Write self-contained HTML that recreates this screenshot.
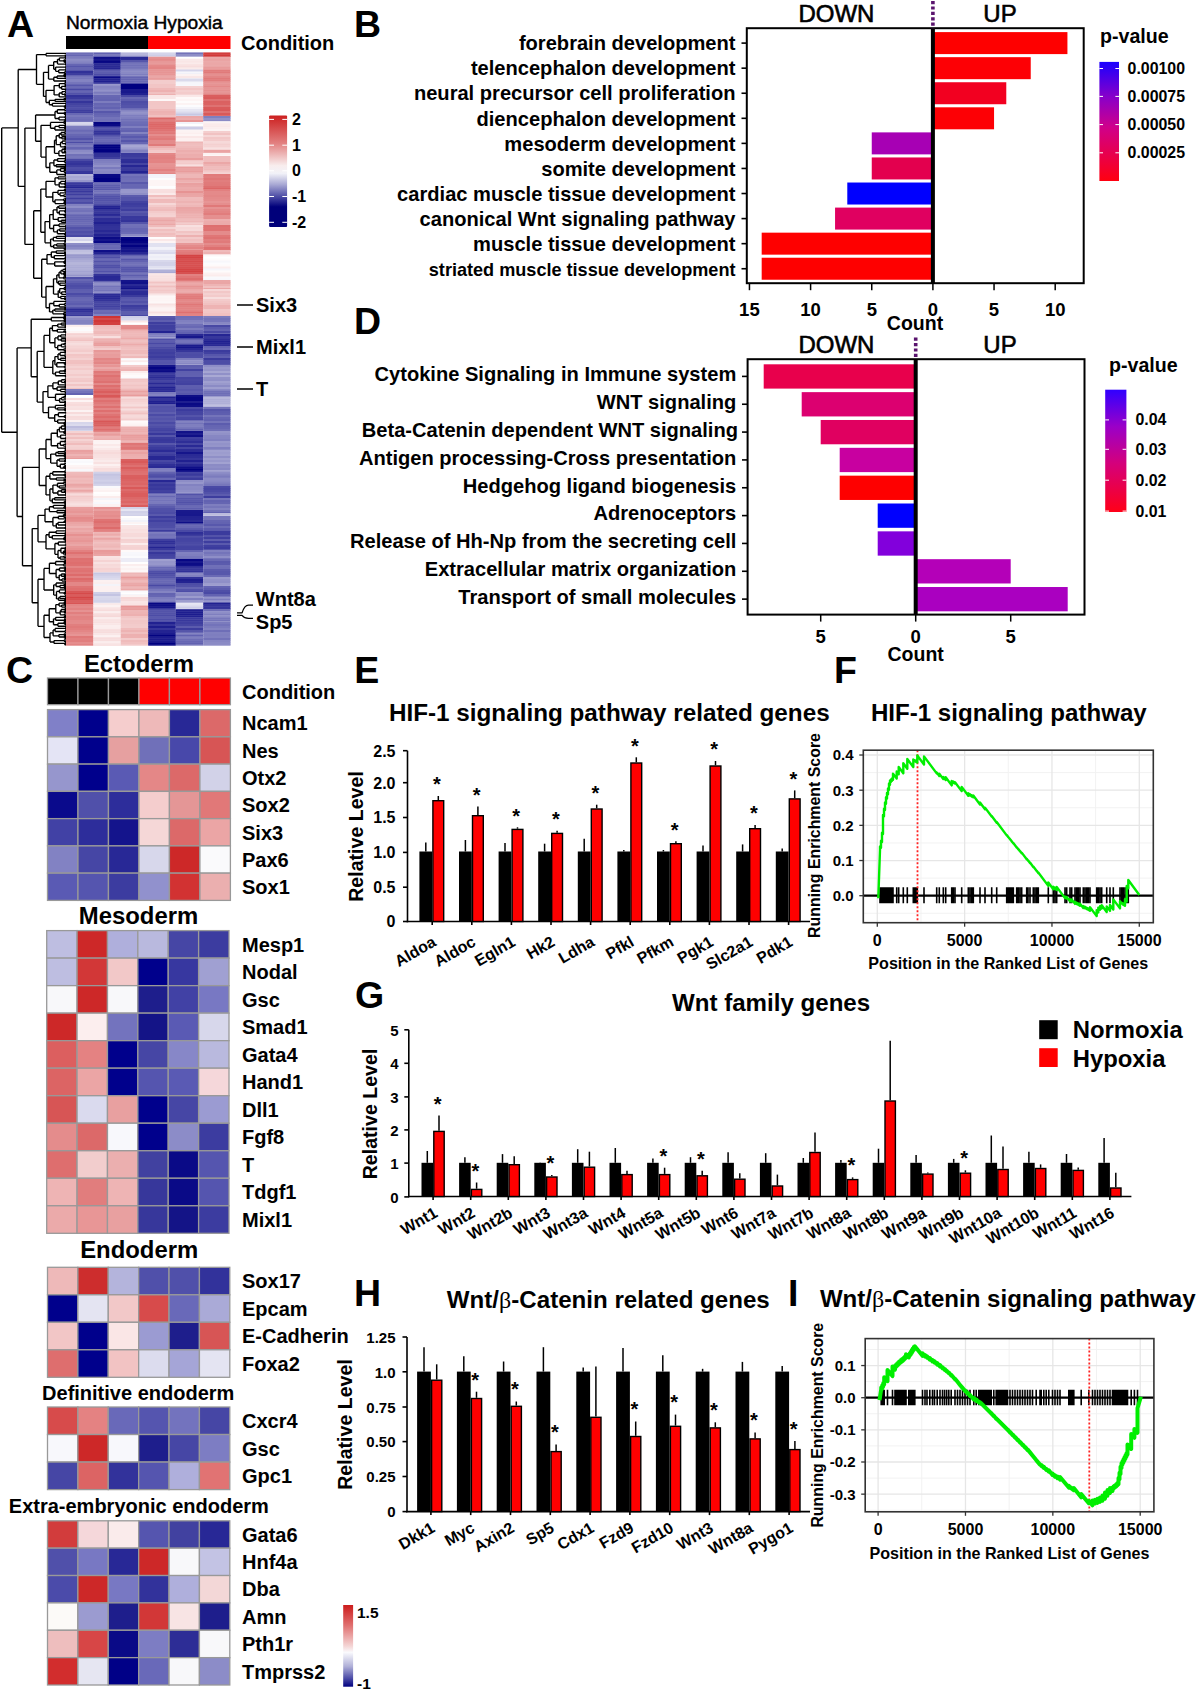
<!DOCTYPE html>
<html><head><meta charset="utf-8"><style>
html,body{margin:0;padding:0;background:#fff;width:1200px;height:1690px;overflow:hidden}
svg{display:block;font-family:"Liberation Sans",sans-serif;font-weight:bold}
</style></head><body>
<svg width="1200" height="1690" viewBox="0 0 1200 1690">
<text x="7.1" y="37.4" font-size="37.5" >A</text>
<text x="66.0" y="28.8" font-size="19.2" font-weight="normal" stroke="#000" stroke-width="0.45">Normoxia Hypoxia</text>
<rect x="66.00" y="36.00" width="82.00" height="13.00" fill="#000" />
<rect x="148.00" y="36.00" width="82.50" height="13.00" fill="#f00" />
<text x="241.0" y="50.0" font-size="20" >Condition</text>
<rect x="66" y="52.4" width="27.45" height="2.4" fill="#6c6cb6"/><rect x="66" y="54.4" width="27.45" height="2.4" fill="#6666b3"/><rect x="66" y="56.4" width="27.45" height="0.7" fill="#7878bc"/><rect x="66" y="56.7" width="27.45" height="2.4" fill="#7d7dbe"/><rect x="66" y="58.7" width="27.45" height="2.4" fill="#8e8ec6"/><rect x="66" y="60.7" width="27.45" height="2.4" fill="#8787c3"/><rect x="66" y="62.7" width="27.45" height="1.1" fill="#7c7cbe"/><rect x="66" y="63.5" width="27.45" height="2.4" fill="#6666b3"/><rect x="66" y="65.5" width="27.45" height="2.4" fill="#5555ab"/><rect x="66" y="67.5" width="27.45" height="2.4" fill="#6464b2"/><rect x="66" y="69.5" width="27.45" height="1.9" fill="#5757ab"/><rect x="66" y="71.0" width="27.45" height="2.4" fill="#313198"/><rect x="66" y="73.0" width="27.45" height="2.4" fill="#3d3d9e"/><rect x="66" y="75.0" width="27.45" height="0.9" fill="#4b4ba6"/><rect x="66" y="75.5" width="27.45" height="2.4" fill="#7272b9"/><rect x="66" y="77.5" width="27.45" height="2.4" fill="#7676bb"/><rect x="66" y="79.5" width="27.45" height="2.4" fill="#8484c2"/><rect x="66" y="81.5" width="27.45" height="2.4" fill="#7676bb"/><rect x="66" y="83.5" width="27.45" height="1.4" fill="#6969b4"/><rect x="66" y="84.5" width="27.45" height="2.4" fill="#5656ab"/><rect x="66" y="86.5" width="27.45" height="2.4" fill="#6a6ab5"/><rect x="66" y="88.5" width="27.45" height="2.4" fill="#4949a4"/><rect x="66" y="90.5" width="27.45" height="2.4" fill="#6666b3"/><rect x="66" y="92.5" width="27.45" height="2.4" fill="#5252a9"/><rect x="66" y="94.5" width="27.45" height="0.9" fill="#4d4da6"/><rect x="66" y="95.0" width="27.45" height="2.4" fill="#323299"/><rect x="66" y="97.0" width="27.45" height="2.4" fill="#39399c"/><rect x="66" y="99.0" width="27.45" height="2.4" fill="#4b4ba5"/><rect x="66" y="101.0" width="27.45" height="2.4" fill="#34349a"/><rect x="66" y="103.0" width="27.45" height="2.4" fill="#4343a1"/><rect x="66" y="105.0" width="27.45" height="0.9" fill="#4545a2"/><rect x="66" y="105.5" width="27.45" height="2.4" fill="#4848a4"/><rect x="66" y="107.5" width="27.45" height="2.4" fill="#4e4ea7"/><rect x="66" y="109.5" width="27.45" height="2.4" fill="#3d3d9e"/><rect x="66" y="111.5" width="27.45" height="1.9" fill="#3d3d9e"/><rect x="66" y="113.0" width="27.45" height="2.4" fill="#6868b4"/><rect x="66" y="115.0" width="27.45" height="2.4" fill="#7979bc"/><rect x="66" y="117.0" width="27.45" height="2.4" fill="#7070b8"/><rect x="66" y="119.0" width="27.45" height="2.4" fill="#6c6cb6"/><rect x="66" y="121.0" width="27.45" height="1.4" fill="#7676bb"/><rect x="66" y="122.0" width="27.45" height="2.4" fill="#d7d7eb"/><rect x="66" y="124.0" width="27.45" height="2.1" fill="#d2d2e8"/><rect x="66" y="125.7" width="27.45" height="2.4" fill="#7d7dbe"/><rect x="66" y="127.7" width="27.45" height="2.4" fill="#7a7abd"/><rect x="66" y="129.7" width="27.45" height="2.4" fill="#6a6ab5"/><rect x="66" y="131.7" width="27.45" height="2.4" fill="#7575ba"/><rect x="66" y="133.7" width="27.45" height="0.6" fill="#7474ba"/><rect x="66" y="134.0" width="27.45" height="2.4" fill="#6767b3"/><rect x="66" y="136.0" width="27.45" height="2.4" fill="#6161b1"/><rect x="66" y="138.0" width="27.45" height="2.4" fill="#5252a9"/><rect x="66" y="140.0" width="27.45" height="2.4" fill="#6a6ab5"/><rect x="66" y="142.0" width="27.45" height="1.4" fill="#4c4ca6"/><rect x="66" y="143.0" width="27.45" height="2.4" fill="#7070b8"/><rect x="66" y="145.0" width="27.45" height="2.4" fill="#7c7cbe"/><rect x="66" y="147.0" width="27.45" height="2.4" fill="#6666b3"/><rect x="66" y="149.0" width="27.45" height="1.4" fill="#7272b9"/><rect x="66" y="150.0" width="27.45" height="2.4" fill="#8a8ac5"/><rect x="66" y="152.0" width="27.45" height="2.4" fill="#9090c8"/><rect x="66" y="154.0" width="27.45" height="2.4" fill="#7171b8"/><rect x="66" y="156.0" width="27.45" height="2.4" fill="#7777bb"/><rect x="66" y="158.0" width="27.45" height="1.4" fill="#6f6fb7"/><rect x="66" y="159.0" width="27.45" height="2.4" fill="#4a4aa5"/><rect x="66" y="161.0" width="27.45" height="2.4" fill="#38389c"/><rect x="66" y="163.0" width="27.45" height="2.4" fill="#333399"/><rect x="66" y="165.0" width="27.45" height="2.4" fill="#3d3d9e"/><rect x="66" y="167.0" width="27.45" height="2.4" fill="#4e4ea7"/><rect x="66" y="169.0" width="27.45" height="2.4" fill="#4b4ba5"/><rect x="66" y="171.0" width="27.45" height="2.4" fill="#37379b"/><rect x="66" y="173.0" width="27.45" height="1.4" fill="#33339a"/><rect x="66" y="174.0" width="27.45" height="2.4" fill="#b5b5da"/><rect x="66" y="176.0" width="27.45" height="2.4" fill="#a8a8d4"/><rect x="66" y="178.0" width="27.45" height="2.4" fill="#adadd6"/><rect x="66" y="180.0" width="27.45" height="2.4" fill="#9797cb"/><rect x="66" y="182.0" width="27.45" height="0.6" fill="#9696cb"/><rect x="66" y="182.2" width="27.45" height="2.4" fill="#3a3a9d"/><rect x="66" y="184.2" width="27.45" height="2.4" fill="#303098"/><rect x="66" y="186.2" width="27.45" height="2.4" fill="#242492"/><rect x="66" y="188.2" width="27.45" height="2.4" fill="#4343a1"/><rect x="66" y="190.2" width="27.45" height="2.4" fill="#38389c"/><rect x="66" y="192.2" width="27.45" height="1.6" fill="#3e3e9f"/><rect x="66" y="193.5" width="27.45" height="2.4" fill="#3e3e9f"/><rect x="66" y="195.5" width="27.45" height="2.4" fill="#5959ac"/><rect x="66" y="197.5" width="27.45" height="2.4" fill="#3d3d9e"/><rect x="66" y="199.5" width="27.45" height="2.4" fill="#5959ad"/><rect x="66" y="201.5" width="27.45" height="2.4" fill="#4b4ba5"/><rect x="66" y="203.5" width="27.45" height="0.9" fill="#4747a3"/><rect x="66" y="204.0" width="27.45" height="2.4" fill="#8181c0"/><rect x="66" y="206.0" width="27.45" height="2.4" fill="#8f8fc7"/><rect x="66" y="208.0" width="27.45" height="2.4" fill="#7777bb"/><rect x="66" y="210.0" width="27.45" height="2.4" fill="#7272b9"/><rect x="66" y="212.0" width="27.45" height="2.4" fill="#8080c0"/><rect x="66" y="214.0" width="27.45" height="0.9" fill="#7676bb"/><rect x="66" y="214.5" width="27.45" height="2.4" fill="#6565b2"/><rect x="66" y="216.5" width="27.45" height="2.4" fill="#6767b3"/><rect x="66" y="218.5" width="27.45" height="2.4" fill="#6363b1"/><rect x="66" y="220.5" width="27.45" height="2.4" fill="#6868b4"/><rect x="66" y="222.5" width="27.45" height="2.4" fill="#6c6cb6"/><rect x="66" y="224.5" width="27.45" height="0.9" fill="#6c6cb6"/><rect x="66" y="225.0" width="27.45" height="2.4" fill="#6363b1"/><rect x="66" y="227.0" width="27.45" height="2.4" fill="#5252a9"/><rect x="66" y="229.0" width="27.45" height="2.4" fill="#5959ac"/><rect x="66" y="231.0" width="27.45" height="2.4" fill="#4e4ea7"/><rect x="66" y="233.0" width="27.45" height="2.4" fill="#5454aa"/><rect x="66" y="235.0" width="27.45" height="2.4" fill="#4848a4"/><rect x="66" y="237.0" width="27.45" height="2.4" fill="#ddddee"/><rect x="66" y="239.0" width="27.45" height="2.4" fill="#d4d4ea"/><rect x="66" y="241.0" width="27.45" height="2.4" fill="#eeeef6"/><rect x="66" y="243.0" width="27.45" height="2.4" fill="#8e8ec7"/><rect x="66" y="245.0" width="27.45" height="2.4" fill="#8181c0"/><rect x="66" y="247.0" width="27.45" height="2.4" fill="#8b8bc5"/><rect x="66" y="249.0" width="27.45" height="1.4" fill="#9c9cce"/><rect x="66" y="250.0" width="27.45" height="2.4" fill="#bfbfdf"/><rect x="66" y="252.0" width="27.45" height="2.4" fill="#c3c3e1"/><rect x="66" y="254.0" width="27.45" height="0.9" fill="#aaaad4"/><rect x="66" y="254.5" width="27.45" height="2.4" fill="#9898cc"/><rect x="66" y="256.5" width="27.45" height="2.4" fill="#9999cc"/><rect x="66" y="258.5" width="27.45" height="2.4" fill="#a7a7d3"/><rect x="66" y="260.5" width="27.45" height="2.4" fill="#acacd6"/><rect x="66" y="262.5" width="27.45" height="2.4" fill="#b6b6da"/><rect x="66" y="264.5" width="27.45" height="2.4" fill="#aeaed6"/><rect x="66" y="266.5" width="27.45" height="2.4" fill="#ababd5"/><rect x="66" y="268.5" width="27.45" height="2.4" fill="#afafd7"/><rect x="66" y="270.5" width="27.45" height="2.4" fill="#a4a4d2"/><rect x="66" y="272.5" width="27.45" height="2.4" fill="#a8a8d3"/><rect x="66" y="274.5" width="27.45" height="2.4" fill="#9595ca"/><rect x="66" y="276.5" width="27.45" height="0.9" fill="#b0b0d8"/><rect x="66" y="277.0" width="27.45" height="2.4" fill="#5050a8"/><rect x="66" y="279.0" width="27.45" height="2.4" fill="#6868b4"/><rect x="66" y="281.0" width="27.45" height="2.4" fill="#5e5eaf"/><rect x="66" y="283.0" width="27.45" height="2.4" fill="#5252a9"/><rect x="66" y="285.0" width="27.45" height="2.4" fill="#4c4ca6"/><rect x="66" y="287.0" width="27.45" height="2.4" fill="#5050a8"/><rect x="66" y="289.0" width="27.45" height="2.4" fill="#5e5eaf"/><rect x="66" y="291.0" width="27.45" height="2.4" fill="#6060b0"/><rect x="66" y="293.0" width="27.45" height="2.4" fill="#4b4ba6"/><rect x="66" y="295.0" width="27.45" height="2.4" fill="#5757ab"/><rect x="66" y="297.0" width="27.45" height="2.4" fill="#6767b3"/><rect x="66" y="299.0" width="27.45" height="2.4" fill="#6969b4"/><rect x="66" y="301.0" width="27.45" height="2.4" fill="#6262b1"/><rect x="66" y="303.0" width="27.45" height="2.4" fill="#5c5cae"/><rect x="66" y="305.0" width="27.45" height="2.4" fill="#6a6ab5"/><rect x="66" y="307.0" width="27.45" height="1.9" fill="#5555aa"/><rect x="66" y="308.5" width="27.45" height="2.4" fill="#2c2c96"/><rect x="66" y="310.5" width="27.45" height="2.4" fill="#323299"/><rect x="66" y="312.5" width="27.45" height="2.4" fill="#4343a2"/><rect x="66" y="314.5" width="27.45" height="1.9" fill="#38389c"/><rect x="66" y="316.0" width="27.45" height="2.4" fill="#9a9acd"/><rect x="66" y="318.0" width="27.45" height="2.4" fill="#8b8bc5"/><rect x="66" y="320.0" width="27.45" height="2.4" fill="#8383c1"/><rect x="66" y="322.0" width="27.45" height="2.4" fill="#8383c1"/><rect x="66" y="324.0" width="27.45" height="1.4" fill="#9d9dce"/><rect x="66" y="325.0" width="27.45" height="2.4" fill="#fbeeee"/><rect x="66" y="327.0" width="27.45" height="2.4" fill="#fefafa"/><rect x="66" y="329.0" width="27.45" height="2.4" fill="#fbfbfd"/><rect x="66" y="331.0" width="27.45" height="2.4" fill="#fdf4f4"/><rect x="66" y="333.0" width="27.45" height="0.6" fill="#fbefef"/><rect x="66" y="333.2" width="27.45" height="2.4" fill="#f5d2d2"/><rect x="66" y="335.2" width="27.45" height="2.4" fill="#f6d7d7"/><rect x="66" y="337.2" width="27.45" height="2.4" fill="#f3caca"/><rect x="66" y="339.2" width="27.45" height="2.4" fill="#f1c2c2"/><rect x="66" y="341.2" width="27.45" height="2.4" fill="#f6d8d8"/><rect x="66" y="343.2" width="27.45" height="2.4" fill="#f7dddd"/><rect x="66" y="345.2" width="27.45" height="2.4" fill="#f5d4d4"/><rect x="66" y="347.2" width="27.45" height="2.4" fill="#f5d2d2"/><rect x="66" y="349.2" width="27.45" height="1.2" fill="#f3caca"/><rect x="66" y="350.0" width="27.45" height="2.4" fill="#f3cbcb"/><rect x="66" y="352.0" width="27.45" height="2.4" fill="#f6d7d7"/><rect x="66" y="354.0" width="27.45" height="2.4" fill="#f2c5c5"/><rect x="66" y="356.0" width="27.45" height="2.4" fill="#f3c9c9"/><rect x="66" y="358.0" width="27.45" height="2.4" fill="#f4d1d1"/><rect x="66" y="360.0" width="27.45" height="2.4" fill="#f1c1c1"/><rect x="66" y="362.0" width="27.45" height="2.4" fill="#f1c0c0"/><rect x="66" y="364.0" width="27.45" height="2.4" fill="#f3caca"/><rect x="66" y="366.0" width="27.45" height="2.4" fill="#f5d2d2"/><rect x="66" y="368.0" width="27.45" height="2.4" fill="#f3caca"/><rect x="66" y="370.0" width="27.45" height="2.4" fill="#f5d5d5"/><rect x="66" y="372.0" width="27.45" height="2.4" fill="#f5d4d4"/><rect x="66" y="374.0" width="27.45" height="2.4" fill="#f3cbcb"/><rect x="66" y="376.0" width="27.45" height="2.4" fill="#f5d5d5"/><rect x="66" y="378.0" width="27.45" height="2.4" fill="#f3cbcb"/><rect x="66" y="380.0" width="27.45" height="2.4" fill="#f2c8c8"/><rect x="66" y="382.0" width="27.45" height="2.4" fill="#f6d7d7"/><rect x="66" y="384.0" width="27.45" height="2.4" fill="#f2c5c5"/><rect x="66" y="386.0" width="27.45" height="2.4" fill="#f5d5d5"/><rect x="66" y="388.0" width="27.45" height="1.4" fill="#f1c2c2"/><rect x="66" y="389.0" width="27.45" height="2.4" fill="#7d7dbe"/><rect x="66" y="391.0" width="27.45" height="2.4" fill="#7373b9"/><rect x="66" y="393.0" width="27.45" height="2.4" fill="#6363b1"/><rect x="66" y="395.0" width="27.45" height="2.4" fill="#ffffff"/><rect x="66" y="397.0" width="27.45" height="1.4" fill="#fbfbfd"/><rect x="66" y="398.0" width="27.45" height="2.4" fill="#f7dcdc"/><rect x="66" y="400.0" width="27.45" height="2.4" fill="#fdf4f4"/><rect x="66" y="402.0" width="27.45" height="2.4" fill="#f8dede"/><rect x="66" y="404.0" width="27.45" height="2.4" fill="#f7dada"/><rect x="66" y="406.0" width="27.45" height="2.4" fill="#f8e2e2"/><rect x="66" y="408.0" width="27.45" height="2.4" fill="#f8e0e0"/><rect x="66" y="410.0" width="27.45" height="2.4" fill="#fcf3f3"/><rect x="66" y="412.0" width="27.45" height="2.4" fill="#f7dbdb"/><rect x="66" y="414.0" width="27.45" height="2.4" fill="#faeaea"/><rect x="66" y="416.0" width="27.45" height="2.4" fill="#f7dbdb"/><rect x="66" y="418.0" width="27.45" height="2.4" fill="#f7dddd"/><rect x="66" y="420.0" width="27.45" height="2.4" fill="#fcf3f3"/><rect x="66" y="422.0" width="27.45" height="2.4" fill="#d6d6eb"/><rect x="66" y="424.0" width="27.45" height="2.4" fill="#dbdbed"/><rect x="66" y="426.0" width="27.45" height="2.4" fill="#bcbcde"/><rect x="66" y="428.0" width="27.45" height="2.4" fill="#c7c7e3"/><rect x="66" y="430.0" width="27.45" height="1.4" fill="#d5d5ea"/><rect x="66" y="431.0" width="27.45" height="2.4" fill="#f5d3d3"/><rect x="66" y="433.0" width="27.45" height="2.4" fill="#f0bdbd"/><rect x="66" y="435.0" width="27.45" height="2.4" fill="#f4d0d0"/><rect x="66" y="437.0" width="27.45" height="2.4" fill="#f0bfbf"/><rect x="66" y="439.0" width="27.45" height="2.4" fill="#f5d4d4"/><rect x="66" y="441.0" width="27.45" height="2.4" fill="#f2c9c9"/><rect x="66" y="443.0" width="27.45" height="2.4" fill="#f0bcbc"/><rect x="66" y="445.0" width="27.45" height="2.4" fill="#f5d2d2"/><rect x="66" y="447.0" width="27.45" height="2.4" fill="#f4d0d0"/><rect x="66" y="449.0" width="27.45" height="1.4" fill="#f2c9c9"/><rect x="66" y="450.0" width="27.45" height="2.4" fill="#e9a0a0"/><rect x="66" y="452.0" width="27.45" height="2.4" fill="#eaa6a6"/><rect x="66" y="454.0" width="27.45" height="2.4" fill="#eeb4b4"/><rect x="66" y="456.0" width="27.45" height="2.4" fill="#eba9a9"/><rect x="66" y="458.0" width="27.45" height="1.4" fill="#e89c9c"/><rect x="66" y="459.0" width="27.45" height="2.4" fill="#fbfbfd"/><rect x="66" y="461.0" width="27.45" height="2.4" fill="#f9f9fc"/><rect x="66" y="463.0" width="27.45" height="2.4" fill="#fdfdfe"/><rect x="66" y="465.0" width="27.45" height="2.4" fill="#fdf4f4"/><rect x="66" y="467.0" width="27.45" height="2.4" fill="#fcf0f0"/><rect x="66" y="469.0" width="27.45" height="2.4" fill="#f8f8fb"/><rect x="66" y="471.0" width="27.45" height="1.1" fill="#f8f8fb"/><rect x="66" y="471.7" width="27.45" height="2.4" fill="#efbbbb"/><rect x="66" y="473.7" width="27.45" height="2.4" fill="#efb8b8"/><rect x="66" y="475.7" width="27.45" height="2.4" fill="#edb2b2"/><rect x="66" y="477.7" width="27.45" height="2.4" fill="#f0bdbd"/><rect x="66" y="479.7" width="27.45" height="2.4" fill="#efb8b8"/><rect x="66" y="481.7" width="27.45" height="2.4" fill="#f0bcbc"/><rect x="66" y="483.7" width="27.45" height="2.4" fill="#eaa5a5"/><rect x="66" y="485.7" width="27.45" height="2.4" fill="#ecacac"/><rect x="66" y="487.7" width="27.45" height="2.4" fill="#f0bfbf"/><rect x="66" y="489.7" width="27.45" height="2.4" fill="#eaa5a5"/><rect x="66" y="491.7" width="27.45" height="2.1" fill="#f0bfbf"/><rect x="66" y="493.5" width="27.45" height="2.4" fill="#f7dbdb"/><rect x="66" y="495.5" width="27.45" height="2.4" fill="#f3c9c9"/><rect x="66" y="497.5" width="27.45" height="2.4" fill="#f4cfcf"/><rect x="66" y="499.5" width="27.45" height="2.4" fill="#f4d1d1"/><rect x="66" y="501.5" width="27.45" height="2.4" fill="#f6dada"/><rect x="66" y="503.5" width="27.45" height="2.4" fill="#f8e1e1"/><rect x="66" y="505.5" width="27.45" height="1.9" fill="#f5d4d4"/><rect x="66" y="507.0" width="27.45" height="2.4" fill="#e99e9e"/><rect x="66" y="509.0" width="27.45" height="2.4" fill="#e89b9b"/><rect x="66" y="511.0" width="27.45" height="2.4" fill="#e79696"/><rect x="66" y="513.0" width="27.45" height="2.4" fill="#e9a1a1"/><rect x="66" y="515.0" width="27.45" height="2.4" fill="#e79696"/><rect x="66" y="517.0" width="27.45" height="2.4" fill="#e48a8a"/><rect x="66" y="519.0" width="27.45" height="2.4" fill="#e58d8d"/><rect x="66" y="521.0" width="27.45" height="1.4" fill="#e69292"/><rect x="66" y="522.0" width="27.45" height="2.4" fill="#eaa4a4"/><rect x="66" y="524.0" width="27.45" height="2.4" fill="#eba9a9"/><rect x="66" y="526.0" width="27.45" height="2.4" fill="#eeb3b3"/><rect x="66" y="528.0" width="27.45" height="2.4" fill="#eaa5a5"/><rect x="66" y="530.0" width="27.45" height="2.4" fill="#ecabab"/><rect x="66" y="532.0" width="27.45" height="2.4" fill="#e9a1a1"/><rect x="66" y="534.0" width="27.45" height="2.4" fill="#e69191"/><rect x="66" y="536.0" width="27.45" height="2.4" fill="#e99f9f"/><rect x="66" y="538.0" width="27.45" height="2.4" fill="#e89b9b"/><rect x="66" y="540.0" width="27.45" height="2.4" fill="#e79696"/><rect x="66" y="542.0" width="27.45" height="2.4" fill="#e9a0a0"/><rect x="66" y="544.0" width="27.45" height="2.4" fill="#eaa6a6"/><rect x="66" y="546.0" width="27.45" height="2.4" fill="#e79797"/><rect x="66" y="548.0" width="27.45" height="2.4" fill="#e69292"/><rect x="66" y="550.0" width="27.45" height="0.4" fill="#e79595"/><rect x="66" y="550.0" width="27.45" height="2.4" fill="#e28080"/><rect x="66" y="552.0" width="27.45" height="2.4" fill="#de7171"/><rect x="66" y="554.0" width="27.45" height="2.4" fill="#e28282"/><rect x="66" y="556.0" width="27.45" height="2.4" fill="#e38686"/><rect x="66" y="558.0" width="27.45" height="2.4" fill="#de7070"/><rect x="66" y="560.0" width="27.45" height="2.4" fill="#df7272"/><rect x="66" y="562.0" width="27.45" height="2.4" fill="#de6e6e"/><rect x="66" y="564.0" width="27.45" height="2.4" fill="#de7171"/><rect x="66" y="566.0" width="27.45" height="2.4" fill="#e38585"/><rect x="66" y="568.0" width="27.45" height="2.4" fill="#df7575"/><rect x="66" y="570.0" width="27.45" height="2.4" fill="#df7272"/><rect x="66" y="572.0" width="27.45" height="2.4" fill="#e07a7a"/><rect x="66" y="574.0" width="27.45" height="2.4" fill="#dd6b6b"/><rect x="66" y="576.0" width="27.45" height="2.4" fill="#e28080"/><rect x="66" y="578.0" width="27.45" height="2.4" fill="#dd6a6a"/><rect x="66" y="580.0" width="27.45" height="2.4" fill="#de7272"/><rect x="66" y="582.0" width="27.45" height="2.4" fill="#e38787"/><rect x="66" y="584.0" width="27.45" height="2.4" fill="#e38787"/><rect x="66" y="586.0" width="27.45" height="2.4" fill="#df7474"/><rect x="66" y="588.0" width="27.45" height="2.4" fill="#de6f6f"/><rect x="66" y="590.0" width="27.45" height="0.9" fill="#e38585"/><rect x="66" y="590.5" width="27.45" height="2.4" fill="#d85757"/><rect x="66" y="592.5" width="27.45" height="2.4" fill="#d54a4a"/><rect x="66" y="594.5" width="27.45" height="2.4" fill="#d95c5c"/><rect x="66" y="596.5" width="27.45" height="2.4" fill="#d44646"/><rect x="66" y="598.5" width="27.45" height="2.4" fill="#d75252"/><rect x="66" y="600.5" width="27.45" height="2.4" fill="#da5f5f"/><rect x="66" y="602.5" width="27.45" height="1.9" fill="#d85555"/><rect x="66" y="604.0" width="27.45" height="2.4" fill="#e38585"/><rect x="66" y="606.0" width="27.45" height="2.4" fill="#e48a8a"/><rect x="66" y="608.0" width="27.45" height="2.4" fill="#e28282"/><rect x="66" y="610.0" width="27.45" height="2.4" fill="#e69292"/><rect x="66" y="612.0" width="27.45" height="2.4" fill="#e17f7f"/><rect x="66" y="614.0" width="27.45" height="2.4" fill="#e48c8c"/><rect x="66" y="616.0" width="27.45" height="2.4" fill="#e28383"/><rect x="66" y="618.0" width="27.45" height="2.4" fill="#e38484"/><rect x="66" y="620.0" width="27.45" height="2.4" fill="#e48a8a"/><rect x="66" y="622.0" width="27.45" height="2.4" fill="#e48b8b"/><rect x="66" y="624.0" width="27.45" height="2.4" fill="#e17f7f"/><rect x="66" y="626.0" width="27.45" height="2.4" fill="#e07a7a"/><rect x="66" y="628.0" width="27.45" height="2.4" fill="#e27f7f"/><rect x="66" y="630.0" width="27.45" height="2.4" fill="#e38686"/><rect x="66" y="632.0" width="27.45" height="2.4" fill="#e58e8e"/><rect x="66" y="634.0" width="27.45" height="2.4" fill="#e79595"/><rect x="66" y="636.0" width="27.45" height="2.4" fill="#e07979"/><rect x="66" y="638.0" width="27.45" height="2.4" fill="#e28181"/><rect x="66" y="640.0" width="27.45" height="2.4" fill="#e17e7e"/><rect x="66" y="642.0" width="27.45" height="2.4" fill="#e58d8d"/><rect x="66" y="644.0" width="27.45" height="1.7" fill="#e38484"/>
<rect x="93.4" y="52.4" width="27.40" height="2.4" fill="#6262b1"/><rect x="93.4" y="54.4" width="27.40" height="2.4" fill="#7979bc"/><rect x="93.4" y="56.4" width="27.40" height="0.7" fill="#7c7cbe"/><rect x="93.4" y="56.7" width="27.40" height="2.4" fill="#0f0f88"/><rect x="93.4" y="58.7" width="27.40" height="2.4" fill="#1a1a8d"/><rect x="93.4" y="60.7" width="27.40" height="2.4" fill="#060683"/><rect x="93.4" y="62.7" width="27.40" height="1.1" fill="#14148a"/><rect x="93.4" y="63.5" width="27.40" height="2.4" fill="#2a2a95"/><rect x="93.4" y="65.5" width="27.40" height="2.4" fill="#292994"/><rect x="93.4" y="67.5" width="27.40" height="2.4" fill="#252592"/><rect x="93.4" y="69.5" width="27.40" height="2.4" fill="#5959ac"/><rect x="93.4" y="71.5" width="27.40" height="2.4" fill="#5c5cae"/><rect x="93.4" y="73.5" width="27.40" height="2.4" fill="#4c4ca6"/><rect x="93.4" y="75.5" width="27.40" height="1.1" fill="#5252a9"/><rect x="93.4" y="76.2" width="27.40" height="2.4" fill="#0a0a85"/><rect x="93.4" y="78.2" width="27.40" height="2.4" fill="#212190"/><rect x="93.4" y="80.2" width="27.40" height="2.4" fill="#1f1f8f"/><rect x="93.4" y="82.2" width="27.40" height="1.9" fill="#2b2b95"/><rect x="93.4" y="83.7" width="27.40" height="2.4" fill="#9898cc"/><rect x="93.4" y="85.7" width="27.40" height="2.4" fill="#8585c2"/><rect x="93.4" y="87.7" width="27.40" height="2.4" fill="#8888c4"/><rect x="93.4" y="89.7" width="27.40" height="2.4" fill="#9292c9"/><rect x="93.4" y="91.7" width="27.40" height="2.4" fill="#7b7bbd"/><rect x="93.4" y="93.7" width="27.40" height="1.6" fill="#8b8bc5"/><rect x="93.4" y="95.0" width="27.40" height="2.4" fill="#6767b3"/><rect x="93.4" y="97.0" width="27.40" height="2.4" fill="#6565b2"/><rect x="93.4" y="99.0" width="27.40" height="2.4" fill="#6363b1"/><rect x="93.4" y="101.0" width="27.40" height="2.4" fill="#7c7cbe"/><rect x="93.4" y="103.0" width="27.40" height="2.4" fill="#6666b3"/><rect x="93.4" y="105.0" width="27.40" height="2.4" fill="#6a6ab5"/><rect x="93.4" y="107.0" width="27.40" height="2.4" fill="#6262b1"/><rect x="93.4" y="109.0" width="27.40" height="2.4" fill="#7373b9"/><rect x="93.4" y="111.0" width="27.40" height="2.4" fill="#5757ab"/><rect x="93.4" y="113.0" width="27.40" height="2.4" fill="#6464b2"/><rect x="93.4" y="115.0" width="27.40" height="2.4" fill="#6868b4"/><rect x="93.4" y="117.0" width="27.40" height="2.4" fill="#7474ba"/><rect x="93.4" y="119.0" width="27.40" height="2.4" fill="#7171b8"/><rect x="93.4" y="121.0" width="27.40" height="1.4" fill="#7373b9"/><rect x="93.4" y="122.0" width="27.40" height="2.4" fill="#050582"/><rect x="93.4" y="124.0" width="27.40" height="2.4" fill="#0a0a85"/><rect x="93.4" y="126.0" width="27.40" height="0.9" fill="#080884"/><rect x="93.4" y="126.5" width="27.40" height="2.4" fill="#4d4da7"/><rect x="93.4" y="128.5" width="27.40" height="2.4" fill="#5050a8"/><rect x="93.4" y="130.5" width="27.40" height="2.4" fill="#33339a"/><rect x="93.4" y="132.5" width="27.40" height="2.4" fill="#34349a"/><rect x="93.4" y="134.5" width="27.40" height="1.4" fill="#36369b"/><rect x="93.4" y="135.5" width="27.40" height="2.4" fill="#5c5cae"/><rect x="93.4" y="137.5" width="27.40" height="2.4" fill="#6565b3"/><rect x="93.4" y="139.5" width="27.40" height="2.4" fill="#6969b4"/><rect x="93.4" y="141.5" width="27.40" height="2.4" fill="#5e5eaf"/><rect x="93.4" y="143.5" width="27.40" height="1.4" fill="#5454aa"/><rect x="93.4" y="144.5" width="27.40" height="2.4" fill="#000080"/><rect x="93.4" y="146.5" width="27.40" height="2.4" fill="#000080"/><rect x="93.4" y="148.5" width="27.40" height="1.9" fill="#020281"/><rect x="93.4" y="150.0" width="27.40" height="2.4" fill="#000080"/><rect x="93.4" y="152.0" width="27.40" height="1.4" fill="#18188c"/><rect x="93.4" y="153.0" width="27.40" height="2.4" fill="#313198"/><rect x="93.4" y="155.0" width="27.40" height="2.4" fill="#333399"/><rect x="93.4" y="157.0" width="27.40" height="2.4" fill="#3f3f9f"/><rect x="93.4" y="159.0" width="27.40" height="2.4" fill="#7c7cbe"/><rect x="93.4" y="161.0" width="27.40" height="2.4" fill="#8080c0"/><rect x="93.4" y="163.0" width="27.40" height="2.4" fill="#8686c3"/><rect x="93.4" y="165.0" width="27.40" height="2.4" fill="#9191c8"/><rect x="93.4" y="167.0" width="27.40" height="2.4" fill="#7a7abd"/><rect x="93.4" y="169.0" width="27.40" height="2.4" fill="#8b8bc5"/><rect x="93.4" y="171.0" width="27.40" height="2.4" fill="#8787c3"/><rect x="93.4" y="173.0" width="27.40" height="1.4" fill="#8484c2"/><rect x="93.4" y="174.0" width="27.40" height="2.4" fill="#090985"/><rect x="93.4" y="176.0" width="27.40" height="2.4" fill="#070784"/><rect x="93.4" y="178.0" width="27.40" height="2.4" fill="#000080"/><rect x="93.4" y="180.0" width="27.40" height="2.4" fill="#000080"/><rect x="93.4" y="182.0" width="27.40" height="0.6" fill="#000080"/><rect x="93.4" y="182.2" width="27.40" height="2.4" fill="#6f6fb7"/><rect x="93.4" y="184.2" width="27.40" height="2.4" fill="#5d5dae"/><rect x="93.4" y="186.2" width="27.40" height="2.4" fill="#5a5aad"/><rect x="93.4" y="188.2" width="27.40" height="2.4" fill="#5757ab"/><rect x="93.4" y="190.2" width="27.40" height="2.4" fill="#7272b9"/><rect x="93.4" y="192.2" width="27.40" height="1.6" fill="#7373b9"/><rect x="93.4" y="193.5" width="27.40" height="2.4" fill="#5f5faf"/><rect x="93.4" y="195.5" width="27.40" height="2.4" fill="#5151a9"/><rect x="93.4" y="197.5" width="27.40" height="2.4" fill="#5050a8"/><rect x="93.4" y="199.5" width="27.40" height="2.4" fill="#5252a9"/><rect x="93.4" y="201.5" width="27.40" height="2.4" fill="#5858ac"/><rect x="93.4" y="203.5" width="27.40" height="2.4" fill="#4d4da6"/><rect x="93.4" y="205.5" width="27.40" height="2.4" fill="#242492"/><rect x="93.4" y="207.5" width="27.40" height="2.4" fill="#1e1e8f"/><rect x="93.4" y="209.5" width="27.40" height="2.4" fill="#37379b"/><rect x="93.4" y="211.5" width="27.40" height="2.4" fill="#37379b"/><rect x="93.4" y="213.5" width="27.40" height="2.4" fill="#282894"/><rect x="93.4" y="215.5" width="27.40" height="0.9" fill="#1d1d8f"/><rect x="93.4" y="216.0" width="27.40" height="2.4" fill="#4444a2"/><rect x="93.4" y="218.0" width="27.40" height="2.4" fill="#2c2c96"/><rect x="93.4" y="220.0" width="27.40" height="2.4" fill="#2e2e97"/><rect x="93.4" y="222.0" width="27.40" height="2.4" fill="#212191"/><rect x="93.4" y="224.0" width="27.40" height="2.4" fill="#2f2f97"/><rect x="93.4" y="226.0" width="27.40" height="2.4" fill="#323299"/><rect x="93.4" y="228.0" width="27.40" height="2.4" fill="#333399"/><rect x="93.4" y="230.0" width="27.40" height="2.4" fill="#282894"/><rect x="93.4" y="232.0" width="27.40" height="2.4" fill="#333399"/><rect x="93.4" y="234.0" width="27.40" height="2.4" fill="#212191"/><rect x="93.4" y="236.0" width="27.40" height="1.4" fill="#2b2b95"/><rect x="93.4" y="237.0" width="27.40" height="2.4" fill="#0b0b85"/><rect x="93.4" y="239.0" width="27.40" height="2.4" fill="#16168b"/><rect x="93.4" y="241.0" width="27.40" height="2.4" fill="#090985"/><rect x="93.4" y="243.0" width="27.40" height="2.4" fill="#6262b1"/><rect x="93.4" y="245.0" width="27.40" height="2.4" fill="#6c6cb6"/><rect x="93.4" y="247.0" width="27.40" height="2.4" fill="#6969b4"/><rect x="93.4" y="249.0" width="27.40" height="1.4" fill="#7676bb"/><rect x="93.4" y="250.0" width="27.40" height="2.4" fill="#0f0f87"/><rect x="93.4" y="252.0" width="27.40" height="2.4" fill="#242492"/><rect x="93.4" y="254.0" width="27.40" height="0.9" fill="#222291"/><rect x="93.4" y="254.5" width="27.40" height="2.4" fill="#5959ad"/><rect x="93.4" y="256.5" width="27.40" height="2.4" fill="#4f4fa7"/><rect x="93.4" y="258.5" width="27.40" height="2.4" fill="#6a6ab5"/><rect x="93.4" y="260.5" width="27.40" height="2.4" fill="#5353a9"/><rect x="93.4" y="262.5" width="27.40" height="2.4" fill="#6565b2"/><rect x="93.4" y="264.5" width="27.40" height="2.4" fill="#5050a8"/><rect x="93.4" y="266.5" width="27.40" height="2.4" fill="#4f4fa7"/><rect x="93.4" y="268.5" width="27.40" height="2.4" fill="#6363b1"/><rect x="93.4" y="270.5" width="27.40" height="2.4" fill="#5252a9"/><rect x="93.4" y="272.5" width="27.40" height="1.9" fill="#6969b4"/><rect x="93.4" y="274.0" width="27.40" height="2.4" fill="#333399"/><rect x="93.4" y="276.0" width="27.40" height="2.4" fill="#282894"/><rect x="93.4" y="278.0" width="27.40" height="2.4" fill="#292994"/><rect x="93.4" y="280.0" width="27.40" height="1.9" fill="#303098"/><rect x="93.4" y="281.5" width="27.40" height="2.4" fill="#8585c2"/><rect x="93.4" y="283.5" width="27.40" height="2.4" fill="#9090c7"/><rect x="93.4" y="285.5" width="27.40" height="2.4" fill="#7373b9"/><rect x="93.4" y="287.5" width="27.40" height="2.4" fill="#7c7cbe"/><rect x="93.4" y="289.5" width="27.40" height="2.4" fill="#7575ba"/><rect x="93.4" y="291.5" width="27.40" height="2.4" fill="#9090c8"/><rect x="93.4" y="293.5" width="27.40" height="2.4" fill="#2b2b96"/><rect x="93.4" y="295.5" width="27.40" height="2.4" fill="#282894"/><rect x="93.4" y="297.5" width="27.40" height="2.4" fill="#282894"/><rect x="93.4" y="299.5" width="27.40" height="2.4" fill="#34349a"/><rect x="93.4" y="301.5" width="27.40" height="2.4" fill="#4646a3"/><rect x="93.4" y="303.5" width="27.40" height="2.4" fill="#4646a3"/><rect x="93.4" y="305.5" width="27.40" height="2.4" fill="#4040a0"/><rect x="93.4" y="307.5" width="27.40" height="2.4" fill="#4a4aa5"/><rect x="93.4" y="309.5" width="27.40" height="0.9" fill="#4848a4"/><rect x="93.4" y="310.0" width="27.40" height="2.4" fill="#6d6db6"/><rect x="93.4" y="312.0" width="27.40" height="2.4" fill="#6868b4"/><rect x="93.4" y="314.0" width="27.40" height="2.4" fill="#8282c1"/><rect x="93.4" y="316.0" width="27.40" height="2.4" fill="#d03434"/><rect x="93.4" y="318.0" width="27.40" height="2.4" fill="#d54a4a"/><rect x="93.4" y="320.0" width="27.40" height="2.4" fill="#d13737"/><rect x="93.4" y="322.0" width="27.40" height="2.4" fill="#d33f3f"/><rect x="93.4" y="324.0" width="27.40" height="1.4" fill="#d34040"/><rect x="93.4" y="325.0" width="27.40" height="2.4" fill="#efb8b8"/><rect x="93.4" y="327.0" width="27.40" height="2.4" fill="#f0bdbd"/><rect x="93.4" y="329.0" width="27.40" height="2.4" fill="#f1c2c2"/><rect x="93.4" y="331.0" width="27.40" height="2.4" fill="#efbaba"/><rect x="93.4" y="333.0" width="27.40" height="1.4" fill="#efb8b8"/><rect x="93.4" y="334.0" width="27.40" height="2.4" fill="#f2c6c6"/><rect x="93.4" y="336.0" width="27.40" height="2.4" fill="#f8dfdf"/><rect x="93.4" y="338.0" width="27.40" height="0.9" fill="#f2c5c5"/><rect x="93.4" y="338.5" width="27.40" height="2.4" fill="#edb1b1"/><rect x="93.4" y="340.5" width="27.40" height="2.4" fill="#ecadad"/><rect x="93.4" y="342.5" width="27.40" height="2.4" fill="#e99e9e"/><rect x="93.4" y="344.5" width="27.40" height="1.9" fill="#e99e9e"/><rect x="93.4" y="346.0" width="27.40" height="2.4" fill="#f0c0c0"/><rect x="93.4" y="348.0" width="27.40" height="2.4" fill="#f3cccc"/><rect x="93.4" y="350.0" width="27.40" height="0.4" fill="#f0bfbf"/><rect x="93.4" y="350.0" width="27.40" height="2.4" fill="#e79898"/><rect x="93.4" y="352.0" width="27.40" height="2.4" fill="#e9a1a1"/><rect x="93.4" y="354.0" width="27.40" height="2.4" fill="#e89c9c"/><rect x="93.4" y="356.0" width="27.40" height="2.4" fill="#e89d9d"/><rect x="93.4" y="358.0" width="27.40" height="2.4" fill="#e38585"/><rect x="93.4" y="360.0" width="27.40" height="2.4" fill="#e58d8d"/><rect x="93.4" y="362.0" width="27.40" height="2.4" fill="#e38686"/><rect x="93.4" y="364.0" width="27.40" height="1.4" fill="#e89d9d"/><rect x="93.4" y="365.0" width="27.40" height="2.4" fill="#e79595"/><rect x="93.4" y="367.0" width="27.40" height="2.4" fill="#eba9a9"/><rect x="93.4" y="369.0" width="27.40" height="2.4" fill="#e89c9c"/><rect x="93.4" y="371.0" width="27.40" height="2.4" fill="#e07979"/><rect x="93.4" y="373.0" width="27.40" height="2.4" fill="#e28181"/><rect x="93.4" y="375.0" width="27.40" height="2.4" fill="#de7171"/><rect x="93.4" y="377.0" width="27.40" height="2.4" fill="#e17b7b"/><rect x="93.4" y="379.0" width="27.40" height="2.4" fill="#e07a7a"/><rect x="93.4" y="381.0" width="27.40" height="2.4" fill="#de7171"/><rect x="93.4" y="383.0" width="27.40" height="2.4" fill="#e48989"/><rect x="93.4" y="385.0" width="27.40" height="2.4" fill="#de6e6e"/><rect x="93.4" y="387.0" width="27.40" height="2.4" fill="#e07979"/><rect x="93.4" y="389.0" width="27.40" height="2.4" fill="#dd6a6a"/><rect x="93.4" y="391.0" width="27.40" height="2.4" fill="#da5e5e"/><rect x="93.4" y="393.0" width="27.40" height="2.4" fill="#de6e6e"/><rect x="93.4" y="395.0" width="27.40" height="2.4" fill="#d95858"/><rect x="93.4" y="397.0" width="27.40" height="1.4" fill="#db6565"/><rect x="93.4" y="398.0" width="27.40" height="2.4" fill="#e17d7d"/><rect x="93.4" y="400.0" width="27.40" height="2.4" fill="#de7070"/><rect x="93.4" y="402.0" width="27.40" height="2.4" fill="#e07a7a"/><rect x="93.4" y="404.0" width="27.40" height="2.4" fill="#e28282"/><rect x="93.4" y="406.0" width="27.40" height="2.4" fill="#de7171"/><rect x="93.4" y="408.0" width="27.40" height="2.4" fill="#e38686"/><rect x="93.4" y="410.0" width="27.40" height="2.4" fill="#de6f6f"/><rect x="93.4" y="412.0" width="27.40" height="2.4" fill="#e28080"/><rect x="93.4" y="414.0" width="27.40" height="2.4" fill="#df7474"/><rect x="93.4" y="416.0" width="27.40" height="2.4" fill="#dd6a6a"/><rect x="93.4" y="418.0" width="27.40" height="2.4" fill="#df7676"/><rect x="93.4" y="420.0" width="27.40" height="0.9" fill="#df7373"/><rect x="93.4" y="420.5" width="27.40" height="2.4" fill="#d85757"/><rect x="93.4" y="422.5" width="27.40" height="2.4" fill="#da6161"/><rect x="93.4" y="424.5" width="27.40" height="2.4" fill="#da6060"/><rect x="93.4" y="426.5" width="27.40" height="2.4" fill="#e17d7d"/><rect x="93.4" y="428.5" width="27.40" height="2.4" fill="#de6e6e"/><rect x="93.4" y="430.5" width="27.40" height="1.6" fill="#df7474"/><rect x="93.4" y="431.7" width="27.40" height="2.4" fill="#eba8a8"/><rect x="93.4" y="433.7" width="27.40" height="2.4" fill="#e89c9c"/><rect x="93.4" y="435.7" width="27.40" height="2.4" fill="#eeb3b3"/><rect x="93.4" y="437.7" width="27.40" height="2.4" fill="#edb0b0"/><rect x="93.4" y="439.7" width="27.40" height="0.6" fill="#eaa4a4"/><rect x="93.4" y="440.0" width="27.40" height="2.4" fill="#fcf3f3"/><rect x="93.4" y="442.0" width="27.40" height="2.4" fill="#fcf4f4"/><rect x="93.4" y="444.0" width="27.40" height="2.4" fill="#fae9e9"/><rect x="93.4" y="446.0" width="27.40" height="2.4" fill="#fcf1f1"/><rect x="93.4" y="448.0" width="27.40" height="2.4" fill="#fae9e9"/><rect x="93.4" y="450.0" width="27.40" height="0.4" fill="#fbeded"/><rect x="93.4" y="450.0" width="27.40" height="2.4" fill="#f8dfdf"/><rect x="93.4" y="452.0" width="27.40" height="2.4" fill="#f7dada"/><rect x="93.4" y="454.0" width="27.40" height="2.4" fill="#f8e0e0"/><rect x="93.4" y="456.0" width="27.40" height="2.4" fill="#f8e1e1"/><rect x="93.4" y="458.0" width="27.40" height="2.4" fill="#f9e6e6"/><rect x="93.4" y="460.0" width="27.40" height="2.4" fill="#faebeb"/><rect x="93.4" y="462.0" width="27.40" height="2.4" fill="#f8e1e1"/><rect x="93.4" y="464.0" width="27.40" height="2.4" fill="#fcf1f1"/><rect x="93.4" y="466.0" width="27.40" height="2.4" fill="#fae7e7"/><rect x="93.4" y="468.0" width="27.40" height="2.4" fill="#f7dcdc"/><rect x="93.4" y="470.0" width="27.40" height="2.1" fill="#f8dede"/><rect x="93.4" y="471.7" width="27.40" height="2.4" fill="#d1d1e8"/><rect x="93.4" y="473.7" width="27.40" height="2.4" fill="#c3c3e1"/><rect x="93.4" y="475.7" width="27.40" height="2.4" fill="#c9c9e4"/><rect x="93.4" y="477.7" width="27.40" height="2.4" fill="#cacae5"/><rect x="93.4" y="479.7" width="27.40" height="2.4" fill="#d0d0e8"/><rect x="93.4" y="481.7" width="27.40" height="2.4" fill="#c9c9e4"/><rect x="93.4" y="483.7" width="27.40" height="2.4" fill="#d2d2e9"/><rect x="93.4" y="485.7" width="27.40" height="0.6" fill="#dbdbed"/><rect x="93.4" y="486.0" width="27.40" height="2.4" fill="#f9f9fc"/><rect x="93.4" y="488.0" width="27.40" height="2.4" fill="#fdf6f6"/><rect x="93.4" y="490.0" width="27.40" height="2.4" fill="#fcf2f2"/><rect x="93.4" y="492.0" width="27.40" height="2.4" fill="#fffefe"/><rect x="93.4" y="494.0" width="27.40" height="2.4" fill="#fefbfb"/><rect x="93.4" y="496.0" width="27.40" height="2.4" fill="#fbecec"/><rect x="93.4" y="498.0" width="27.40" height="2.4" fill="#f4f4f9"/><rect x="93.4" y="500.0" width="27.40" height="2.4" fill="#fef9f9"/><rect x="93.4" y="502.0" width="27.40" height="2.4" fill="#f8f8fc"/><rect x="93.4" y="504.0" width="27.40" height="2.4" fill="#fcf2f2"/><rect x="93.4" y="506.0" width="27.40" height="1.4" fill="#fbeded"/><rect x="93.4" y="507.0" width="27.40" height="2.4" fill="#e69292"/><rect x="93.4" y="509.0" width="27.40" height="2.4" fill="#e99f9f"/><rect x="93.4" y="511.0" width="27.40" height="2.4" fill="#e59090"/><rect x="93.4" y="513.0" width="27.40" height="2.4" fill="#e69191"/><rect x="93.4" y="515.0" width="27.40" height="2.4" fill="#e48c8c"/><rect x="93.4" y="517.0" width="27.40" height="2.4" fill="#e69292"/><rect x="93.4" y="519.0" width="27.40" height="2.4" fill="#df7474"/><rect x="93.4" y="521.0" width="27.40" height="2.4" fill="#de6e6e"/><rect x="93.4" y="523.0" width="27.40" height="2.4" fill="#e07878"/><rect x="93.4" y="525.0" width="27.40" height="2.4" fill="#e17b7b"/><rect x="93.4" y="527.0" width="27.40" height="2.4" fill="#dd6b6b"/><rect x="93.4" y="529.0" width="27.40" height="2.4" fill="#e28181"/><rect x="93.4" y="531.0" width="27.40" height="1.1" fill="#df7373"/><rect x="93.4" y="531.7" width="27.40" height="2.4" fill="#eeb6b6"/><rect x="93.4" y="533.7" width="27.40" height="2.4" fill="#ecabab"/><rect x="93.4" y="535.7" width="27.40" height="2.4" fill="#f0bfbf"/><rect x="93.4" y="537.7" width="27.40" height="2.4" fill="#eaa4a4"/><rect x="93.4" y="539.7" width="27.40" height="2.4" fill="#efb7b7"/><rect x="93.4" y="541.7" width="27.40" height="2.4" fill="#f1c1c1"/><rect x="93.4" y="543.7" width="27.40" height="2.4" fill="#efbaba"/><rect x="93.4" y="545.7" width="27.40" height="2.4" fill="#eeb6b6"/><rect x="93.4" y="547.7" width="27.40" height="2.4" fill="#f1c2c2"/><rect x="93.4" y="549.7" width="27.40" height="0.7" fill="#eeb6b6"/><rect x="93.4" y="550.0" width="27.40" height="2.4" fill="#e89a9a"/><rect x="93.4" y="552.0" width="27.40" height="2.4" fill="#e99e9e"/><rect x="93.4" y="554.0" width="27.40" height="2.4" fill="#eaa5a5"/><rect x="93.4" y="556.0" width="27.40" height="2.4" fill="#f9e4e4"/><rect x="93.4" y="558.0" width="27.40" height="2.4" fill="#f8e1e1"/><rect x="93.4" y="560.0" width="27.40" height="2.4" fill="#f5d3d3"/><rect x="93.4" y="562.0" width="27.40" height="2.4" fill="#f8e2e2"/><rect x="93.4" y="564.0" width="27.40" height="2.4" fill="#f6d9d9"/><rect x="93.4" y="566.0" width="27.40" height="2.4" fill="#f7dbdb"/><rect x="93.4" y="568.0" width="27.40" height="2.4" fill="#f5d2d2"/><rect x="93.4" y="570.0" width="27.40" height="2.4" fill="#f5d5d5"/><rect x="93.4" y="572.0" width="27.40" height="0.9" fill="#f9e5e5"/><rect x="93.4" y="572.5" width="27.40" height="2.4" fill="#c7c7e3"/><rect x="93.4" y="574.5" width="27.40" height="2.4" fill="#d0d0e8"/><rect x="93.4" y="576.5" width="27.40" height="2.4" fill="#d6d6eb"/><rect x="93.4" y="578.5" width="27.40" height="1.9" fill="#dcdced"/><rect x="93.4" y="580.0" width="27.40" height="2.4" fill="#fcf1f1"/><rect x="93.4" y="582.0" width="27.40" height="2.4" fill="#fbefef"/><rect x="93.4" y="584.0" width="27.40" height="2.4" fill="#f4f4f9"/><rect x="93.4" y="586.0" width="27.40" height="2.4" fill="#fcf1f1"/><rect x="93.4" y="588.0" width="27.40" height="2.4" fill="#fcf1f1"/><rect x="93.4" y="590.0" width="27.40" height="2.4" fill="#fbf0f0"/><rect x="93.4" y="592.0" width="27.40" height="2.4" fill="#cfcfe7"/><rect x="93.4" y="594.0" width="27.40" height="2.4" fill="#c4c4e2"/><rect x="93.4" y="596.0" width="27.40" height="2.4" fill="#d9d9ec"/><rect x="93.4" y="598.0" width="27.40" height="2.4" fill="#d7d7eb"/><rect x="93.4" y="600.0" width="27.40" height="2.4" fill="#d3d3e9"/><rect x="93.4" y="602.0" width="27.40" height="1.6" fill="#dbdbed"/><rect x="93.4" y="603.2" width="27.40" height="2.4" fill="#faeaea"/><rect x="93.4" y="605.2" width="27.40" height="2.4" fill="#fcf2f2"/><rect x="93.4" y="607.2" width="27.40" height="2.4" fill="#f9e3e3"/><rect x="93.4" y="609.2" width="27.40" height="2.4" fill="#f7dcdc"/><rect x="93.4" y="611.2" width="27.40" height="2.4" fill="#fbeeee"/><rect x="93.4" y="613.2" width="27.40" height="2.4" fill="#f7dddd"/><rect x="93.4" y="615.2" width="27.40" height="2.4" fill="#f6d8d8"/><rect x="93.4" y="617.2" width="27.40" height="2.4" fill="#fbeded"/><rect x="93.4" y="619.2" width="27.40" height="2.4" fill="#f8e2e2"/><rect x="93.4" y="621.2" width="27.40" height="2.4" fill="#f8e0e0"/><rect x="93.4" y="623.2" width="27.40" height="2.4" fill="#f9e6e6"/><rect x="93.4" y="625.2" width="27.40" height="2.4" fill="#fbeeee"/><rect x="93.4" y="627.2" width="27.40" height="2.4" fill="#fbecec"/><rect x="93.4" y="629.2" width="27.40" height="2.4" fill="#f7dddd"/><rect x="93.4" y="631.2" width="27.40" height="2.4" fill="#f7dcdc"/><rect x="93.4" y="633.2" width="27.40" height="2.4" fill="#f9e6e6"/><rect x="93.4" y="635.2" width="27.40" height="2.4" fill="#fcf1f1"/><rect x="93.4" y="637.2" width="27.40" height="2.4" fill="#f7dcdc"/><rect x="93.4" y="639.2" width="27.40" height="2.4" fill="#f7dddd"/><rect x="93.4" y="641.2" width="27.40" height="2.4" fill="#fbeded"/><rect x="93.4" y="643.2" width="27.40" height="2.4" fill="#f8e3e3"/><rect x="93.4" y="645.2" width="27.40" height="0.5" fill="#f6d9d9"/>
<rect x="120.75" y="52.4" width="27.50" height="2.4" fill="#b6b6db"/><rect x="120.75" y="54.4" width="27.50" height="2.4" fill="#adadd6"/><rect x="120.75" y="56.4" width="27.50" height="0.7" fill="#a6a6d3"/><rect x="120.75" y="56.7" width="27.50" height="2.4" fill="#2a2a95"/><rect x="120.75" y="58.7" width="27.50" height="2.1" fill="#2d2d96"/><rect x="120.75" y="60.5" width="27.50" height="2.4" fill="#5656ab"/><rect x="120.75" y="62.5" width="27.50" height="2.4" fill="#7474ba"/><rect x="120.75" y="64.5" width="27.50" height="2.4" fill="#7070b8"/><rect x="120.75" y="66.5" width="27.50" height="2.4" fill="#7373b9"/><rect x="120.75" y="68.5" width="27.50" height="1.4" fill="#7171b8"/><rect x="120.75" y="69.5" width="27.50" height="2.4" fill="#8888c4"/><rect x="120.75" y="71.5" width="27.50" height="2.4" fill="#8989c4"/><rect x="120.75" y="73.5" width="27.50" height="2.4" fill="#7e7ebf"/><rect x="120.75" y="75.5" width="27.50" height="1.1" fill="#9191c8"/><rect x="120.75" y="76.2" width="27.50" height="2.4" fill="#6363b1"/><rect x="120.75" y="78.2" width="27.50" height="2.4" fill="#6363b1"/><rect x="120.75" y="80.2" width="27.50" height="2.4" fill="#6868b4"/><rect x="120.75" y="82.2" width="27.50" height="1.9" fill="#6767b3"/><rect x="120.75" y="83.7" width="27.50" height="2.4" fill="#000080"/><rect x="120.75" y="85.7" width="27.50" height="2.4" fill="#000080"/><rect x="120.75" y="87.7" width="27.50" height="1.6" fill="#000080"/><rect x="120.75" y="89.0" width="27.50" height="2.4" fill="#1a1a8d"/><rect x="120.75" y="91.0" width="27.50" height="2.4" fill="#18188c"/><rect x="120.75" y="93.0" width="27.50" height="2.4" fill="#212191"/><rect x="120.75" y="95.0" width="27.50" height="2.4" fill="#4848a4"/><rect x="120.75" y="97.0" width="27.50" height="2.4" fill="#6767b3"/><rect x="120.75" y="99.0" width="27.50" height="2.4" fill="#5d5dae"/><rect x="120.75" y="101.0" width="27.50" height="2.4" fill="#4d4da6"/><rect x="120.75" y="103.0" width="27.50" height="2.4" fill="#5050a8"/><rect x="120.75" y="105.0" width="27.50" height="2.4" fill="#5454aa"/><rect x="120.75" y="107.0" width="27.50" height="1.9" fill="#5454aa"/><rect x="120.75" y="108.5" width="27.50" height="2.4" fill="#7272b9"/><rect x="120.75" y="110.5" width="27.50" height="2.4" fill="#8c8cc6"/><rect x="120.75" y="112.5" width="27.50" height="2.4" fill="#9191c8"/><rect x="120.75" y="114.5" width="27.50" height="2.4" fill="#7e7ebf"/><rect x="120.75" y="116.5" width="27.50" height="2.4" fill="#7f7fbf"/><rect x="120.75" y="118.5" width="27.50" height="2.4" fill="#7171b8"/><rect x="120.75" y="120.5" width="27.50" height="1.9" fill="#7171b8"/><rect x="120.75" y="122.0" width="27.50" height="2.4" fill="#6d6db6"/><rect x="120.75" y="124.0" width="27.50" height="2.4" fill="#6a6ab5"/><rect x="120.75" y="126.0" width="27.50" height="2.4" fill="#7e7ebf"/><rect x="120.75" y="128.0" width="27.50" height="2.4" fill="#6767b3"/><rect x="120.75" y="130.0" width="27.50" height="2.4" fill="#6262b1"/><rect x="120.75" y="132.0" width="27.50" height="2.4" fill="#8383c1"/><rect x="120.75" y="134.0" width="27.50" height="2.4" fill="#6767b3"/><rect x="120.75" y="136.0" width="27.50" height="2.4" fill="#5959ad"/><rect x="120.75" y="138.0" width="27.50" height="2.4" fill="#6868b4"/><rect x="120.75" y="140.0" width="27.50" height="2.4" fill="#5555aa"/><rect x="120.75" y="142.0" width="27.50" height="2.4" fill="#6767b3"/><rect x="120.75" y="144.0" width="27.50" height="0.9" fill="#7777bb"/><rect x="120.75" y="144.5" width="27.50" height="2.4" fill="#a6a6d3"/><rect x="120.75" y="146.5" width="27.50" height="2.4" fill="#a0a0d0"/><rect x="120.75" y="148.5" width="27.50" height="1.9" fill="#9090c8"/><rect x="120.75" y="150.0" width="27.50" height="2.4" fill="#8181c0"/><rect x="120.75" y="152.0" width="27.50" height="1.4" fill="#8888c4"/><rect x="120.75" y="153.0" width="27.50" height="2.4" fill="#39399c"/><rect x="120.75" y="155.0" width="27.50" height="2.4" fill="#3b3b9d"/><rect x="120.75" y="157.0" width="27.50" height="2.4" fill="#4141a0"/><rect x="120.75" y="159.0" width="27.50" height="2.4" fill="#2f2f97"/><rect x="120.75" y="161.0" width="27.50" height="2.4" fill="#2d2d96"/><rect x="120.75" y="163.0" width="27.50" height="2.4" fill="#4444a2"/><rect x="120.75" y="165.0" width="27.50" height="2.4" fill="#262693"/><rect x="120.75" y="167.0" width="27.50" height="2.4" fill="#3b3b9d"/><rect x="120.75" y="169.0" width="27.50" height="2.4" fill="#38389c"/><rect x="120.75" y="171.0" width="27.50" height="2.4" fill="#232391"/><rect x="120.75" y="173.0" width="27.50" height="1.4" fill="#3f3f9f"/><rect x="120.75" y="174.0" width="27.50" height="2.4" fill="#7474ba"/><rect x="120.75" y="176.0" width="27.50" height="2.4" fill="#6b6bb5"/><rect x="120.75" y="178.0" width="27.50" height="2.4" fill="#6e6eb7"/><rect x="120.75" y="180.0" width="27.50" height="2.4" fill="#7171b8"/><rect x="120.75" y="182.0" width="27.50" height="2.4" fill="#5959ac"/><rect x="120.75" y="184.0" width="27.50" height="2.4" fill="#6767b3"/><rect x="120.75" y="186.0" width="27.50" height="2.4" fill="#6666b3"/><rect x="120.75" y="188.0" width="27.50" height="1.4" fill="#7272b9"/><rect x="120.75" y="189.0" width="27.50" height="2.4" fill="#9797cb"/><rect x="120.75" y="191.0" width="27.50" height="2.4" fill="#9898cc"/><rect x="120.75" y="193.0" width="27.50" height="2.4" fill="#8f8fc7"/><rect x="120.75" y="195.0" width="27.50" height="2.4" fill="#5b5bad"/><rect x="120.75" y="197.0" width="27.50" height="2.4" fill="#5353a9"/><rect x="120.75" y="199.0" width="27.50" height="2.4" fill="#5353aa"/><rect x="120.75" y="201.0" width="27.50" height="2.4" fill="#4343a1"/><rect x="120.75" y="203.0" width="27.50" height="2.4" fill="#3c3c9e"/><rect x="120.75" y="205.0" width="27.50" height="2.4" fill="#3f3fa0"/><rect x="120.75" y="207.0" width="27.50" height="2.4" fill="#4848a4"/><rect x="120.75" y="209.0" width="27.50" height="2.4" fill="#3e3e9f"/><rect x="120.75" y="211.0" width="27.50" height="2.4" fill="#5858ac"/><rect x="120.75" y="213.0" width="27.50" height="2.4" fill="#4f4fa7"/><rect x="120.75" y="215.0" width="27.50" height="1.4" fill="#5151a8"/><rect x="120.75" y="216.0" width="27.50" height="2.4" fill="#38389c"/><rect x="120.75" y="218.0" width="27.50" height="2.4" fill="#39399d"/><rect x="120.75" y="220.0" width="27.50" height="2.4" fill="#333399"/><rect x="120.75" y="222.0" width="27.50" height="2.4" fill="#5454aa"/><rect x="120.75" y="224.0" width="27.50" height="2.4" fill="#7171b8"/><rect x="120.75" y="226.0" width="27.50" height="2.4" fill="#6f6fb7"/><rect x="120.75" y="228.0" width="27.50" height="2.4" fill="#6666b3"/><rect x="120.75" y="230.0" width="27.50" height="2.4" fill="#6767b3"/><rect x="120.75" y="232.0" width="27.50" height="2.4" fill="#6c6cb6"/><rect x="120.75" y="234.0" width="27.50" height="2.4" fill="#8a8ac4"/><rect x="120.75" y="236.0" width="27.50" height="1.4" fill="#a1a1d0"/><rect x="120.75" y="237.0" width="27.50" height="2.4" fill="#040482"/><rect x="120.75" y="239.0" width="27.50" height="2.4" fill="#000080"/><rect x="120.75" y="241.0" width="27.50" height="2.4" fill="#040482"/><rect x="120.75" y="243.0" width="27.50" height="2.4" fill="#15158a"/><rect x="120.75" y="245.0" width="27.50" height="2.4" fill="#020281"/><rect x="120.75" y="247.0" width="27.50" height="2.4" fill="#15158b"/><rect x="120.75" y="249.0" width="27.50" height="1.4" fill="#1e1e8f"/><rect x="120.75" y="250.0" width="27.50" height="2.4" fill="#15158a"/><rect x="120.75" y="252.0" width="27.50" height="2.4" fill="#282894"/><rect x="120.75" y="254.0" width="27.50" height="0.9" fill="#0f0f87"/><rect x="120.75" y="254.5" width="27.50" height="2.4" fill="#6161b0"/><rect x="120.75" y="256.5" width="27.50" height="2.4" fill="#7474ba"/><rect x="120.75" y="258.5" width="27.50" height="2.4" fill="#5555aa"/><rect x="120.75" y="260.5" width="27.50" height="2.4" fill="#6363b1"/><rect x="120.75" y="262.5" width="27.50" height="2.4" fill="#7171b8"/><rect x="120.75" y="264.5" width="27.50" height="2.4" fill="#7070b8"/><rect x="120.75" y="266.5" width="27.50" height="2.4" fill="#5656ab"/><rect x="120.75" y="268.5" width="27.50" height="2.4" fill="#5555ab"/><rect x="120.75" y="270.5" width="27.50" height="2.4" fill="#5656ab"/><rect x="120.75" y="272.5" width="27.50" height="2.4" fill="#7575ba"/><rect x="120.75" y="274.5" width="27.50" height="2.4" fill="#5d5dae"/><rect x="120.75" y="276.5" width="27.50" height="2.4" fill="#6f6fb7"/><rect x="120.75" y="278.5" width="27.50" height="1.9" fill="#7474ba"/><rect x="120.75" y="280.0" width="27.50" height="2.4" fill="#14148a"/><rect x="120.75" y="282.0" width="27.50" height="2.4" fill="#111189"/><rect x="120.75" y="284.0" width="27.50" height="2.4" fill="#2a2a95"/><rect x="120.75" y="286.0" width="27.50" height="2.4" fill="#1e1e8f"/><rect x="120.75" y="288.0" width="27.50" height="1.4" fill="#111188"/><rect x="120.75" y="289.0" width="27.50" height="2.4" fill="#3b3b9d"/><rect x="120.75" y="291.0" width="27.50" height="2.4" fill="#2c2c96"/><rect x="120.75" y="293.0" width="27.50" height="2.4" fill="#2b2b95"/><rect x="120.75" y="295.0" width="27.50" height="2.4" fill="#3b3b9d"/><rect x="120.75" y="297.0" width="27.50" height="2.4" fill="#5656ab"/><rect x="120.75" y="299.0" width="27.50" height="2.4" fill="#5b5bae"/><rect x="120.75" y="301.0" width="27.50" height="2.4" fill="#5151a8"/><rect x="120.75" y="303.0" width="27.50" height="2.4" fill="#5c5cae"/><rect x="120.75" y="305.0" width="27.50" height="2.4" fill="#3c3c9e"/><rect x="120.75" y="307.0" width="27.50" height="2.4" fill="#4343a1"/><rect x="120.75" y="309.0" width="27.50" height="2.4" fill="#4c4ca6"/><rect x="120.75" y="311.0" width="27.50" height="2.4" fill="#5d5dae"/><rect x="120.75" y="313.0" width="27.50" height="2.4" fill="#5d5dae"/><rect x="120.75" y="315.0" width="27.50" height="1.4" fill="#4848a4"/><rect x="120.75" y="316.0" width="27.50" height="2.4" fill="#d0d0e8"/><rect x="120.75" y="318.0" width="27.50" height="2.4" fill="#d6d6eb"/><rect x="120.75" y="320.0" width="27.50" height="0.9" fill="#d9d9ec"/><rect x="120.75" y="320.5" width="27.50" height="2.4" fill="#fae7e7"/><rect x="120.75" y="322.5" width="27.50" height="2.4" fill="#fffefe"/><rect x="120.75" y="324.5" width="27.50" height="0.9" fill="#faebeb"/><rect x="120.75" y="325.0" width="27.50" height="2.4" fill="#e48b8b"/><rect x="120.75" y="327.0" width="27.50" height="2.4" fill="#e48989"/><rect x="120.75" y="329.0" width="27.50" height="0.9" fill="#e48a8a"/><rect x="120.75" y="329.5" width="27.50" height="2.4" fill="#edb0b0"/><rect x="120.75" y="331.5" width="27.50" height="2.4" fill="#efb8b8"/><rect x="120.75" y="333.5" width="27.50" height="2.4" fill="#efb9b9"/><rect x="120.75" y="335.5" width="27.50" height="2.4" fill="#eeb7b7"/><rect x="120.75" y="337.5" width="27.50" height="2.4" fill="#ecaaaa"/><rect x="120.75" y="339.5" width="27.50" height="2.4" fill="#f0c0c0"/><rect x="120.75" y="341.5" width="27.50" height="2.4" fill="#f0bcbc"/><rect x="120.75" y="343.5" width="27.50" height="2.4" fill="#ecabab"/><rect x="120.75" y="345.5" width="27.50" height="2.4" fill="#efbbbb"/><rect x="120.75" y="347.5" width="27.50" height="2.4" fill="#f1c0c0"/><rect x="120.75" y="349.5" width="27.50" height="0.9" fill="#f1c1c1"/><rect x="120.75" y="350.0" width="27.50" height="2.4" fill="#efbbbb"/><rect x="120.75" y="352.0" width="27.50" height="2.4" fill="#efbbbb"/><rect x="120.75" y="354.0" width="27.50" height="2.4" fill="#f2c7c7"/><rect x="120.75" y="356.0" width="27.50" height="2.4" fill="#efbaba"/><rect x="120.75" y="358.0" width="27.50" height="0.6" fill="#f0bfbf"/><rect x="120.75" y="358.2" width="27.50" height="2.4" fill="#fafafc"/><rect x="120.75" y="360.2" width="27.50" height="2.4" fill="#faebeb"/><rect x="120.75" y="362.2" width="27.50" height="2.4" fill="#fdfdfe"/><rect x="120.75" y="364.2" width="27.50" height="1.1" fill="#fafafd"/><rect x="120.75" y="365.0" width="27.50" height="2.4" fill="#f3caca"/><rect x="120.75" y="367.0" width="27.50" height="2.4" fill="#efbaba"/><rect x="120.75" y="369.0" width="27.50" height="2.4" fill="#edb3b3"/><rect x="120.75" y="371.0" width="27.50" height="2.4" fill="#fbecec"/><rect x="120.75" y="373.0" width="27.50" height="2.4" fill="#fdf7f7"/><rect x="120.75" y="375.0" width="27.50" height="2.4" fill="#fefbfb"/><rect x="120.75" y="377.0" width="27.50" height="1.9" fill="#fafafd"/><rect x="120.75" y="378.5" width="27.50" height="2.4" fill="#f1c4c4"/><rect x="120.75" y="380.5" width="27.50" height="2.4" fill="#f2c7c7"/><rect x="120.75" y="382.5" width="27.50" height="2.4" fill="#f4cdcd"/><rect x="120.75" y="384.5" width="27.50" height="2.4" fill="#f1c4c4"/><rect x="120.75" y="386.5" width="27.50" height="2.4" fill="#f3caca"/><rect x="120.75" y="388.5" width="27.50" height="2.4" fill="#efbbbb"/><rect x="120.75" y="390.5" width="27.50" height="2.4" fill="#e9a1a1"/><rect x="120.75" y="392.5" width="27.50" height="2.4" fill="#edb0b0"/><rect x="120.75" y="394.5" width="27.50" height="2.4" fill="#e89c9c"/><rect x="120.75" y="396.5" width="27.50" height="2.4" fill="#f7dddd"/><rect x="120.75" y="398.5" width="27.50" height="2.4" fill="#f4cece"/><rect x="120.75" y="400.5" width="27.50" height="2.4" fill="#f5d2d2"/><rect x="120.75" y="402.5" width="27.50" height="2.4" fill="#f6d7d7"/><rect x="120.75" y="404.5" width="27.50" height="2.4" fill="#f7dddd"/><rect x="120.75" y="406.5" width="27.50" height="2.4" fill="#f2c7c7"/><rect x="120.75" y="408.5" width="27.50" height="2.4" fill="#f7dede"/><rect x="120.75" y="410.5" width="27.50" height="2.4" fill="#f4cece"/><rect x="120.75" y="412.5" width="27.50" height="2.4" fill="#f1c2c2"/><rect x="120.75" y="414.5" width="27.50" height="2.4" fill="#f7dada"/><rect x="120.75" y="416.5" width="27.50" height="2.4" fill="#f6d8d8"/><rect x="120.75" y="418.5" width="27.50" height="2.4" fill="#f3cccc"/><rect x="120.75" y="420.5" width="27.50" height="2.4" fill="#fefafa"/><rect x="120.75" y="422.5" width="27.50" height="2.4" fill="#fdf6f6"/><rect x="120.75" y="424.5" width="27.50" height="2.4" fill="#fcf1f1"/><rect x="120.75" y="426.5" width="27.50" height="2.4" fill="#edb2b2"/><rect x="120.75" y="428.5" width="27.50" height="2.4" fill="#ecaeae"/><rect x="120.75" y="430.5" width="27.50" height="2.4" fill="#ecaeae"/><rect x="120.75" y="432.5" width="27.50" height="2.4" fill="#eeb6b6"/><rect x="120.75" y="434.5" width="27.50" height="2.4" fill="#e89c9c"/><rect x="120.75" y="436.5" width="27.50" height="2.4" fill="#e9a0a0"/><rect x="120.75" y="438.5" width="27.50" height="2.4" fill="#e9a2a2"/><rect x="120.75" y="440.5" width="27.50" height="2.4" fill="#eeb7b7"/><rect x="120.75" y="442.5" width="27.50" height="0.9" fill="#e99e9e"/><rect x="120.75" y="443.0" width="27.50" height="2.4" fill="#df7575"/><rect x="120.75" y="445.0" width="27.50" height="2.4" fill="#e17e7e"/><rect x="120.75" y="447.0" width="27.50" height="2.4" fill="#df7575"/><rect x="120.75" y="449.0" width="27.50" height="1.4" fill="#e17e7e"/><rect x="120.75" y="450.0" width="27.50" height="2.4" fill="#ecabab"/><rect x="120.75" y="452.0" width="27.50" height="2.4" fill="#eaa2a2"/><rect x="120.75" y="454.0" width="27.50" height="2.4" fill="#ecadad"/><rect x="120.75" y="456.0" width="27.50" height="2.4" fill="#edafaf"/><rect x="120.75" y="458.0" width="27.50" height="1.4" fill="#edb1b1"/><rect x="120.75" y="459.0" width="27.50" height="2.4" fill="#da6060"/><rect x="120.75" y="461.0" width="27.50" height="2.4" fill="#d95a5a"/><rect x="120.75" y="463.0" width="27.50" height="2.4" fill="#dc6666"/><rect x="120.75" y="465.0" width="27.50" height="2.4" fill="#de7070"/><rect x="120.75" y="467.0" width="27.50" height="2.4" fill="#da5e5e"/><rect x="120.75" y="469.0" width="27.50" height="2.4" fill="#dd6a6a"/><rect x="120.75" y="471.0" width="27.50" height="2.4" fill="#de7070"/><rect x="120.75" y="473.0" width="27.50" height="2.4" fill="#df7272"/><rect x="120.75" y="475.0" width="27.50" height="2.4" fill="#da5f5f"/><rect x="120.75" y="477.0" width="27.50" height="2.4" fill="#da5e5e"/><rect x="120.75" y="479.0" width="27.50" height="2.4" fill="#db6363"/><rect x="120.75" y="481.0" width="27.50" height="2.4" fill="#dc6868"/><rect x="120.75" y="483.0" width="27.50" height="2.4" fill="#dc6565"/><rect x="120.75" y="485.0" width="27.50" height="2.4" fill="#de6f6f"/><rect x="120.75" y="487.0" width="27.50" height="2.4" fill="#d95959"/><rect x="120.75" y="489.0" width="27.50" height="2.4" fill="#dd6c6c"/><rect x="120.75" y="491.0" width="27.50" height="2.4" fill="#db6363"/><rect x="120.75" y="493.0" width="27.50" height="2.4" fill="#da5d5d"/><rect x="120.75" y="495.0" width="27.50" height="2.4" fill="#da5d5d"/><rect x="120.75" y="497.0" width="27.50" height="2.4" fill="#dc6868"/><rect x="120.75" y="499.0" width="27.50" height="2.4" fill="#dd6d6d"/><rect x="120.75" y="501.0" width="27.50" height="2.4" fill="#dc6666"/><rect x="120.75" y="503.0" width="27.50" height="2.4" fill="#df7272"/><rect x="120.75" y="505.0" width="27.50" height="2.4" fill="#da5d5d"/><rect x="120.75" y="507.0" width="27.50" height="2.4" fill="#d4d4e9"/><rect x="120.75" y="509.0" width="27.50" height="2.4" fill="#e5e5f2"/><rect x="120.75" y="511.0" width="27.50" height="2.4" fill="#d0d0e8"/><rect x="120.75" y="513.0" width="27.50" height="2.4" fill="#d4d4ea"/><rect x="120.75" y="515.0" width="27.50" height="1.4" fill="#d0d0e8"/><rect x="120.75" y="516.0" width="27.50" height="2.4" fill="#fffdfd"/><rect x="120.75" y="518.0" width="27.50" height="2.4" fill="#f9f9fc"/><rect x="120.75" y="520.0" width="27.50" height="2.4" fill="#f2f2f9"/><rect x="120.75" y="522.0" width="27.50" height="2.4" fill="#fcf4f4"/><rect x="120.75" y="524.0" width="27.50" height="1.4" fill="#fcfcfe"/><rect x="120.75" y="525.0" width="27.50" height="2.4" fill="#f9e6e6"/><rect x="120.75" y="527.0" width="27.50" height="2.4" fill="#f9e4e4"/><rect x="120.75" y="529.0" width="27.50" height="2.4" fill="#f8dfdf"/><rect x="120.75" y="531.0" width="27.50" height="2.4" fill="#f8e1e1"/><rect x="120.75" y="533.0" width="27.50" height="2.4" fill="#f7dada"/><rect x="120.75" y="535.0" width="27.50" height="2.4" fill="#f6dada"/><rect x="120.75" y="537.0" width="27.50" height="2.4" fill="#f8e3e3"/><rect x="120.75" y="539.0" width="27.50" height="2.4" fill="#f4d1d1"/><rect x="120.75" y="541.0" width="27.50" height="2.4" fill="#f5d4d4"/><rect x="120.75" y="543.0" width="27.50" height="2.4" fill="#fbecec"/><rect x="120.75" y="545.0" width="27.50" height="2.4" fill="#f5d4d4"/><rect x="120.75" y="547.0" width="27.50" height="2.4" fill="#f5d2d2"/><rect x="120.75" y="549.0" width="27.50" height="1.4" fill="#f6d6d6"/><rect x="120.75" y="550.0" width="27.50" height="2.4" fill="#fefafa"/><rect x="120.75" y="552.0" width="27.50" height="2.4" fill="#f8f8fc"/><rect x="120.75" y="554.0" width="27.50" height="2.4" fill="#f7f7fb"/><rect x="120.75" y="556.0" width="27.50" height="2.4" fill="#fbfbfd"/><rect x="120.75" y="558.0" width="27.50" height="2.4" fill="#ececf6"/><rect x="120.75" y="560.0" width="27.50" height="2.4" fill="#ececf6"/><rect x="120.75" y="562.0" width="27.50" height="2.4" fill="#fffefe"/><rect x="120.75" y="564.0" width="27.50" height="2.4" fill="#fbeeee"/><rect x="120.75" y="566.0" width="27.50" height="2.4" fill="#fdf8f8"/><rect x="120.75" y="568.0" width="27.50" height="2.4" fill="#fcf2f2"/><rect x="120.75" y="570.0" width="27.50" height="2.4" fill="#fdf7f7"/><rect x="120.75" y="572.0" width="27.50" height="0.9" fill="#fcf4f4"/><rect x="120.75" y="572.5" width="27.50" height="2.4" fill="#eeb7b7"/><rect x="120.75" y="574.5" width="27.50" height="2.4" fill="#efbaba"/><rect x="120.75" y="576.5" width="27.50" height="2.4" fill="#e99d9d"/><rect x="120.75" y="578.5" width="27.50" height="2.4" fill="#edb0b0"/><rect x="120.75" y="580.5" width="27.50" height="2.4" fill="#efb9b9"/><rect x="120.75" y="582.5" width="27.50" height="2.4" fill="#eba9a9"/><rect x="120.75" y="584.5" width="27.50" height="2.4" fill="#eaa4a4"/><rect x="120.75" y="586.5" width="27.50" height="2.4" fill="#eeb7b7"/><rect x="120.75" y="588.5" width="27.50" height="2.4" fill="#ebaaaa"/><rect x="120.75" y="590.5" width="27.50" height="2.4" fill="#f9f9fc"/><rect x="120.75" y="592.5" width="27.50" height="2.4" fill="#fffefe"/><rect x="120.75" y="594.5" width="27.50" height="0.9" fill="#eeeef6"/><rect x="120.75" y="595.0" width="27.50" height="2.4" fill="#fcf3f3"/><rect x="120.75" y="597.0" width="27.50" height="2.4" fill="#f6d6d6"/><rect x="120.75" y="599.0" width="27.50" height="2.4" fill="#f6dada"/><rect x="120.75" y="601.0" width="27.50" height="2.4" fill="#f9e5e5"/><rect x="120.75" y="603.0" width="27.50" height="2.4" fill="#f9e3e3"/><rect x="120.75" y="605.0" width="27.50" height="0.9" fill="#fbecec"/><rect x="120.75" y="605.5" width="27.50" height="2.4" fill="#e79595"/><rect x="120.75" y="607.5" width="27.50" height="2.4" fill="#e9a0a0"/><rect x="120.75" y="609.5" width="27.50" height="0.9" fill="#e59090"/><rect x="120.75" y="610.0" width="27.50" height="2.4" fill="#eeb6b6"/><rect x="120.75" y="612.0" width="27.50" height="2.4" fill="#eeb4b4"/><rect x="120.75" y="614.0" width="27.50" height="2.4" fill="#edb0b0"/><rect x="120.75" y="616.0" width="27.50" height="2.4" fill="#f2c5c5"/><rect x="120.75" y="618.0" width="27.50" height="2.4" fill="#f3cccc"/><rect x="120.75" y="620.0" width="27.50" height="2.4" fill="#f2c7c7"/><rect x="120.75" y="622.0" width="27.50" height="2.4" fill="#f2c8c8"/><rect x="120.75" y="624.0" width="27.50" height="2.4" fill="#f3cbcb"/><rect x="120.75" y="626.0" width="27.50" height="2.4" fill="#f3cccc"/><rect x="120.75" y="628.0" width="27.50" height="2.4" fill="#f0bcbc"/><rect x="120.75" y="630.0" width="27.50" height="2.4" fill="#edb3b3"/><rect x="120.75" y="632.0" width="27.50" height="2.4" fill="#f0bfbf"/><rect x="120.75" y="634.0" width="27.50" height="2.4" fill="#edb0b0"/><rect x="120.75" y="636.0" width="27.50" height="2.4" fill="#edb1b1"/><rect x="120.75" y="638.0" width="27.50" height="2.4" fill="#f3cbcb"/><rect x="120.75" y="640.0" width="27.50" height="2.4" fill="#efbbbb"/><rect x="120.75" y="642.0" width="27.50" height="2.4" fill="#f1c1c1"/><rect x="120.75" y="644.0" width="27.50" height="1.7" fill="#f3c9c9"/>
<rect x="148.2" y="52.4" width="27.65" height="2.4" fill="#d4d4ea"/><rect x="148.2" y="54.4" width="27.65" height="2.4" fill="#cdcde6"/><rect x="148.2" y="56.4" width="27.65" height="0.7" fill="#e2e2f1"/><rect x="148.2" y="56.7" width="27.65" height="2.4" fill="#e69292"/><rect x="148.2" y="58.7" width="27.65" height="2.4" fill="#e48a8a"/><rect x="148.2" y="60.7" width="27.65" height="2.4" fill="#e79898"/><rect x="148.2" y="62.7" width="27.65" height="2.4" fill="#e89b9b"/><rect x="148.2" y="64.7" width="27.65" height="2.4" fill="#e48989"/><rect x="148.2" y="66.7" width="27.65" height="2.4" fill="#e38484"/><rect x="148.2" y="68.7" width="27.65" height="1.1" fill="#e48888"/><rect x="148.2" y="69.5" width="27.65" height="2.4" fill="#e69494"/><rect x="148.2" y="71.5" width="27.65" height="2.4" fill="#e69494"/><rect x="148.2" y="73.5" width="27.65" height="2.4" fill="#e79696"/><rect x="148.2" y="75.5" width="27.65" height="2.4" fill="#eaa6a6"/><rect x="148.2" y="77.5" width="27.65" height="2.4" fill="#e89d9d"/><rect x="148.2" y="79.5" width="27.65" height="0.9" fill="#eaa2a2"/><rect x="148.2" y="80.0" width="27.65" height="2.4" fill="#f3cccc"/><rect x="148.2" y="82.0" width="27.65" height="2.4" fill="#f3cccc"/><rect x="148.2" y="84.0" width="27.65" height="2.4" fill="#f2c5c5"/><rect x="148.2" y="86.0" width="27.65" height="2.4" fill="#f2c5c5"/><rect x="148.2" y="88.0" width="27.65" height="2.4" fill="#efb8b8"/><rect x="148.2" y="90.0" width="27.65" height="2.4" fill="#edb0b0"/><rect x="148.2" y="92.0" width="27.65" height="2.4" fill="#f0c0c0"/><rect x="148.2" y="94.0" width="27.65" height="1.4" fill="#edb1b1"/><rect x="148.2" y="95.0" width="27.65" height="2.4" fill="#f9e5e5"/><rect x="148.2" y="97.0" width="27.65" height="2.4" fill="#f9e6e6"/><rect x="148.2" y="99.0" width="27.65" height="2.4" fill="#fdf8f8"/><rect x="148.2" y="101.0" width="27.65" height="2.4" fill="#f2c6c6"/><rect x="148.2" y="103.0" width="27.65" height="2.4" fill="#f2c6c6"/><rect x="148.2" y="105.0" width="27.65" height="2.4" fill="#f2c7c7"/><rect x="148.2" y="107.0" width="27.65" height="2.4" fill="#f2c7c7"/><rect x="148.2" y="109.0" width="27.65" height="2.4" fill="#efbaba"/><rect x="148.2" y="111.0" width="27.65" height="2.4" fill="#edb2b2"/><rect x="148.2" y="113.0" width="27.65" height="2.4" fill="#eeb4b4"/><rect x="148.2" y="115.0" width="27.65" height="2.4" fill="#f0bfbf"/><rect x="148.2" y="117.0" width="27.65" height="0.9" fill="#efb9b9"/><rect x="148.2" y="117.5" width="27.65" height="2.4" fill="#dc6969"/><rect x="148.2" y="119.5" width="27.65" height="2.4" fill="#e17f7f"/><rect x="148.2" y="121.5" width="27.65" height="2.4" fill="#dd6d6d"/><rect x="148.2" y="123.5" width="27.65" height="2.4" fill="#dc6666"/><rect x="148.2" y="125.5" width="27.65" height="2.4" fill="#dd6969"/><rect x="148.2" y="127.5" width="27.65" height="2.4" fill="#dd6a6a"/><rect x="148.2" y="129.5" width="27.65" height="2.4" fill="#df7373"/><rect x="148.2" y="131.5" width="27.65" height="2.4" fill="#e17c7c"/><rect x="148.2" y="133.5" width="27.65" height="0.9" fill="#dc6969"/><rect x="148.2" y="134.0" width="27.65" height="2.4" fill="#e58d8d"/><rect x="148.2" y="136.0" width="27.65" height="2.4" fill="#e17f7f"/><rect x="148.2" y="138.0" width="27.65" height="2.4" fill="#e07979"/><rect x="148.2" y="140.0" width="27.65" height="2.4" fill="#e48b8b"/><rect x="148.2" y="142.0" width="27.65" height="2.4" fill="#e48b8b"/><rect x="148.2" y="144.0" width="27.65" height="2.4" fill="#e07a7a"/><rect x="148.2" y="146.0" width="27.65" height="2.4" fill="#ecacac"/><rect x="148.2" y="148.0" width="27.65" height="2.4" fill="#f0bdbd"/><rect x="148.2" y="150.0" width="27.65" height="0.4" fill="#f0bebe"/><rect x="148.2" y="150.0" width="27.65" height="2.4" fill="#f3c9c9"/><rect x="148.2" y="152.0" width="27.65" height="1.4" fill="#f3cccc"/><rect x="148.2" y="153.0" width="27.65" height="2.4" fill="#e48888"/><rect x="148.2" y="155.0" width="27.65" height="2.4" fill="#e28282"/><rect x="148.2" y="157.0" width="27.65" height="2.4" fill="#e28080"/><rect x="148.2" y="159.0" width="27.65" height="2.4" fill="#e38484"/><rect x="148.2" y="161.0" width="27.65" height="2.4" fill="#e38383"/><rect x="148.2" y="163.0" width="27.65" height="2.4" fill="#e69494"/><rect x="148.2" y="165.0" width="27.65" height="2.4" fill="#e69292"/><rect x="148.2" y="167.0" width="27.65" height="2.4" fill="#e58f8f"/><rect x="148.2" y="169.0" width="27.65" height="2.4" fill="#e28080"/><rect x="148.2" y="171.0" width="27.65" height="2.4" fill="#e58e8e"/><rect x="148.2" y="173.0" width="27.65" height="1.4" fill="#e38686"/><rect x="148.2" y="174.0" width="27.65" height="2.4" fill="#f3f3f9"/><rect x="148.2" y="176.0" width="27.65" height="2.4" fill="#f4f4fa"/><rect x="148.2" y="178.0" width="27.65" height="2.4" fill="#fcfcfd"/><rect x="148.2" y="180.0" width="27.65" height="2.4" fill="#fdf5f5"/><rect x="148.2" y="182.0" width="27.65" height="2.4" fill="#fdf5f5"/><rect x="148.2" y="184.0" width="27.65" height="2.4" fill="#fdf5f5"/><rect x="148.2" y="186.0" width="27.65" height="2.4" fill="#fdfdfe"/><rect x="148.2" y="188.0" width="27.65" height="1.4" fill="#fefafa"/><rect x="148.2" y="189.0" width="27.65" height="2.4" fill="#f8e0e0"/><rect x="148.2" y="191.0" width="27.65" height="2.4" fill="#f8dfdf"/><rect x="148.2" y="193.0" width="27.65" height="2.4" fill="#faeaea"/><rect x="148.2" y="195.0" width="27.65" height="2.4" fill="#f0bdbd"/><rect x="148.2" y="197.0" width="27.65" height="2.4" fill="#f5d2d2"/><rect x="148.2" y="199.0" width="27.65" height="2.4" fill="#efbaba"/><rect x="148.2" y="201.0" width="27.65" height="2.4" fill="#efbbbb"/><rect x="148.2" y="203.0" width="27.65" height="2.4" fill="#f6d7d7"/><rect x="148.2" y="205.0" width="27.65" height="2.4" fill="#f3caca"/><rect x="148.2" y="207.0" width="27.65" height="2.4" fill="#f0bfbf"/><rect x="148.2" y="209.0" width="27.65" height="2.4" fill="#efbbbb"/><rect x="148.2" y="211.0" width="27.65" height="2.4" fill="#f3caca"/><rect x="148.2" y="213.0" width="27.65" height="2.4" fill="#f4d0d0"/><rect x="148.2" y="215.0" width="27.65" height="2.4" fill="#f5d2d2"/><rect x="148.2" y="217.0" width="27.65" height="0.9" fill="#efbbbb"/><rect x="148.2" y="217.5" width="27.65" height="2.4" fill="#edb1b1"/><rect x="148.2" y="219.5" width="27.65" height="2.4" fill="#eaa6a6"/><rect x="148.2" y="221.5" width="27.65" height="2.4" fill="#eeb3b3"/><rect x="148.2" y="223.5" width="27.65" height="1.9" fill="#eba7a7"/><rect x="148.2" y="225.0" width="27.65" height="2.4" fill="#efbbbb"/><rect x="148.2" y="227.0" width="27.65" height="2.4" fill="#f5d4d4"/><rect x="148.2" y="229.0" width="27.65" height="2.4" fill="#f0bfbf"/><rect x="148.2" y="231.0" width="27.65" height="2.4" fill="#f2c8c8"/><rect x="148.2" y="233.0" width="27.65" height="2.4" fill="#f0bdbd"/><rect x="148.2" y="235.0" width="27.65" height="2.4" fill="#f1c3c3"/><rect x="148.2" y="237.0" width="27.65" height="2.4" fill="#fefcfc"/><rect x="148.2" y="239.0" width="27.65" height="2.4" fill="#fae8e8"/><rect x="148.2" y="241.0" width="27.65" height="2.4" fill="#fdf5f5"/><rect x="148.2" y="243.0" width="27.65" height="2.4" fill="#e1e1f0"/><rect x="148.2" y="245.0" width="27.65" height="2.4" fill="#e1e1f0"/><rect x="148.2" y="247.0" width="27.65" height="2.4" fill="#f2f2f9"/><rect x="148.2" y="249.0" width="27.65" height="1.4" fill="#f0f0f8"/><rect x="148.2" y="250.0" width="27.65" height="2.4" fill="#e2e2f1"/><rect x="148.2" y="252.0" width="27.65" height="2.4" fill="#dadaed"/><rect x="148.2" y="254.0" width="27.65" height="2.4" fill="#f2f2f8"/><rect x="148.2" y="256.0" width="27.65" height="2.4" fill="#eeeef7"/><rect x="148.2" y="258.0" width="27.65" height="2.4" fill="#f2f2f8"/><rect x="148.2" y="260.0" width="27.65" height="2.4" fill="#d8d8ec"/><rect x="148.2" y="262.0" width="27.65" height="2.4" fill="#d2d2e8"/><rect x="148.2" y="264.0" width="27.65" height="2.4" fill="#d2d2e9"/><rect x="148.2" y="266.0" width="27.65" height="2.4" fill="#e0e0f0"/><rect x="148.2" y="268.0" width="27.65" height="1.9" fill="#e8e8f3"/><rect x="148.2" y="269.5" width="27.65" height="2.4" fill="#b1b1d8"/><rect x="148.2" y="271.5" width="27.65" height="2.1" fill="#a9a9d4"/><rect x="148.2" y="273.2" width="27.65" height="2.4" fill="#fae7e7"/><rect x="148.2" y="275.2" width="27.65" height="2.4" fill="#f8e1e1"/><rect x="148.2" y="277.2" width="27.65" height="2.4" fill="#f8e0e0"/><rect x="148.2" y="279.2" width="27.65" height="2.4" fill="#f7dddd"/><rect x="148.2" y="281.2" width="27.65" height="0.6" fill="#f7dada"/><rect x="148.2" y="281.5" width="27.65" height="2.4" fill="#f1c4c4"/><rect x="148.2" y="283.5" width="27.65" height="2.4" fill="#f5d4d4"/><rect x="148.2" y="285.5" width="27.65" height="2.4" fill="#f0bebe"/><rect x="148.2" y="287.5" width="27.65" height="2.4" fill="#f4cfcf"/><rect x="148.2" y="289.5" width="27.65" height="2.4" fill="#f2c7c7"/><rect x="148.2" y="291.5" width="27.65" height="2.4" fill="#f3cdcd"/><rect x="148.2" y="293.5" width="27.65" height="2.4" fill="#f9e6e6"/><rect x="148.2" y="295.5" width="27.65" height="2.4" fill="#fdf7f7"/><rect x="148.2" y="297.5" width="27.65" height="2.4" fill="#fdf5f5"/><rect x="148.2" y="299.5" width="27.65" height="2.4" fill="#fdf5f5"/><rect x="148.2" y="301.5" width="27.65" height="2.4" fill="#fdf8f8"/><rect x="148.2" y="303.5" width="27.65" height="2.4" fill="#f8e2e2"/><rect x="148.2" y="305.5" width="27.65" height="2.4" fill="#faebeb"/><rect x="148.2" y="307.5" width="27.65" height="2.4" fill="#fcf3f3"/><rect x="148.2" y="309.5" width="27.65" height="2.4" fill="#fcf1f1"/><rect x="148.2" y="311.5" width="27.65" height="2.4" fill="#f8dfdf"/><rect x="148.2" y="313.5" width="27.65" height="2.4" fill="#fbeded"/><rect x="148.2" y="315.5" width="27.65" height="0.9" fill="#fdf6f6"/><rect x="148.2" y="316.0" width="27.65" height="2.4" fill="#5858ac"/><rect x="148.2" y="318.0" width="27.65" height="2.4" fill="#5252a9"/><rect x="148.2" y="320.0" width="27.65" height="2.4" fill="#5e5eaf"/><rect x="148.2" y="322.0" width="27.65" height="2.4" fill="#3e3e9f"/><rect x="148.2" y="324.0" width="27.65" height="1.4" fill="#4c4ca6"/><rect x="148.2" y="325.0" width="27.65" height="2.4" fill="#3e3e9f"/><rect x="148.2" y="327.0" width="27.65" height="2.4" fill="#3f3f9f"/><rect x="148.2" y="329.0" width="27.65" height="2.4" fill="#4242a1"/><rect x="148.2" y="331.0" width="27.65" height="2.4" fill="#232391"/><rect x="148.2" y="333.0" width="27.65" height="0.6" fill="#2c2c96"/><rect x="148.2" y="333.2" width="27.65" height="2.4" fill="#7f7fbf"/><rect x="148.2" y="335.2" width="27.65" height="2.4" fill="#8181c0"/><rect x="148.2" y="337.2" width="27.65" height="1.6" fill="#9d9dce"/><rect x="148.2" y="338.5" width="27.65" height="2.4" fill="#4f4fa8"/><rect x="148.2" y="340.5" width="27.65" height="2.4" fill="#5c5cae"/><rect x="148.2" y="342.5" width="27.65" height="2.4" fill="#4848a4"/><rect x="148.2" y="344.5" width="27.65" height="2.4" fill="#5a5aad"/><rect x="148.2" y="346.5" width="27.65" height="2.4" fill="#4b4ba5"/><rect x="148.2" y="348.5" width="27.65" height="1.9" fill="#4444a2"/><rect x="148.2" y="350.0" width="27.65" height="2.4" fill="#4343a1"/><rect x="148.2" y="352.0" width="27.65" height="2.4" fill="#3e3e9f"/><rect x="148.2" y="354.0" width="27.65" height="2.4" fill="#4343a1"/><rect x="148.2" y="356.0" width="27.65" height="2.4" fill="#3c3c9e"/><rect x="148.2" y="358.0" width="27.65" height="2.4" fill="#4747a3"/><rect x="148.2" y="360.0" width="27.65" height="2.4" fill="#5555ab"/><rect x="148.2" y="362.0" width="27.65" height="2.4" fill="#5353aa"/><rect x="148.2" y="364.0" width="27.65" height="1.4" fill="#5959ac"/><rect x="148.2" y="365.0" width="27.65" height="2.4" fill="#14148a"/><rect x="148.2" y="367.0" width="27.65" height="2.4" fill="#040482"/><rect x="148.2" y="369.0" width="27.65" height="2.4" fill="#0f0f87"/><rect x="148.2" y="371.0" width="27.65" height="1.9" fill="#0a0a85"/><rect x="148.2" y="372.5" width="27.65" height="2.4" fill="#3d3d9f"/><rect x="148.2" y="374.5" width="27.65" height="2.4" fill="#34349a"/><rect x="148.2" y="376.5" width="27.65" height="2.4" fill="#2b2b95"/><rect x="148.2" y="378.5" width="27.65" height="2.4" fill="#38389c"/><rect x="148.2" y="380.5" width="27.65" height="2.4" fill="#4444a2"/><rect x="148.2" y="382.5" width="27.65" height="2.4" fill="#292994"/><rect x="148.2" y="384.5" width="27.65" height="2.4" fill="#4141a0"/><rect x="148.2" y="386.5" width="27.65" height="2.4" fill="#222291"/><rect x="148.2" y="388.5" width="27.65" height="2.4" fill="#2a2a95"/><rect x="148.2" y="390.5" width="27.65" height="1.9" fill="#2a2a95"/><rect x="148.2" y="392.0" width="27.65" height="2.4" fill="#7b7bbd"/><rect x="148.2" y="394.0" width="27.65" height="2.4" fill="#8383c1"/><rect x="148.2" y="396.0" width="27.65" height="0.9" fill="#7c7cbe"/><rect x="148.2" y="396.5" width="27.65" height="2.4" fill="#202090"/><rect x="148.2" y="398.5" width="27.65" height="2.4" fill="#34349a"/><rect x="148.2" y="400.5" width="27.65" height="2.4" fill="#202090"/><rect x="148.2" y="402.5" width="27.65" height="1.9" fill="#1d1d8e"/><rect x="148.2" y="404.0" width="27.65" height="2.4" fill="#5b5bad"/><rect x="148.2" y="406.0" width="27.65" height="2.4" fill="#5151a8"/><rect x="148.2" y="408.0" width="27.65" height="2.4" fill="#5353aa"/><rect x="148.2" y="410.0" width="27.65" height="2.4" fill="#5252a9"/><rect x="148.2" y="412.0" width="27.65" height="2.4" fill="#5e5eaf"/><rect x="148.2" y="414.0" width="27.65" height="2.4" fill="#4b4ba6"/><rect x="148.2" y="416.0" width="27.65" height="2.4" fill="#5959ac"/><rect x="148.2" y="418.0" width="27.65" height="2.4" fill="#5454aa"/><rect x="148.2" y="420.0" width="27.65" height="2.4" fill="#5959ac"/><rect x="148.2" y="422.0" width="27.65" height="2.4" fill="#4a4aa5"/><rect x="148.2" y="424.0" width="27.65" height="2.4" fill="#5555aa"/><rect x="148.2" y="426.0" width="27.65" height="2.4" fill="#4f4fa7"/><rect x="148.2" y="428.0" width="27.65" height="2.4" fill="#4646a3"/><rect x="148.2" y="430.0" width="27.65" height="1.4" fill="#4242a1"/><rect x="148.2" y="431.0" width="27.65" height="2.4" fill="#4c4ca6"/><rect x="148.2" y="433.0" width="27.65" height="2.4" fill="#38389c"/><rect x="148.2" y="435.0" width="27.65" height="2.4" fill="#5656ab"/><rect x="148.2" y="437.0" width="27.65" height="2.4" fill="#3b3b9d"/><rect x="148.2" y="439.0" width="27.65" height="2.4" fill="#37379b"/><rect x="148.2" y="441.0" width="27.65" height="2.4" fill="#39399d"/><rect x="148.2" y="443.0" width="27.65" height="2.4" fill="#5757ab"/><rect x="148.2" y="445.0" width="27.65" height="2.4" fill="#4242a1"/><rect x="148.2" y="447.0" width="27.65" height="2.4" fill="#3b3b9d"/><rect x="148.2" y="449.0" width="27.65" height="1.4" fill="#37379b"/><rect x="148.2" y="450.0" width="27.65" height="2.4" fill="#2b2b96"/><rect x="148.2" y="452.0" width="27.65" height="2.4" fill="#4444a2"/><rect x="148.2" y="454.0" width="27.65" height="2.4" fill="#3d3d9e"/><rect x="148.2" y="456.0" width="27.65" height="2.4" fill="#272793"/><rect x="148.2" y="458.0" width="27.65" height="2.4" fill="#272793"/><rect x="148.2" y="460.0" width="27.65" height="2.4" fill="#4848a4"/><rect x="148.2" y="462.0" width="27.65" height="2.4" fill="#3e3e9f"/><rect x="148.2" y="464.0" width="27.65" height="2.4" fill="#2f2f97"/><rect x="148.2" y="466.0" width="27.65" height="2.4" fill="#2a2a95"/><rect x="148.2" y="468.0" width="27.65" height="2.4" fill="#7f7fbf"/><rect x="148.2" y="470.0" width="27.65" height="2.1" fill="#8383c1"/><rect x="148.2" y="471.7" width="27.65" height="2.4" fill="#6363b1"/><rect x="148.2" y="473.7" width="27.65" height="2.4" fill="#5454aa"/><rect x="148.2" y="475.7" width="27.65" height="2.4" fill="#4d4da6"/><rect x="148.2" y="477.7" width="27.65" height="2.4" fill="#6868b4"/><rect x="148.2" y="479.7" width="27.65" height="0.6" fill="#6464b2"/><rect x="148.2" y="480.0" width="27.65" height="2.4" fill="#272793"/><rect x="148.2" y="482.0" width="27.65" height="2.4" fill="#4141a0"/><rect x="148.2" y="484.0" width="27.65" height="2.4" fill="#37379b"/><rect x="148.2" y="486.0" width="27.65" height="2.4" fill="#3d3d9e"/><rect x="148.2" y="488.0" width="27.65" height="2.4" fill="#39399c"/><rect x="148.2" y="490.0" width="27.65" height="2.4" fill="#4141a0"/><rect x="148.2" y="492.0" width="27.65" height="1.9" fill="#3d3d9f"/><rect x="148.2" y="493.5" width="27.65" height="2.4" fill="#7f7fbf"/><rect x="148.2" y="495.5" width="27.65" height="2.4" fill="#6868b4"/><rect x="148.2" y="497.5" width="27.65" height="2.4" fill="#7a7abd"/><rect x="148.2" y="499.5" width="27.65" height="2.4" fill="#7474ba"/><rect x="148.2" y="501.5" width="27.65" height="2.4" fill="#7b7bbd"/><rect x="148.2" y="503.5" width="27.65" height="0.9" fill="#7171b8"/><rect x="148.2" y="504.0" width="27.65" height="2.4" fill="#6767b3"/><rect x="148.2" y="506.0" width="27.65" height="2.4" fill="#5b5bad"/><rect x="148.2" y="508.0" width="27.65" height="2.4" fill="#5151a8"/><rect x="148.2" y="510.0" width="27.65" height="2.4" fill="#5050a8"/><rect x="148.2" y="512.0" width="27.65" height="2.4" fill="#4c4ca6"/><rect x="148.2" y="514.0" width="27.65" height="2.4" fill="#5959ac"/><rect x="148.2" y="516.0" width="27.65" height="2.4" fill="#3d3d9e"/><rect x="148.2" y="518.0" width="27.65" height="2.4" fill="#4b4ba6"/><rect x="148.2" y="520.0" width="27.65" height="2.4" fill="#4040a0"/><rect x="148.2" y="522.0" width="27.65" height="2.4" fill="#4c4ca6"/><rect x="148.2" y="524.0" width="27.65" height="2.4" fill="#4c4ca6"/><rect x="148.2" y="526.0" width="27.65" height="2.4" fill="#4e4ea7"/><rect x="148.2" y="528.0" width="27.65" height="2.4" fill="#5959ad"/><rect x="148.2" y="530.0" width="27.65" height="2.1" fill="#3b3b9d"/><rect x="148.2" y="531.7" width="27.65" height="2.4" fill="#7f7fbf"/><rect x="148.2" y="533.7" width="27.65" height="2.4" fill="#7272b9"/><rect x="148.2" y="535.7" width="27.65" height="2.4" fill="#7575ba"/><rect x="148.2" y="537.7" width="27.65" height="1.1" fill="#7979bc"/><rect x="148.2" y="538.5" width="27.65" height="2.4" fill="#3f3f9f"/><rect x="148.2" y="540.5" width="27.65" height="2.4" fill="#2f2f97"/><rect x="148.2" y="542.5" width="27.65" height="2.4" fill="#303098"/><rect x="148.2" y="544.5" width="27.65" height="2.4" fill="#4343a2"/><rect x="148.2" y="546.5" width="27.65" height="2.4" fill="#242492"/><rect x="148.2" y="548.5" width="27.65" height="1.9" fill="#38389c"/><rect x="148.2" y="550.0" width="27.65" height="2.4" fill="#5050a8"/><rect x="148.2" y="552.0" width="27.65" height="2.4" fill="#37379b"/><rect x="148.2" y="554.0" width="27.65" height="2.4" fill="#4242a1"/><rect x="148.2" y="556.0" width="27.65" height="2.4" fill="#4545a2"/><rect x="148.2" y="558.0" width="27.65" height="1.4" fill="#5050a8"/><rect x="148.2" y="559.0" width="27.65" height="2.4" fill="#9f9fcf"/><rect x="148.2" y="561.0" width="27.65" height="2.4" fill="#9595ca"/><rect x="148.2" y="563.0" width="27.65" height="2.4" fill="#9797cb"/><rect x="148.2" y="565.0" width="27.65" height="1.9" fill="#8d8dc6"/><rect x="148.2" y="566.5" width="27.65" height="2.4" fill="#6a6ab5"/><rect x="148.2" y="568.5" width="27.65" height="2.4" fill="#6b6bb5"/><rect x="148.2" y="570.5" width="27.65" height="2.4" fill="#4f4fa8"/><rect x="148.2" y="572.5" width="27.65" height="2.4" fill="#4949a4"/><rect x="148.2" y="574.5" width="27.65" height="2.4" fill="#5151a8"/><rect x="148.2" y="576.5" width="27.65" height="2.4" fill="#5454aa"/><rect x="148.2" y="578.5" width="27.65" height="2.4" fill="#6868b4"/><rect x="148.2" y="580.5" width="27.65" height="2.4" fill="#6868b4"/><rect x="148.2" y="582.5" width="27.65" height="2.4" fill="#6565b2"/><rect x="148.2" y="584.5" width="27.65" height="2.4" fill="#4949a4"/><rect x="148.2" y="586.5" width="27.65" height="2.4" fill="#6363b2"/><rect x="148.2" y="588.5" width="27.65" height="0.9" fill="#6161b0"/><rect x="148.2" y="589.0" width="27.65" height="2.4" fill="#7878bc"/><rect x="148.2" y="591.0" width="27.65" height="2.4" fill="#8484c2"/><rect x="148.2" y="593.0" width="27.65" height="2.4" fill="#6363b1"/><rect x="148.2" y="595.0" width="27.65" height="2.4" fill="#6666b3"/><rect x="148.2" y="597.0" width="27.65" height="2.4" fill="#7c7cbe"/><rect x="148.2" y="599.0" width="27.65" height="2.4" fill="#8282c1"/><rect x="148.2" y="601.0" width="27.65" height="1.9" fill="#7979bc"/><rect x="148.2" y="602.5" width="27.65" height="2.4" fill="#060683"/><rect x="148.2" y="604.5" width="27.65" height="2.4" fill="#101088"/><rect x="148.2" y="606.5" width="27.65" height="2.4" fill="#16168b"/><rect x="148.2" y="608.5" width="27.65" height="2.4" fill="#4b4ba5"/><rect x="148.2" y="610.5" width="27.65" height="2.4" fill="#5353a9"/><rect x="148.2" y="612.5" width="27.65" height="2.4" fill="#5151a8"/><rect x="148.2" y="614.5" width="27.65" height="2.4" fill="#4c4ca6"/><rect x="148.2" y="616.5" width="27.65" height="2.4" fill="#5959ac"/><rect x="148.2" y="618.5" width="27.65" height="2.4" fill="#4d4da7"/><rect x="148.2" y="620.5" width="27.65" height="1.9" fill="#5050a8"/><rect x="148.2" y="622.0" width="27.65" height="2.4" fill="#212191"/><rect x="148.2" y="624.0" width="27.65" height="2.4" fill="#34349a"/><rect x="148.2" y="626.0" width="27.65" height="2.4" fill="#1d1d8e"/><rect x="148.2" y="628.0" width="27.65" height="2.4" fill="#36369b"/><rect x="148.2" y="630.0" width="27.65" height="2.4" fill="#232391"/><rect x="148.2" y="632.0" width="27.65" height="0.9" fill="#1d1d8f"/><rect x="148.2" y="632.5" width="27.65" height="2.4" fill="#1c1c8e"/><rect x="148.2" y="634.5" width="27.65" height="2.4" fill="#030381"/><rect x="148.2" y="636.5" width="27.65" height="2.4" fill="#1c1c8e"/><rect x="148.2" y="638.5" width="27.65" height="2.4" fill="#1a1a8d"/><rect x="148.2" y="640.5" width="27.65" height="2.4" fill="#1b1b8d"/><rect x="148.2" y="642.5" width="27.65" height="2.4" fill="#000080"/><rect x="148.2" y="644.5" width="27.65" height="1.2" fill="#0b0b85"/>
<rect x="175.8" y="52.4" width="27.50" height="2.4" fill="#7373b9"/><rect x="175.8" y="54.4" width="27.50" height="2.4" fill="#8e8ec7"/><rect x="175.8" y="56.4" width="27.50" height="0.7" fill="#8a8ac5"/><rect x="175.8" y="56.7" width="27.50" height="2.4" fill="#ffffff"/><rect x="175.8" y="58.7" width="27.50" height="2.4" fill="#faeaea"/><rect x="175.8" y="60.7" width="27.50" height="2.4" fill="#f9e6e6"/><rect x="175.8" y="62.7" width="27.50" height="1.1" fill="#fbefef"/><rect x="175.8" y="63.5" width="27.50" height="2.4" fill="#f9e3e3"/><rect x="175.8" y="65.5" width="27.50" height="2.4" fill="#f7dddd"/><rect x="175.8" y="67.5" width="27.50" height="2.4" fill="#faeaea"/><rect x="175.8" y="69.5" width="27.50" height="2.4" fill="#d4d4ea"/><rect x="175.8" y="71.5" width="27.50" height="2.4" fill="#f6f6fb"/><rect x="175.8" y="73.5" width="27.50" height="0.9" fill="#ebebf5"/><rect x="175.8" y="74.0" width="27.50" height="2.4" fill="#fcf3f3"/><rect x="175.8" y="76.0" width="27.50" height="2.4" fill="#f9e7e7"/><rect x="175.8" y="78.0" width="27.50" height="0.9" fill="#fdf6f6"/><rect x="175.8" y="78.5" width="27.50" height="2.4" fill="#d9d9ec"/><rect x="175.8" y="80.5" width="27.50" height="1.4" fill="#d8d8eb"/><rect x="175.8" y="81.5" width="27.50" height="2.4" fill="#f5f5fa"/><rect x="175.8" y="83.5" width="27.50" height="2.4" fill="#f6f6fb"/><rect x="175.8" y="85.5" width="27.50" height="0.9" fill="#f8f8fb"/><rect x="175.8" y="86.0" width="27.50" height="2.4" fill="#f4d1d1"/><rect x="175.8" y="88.0" width="27.50" height="2.4" fill="#f2c6c6"/><rect x="175.8" y="90.0" width="27.50" height="2.4" fill="#f4d0d0"/><rect x="175.8" y="92.0" width="27.50" height="2.4" fill="#f3cbcb"/><rect x="175.8" y="94.0" width="27.50" height="1.4" fill="#f5d4d4"/><rect x="175.8" y="95.0" width="27.50" height="2.4" fill="#fae8e8"/><rect x="175.8" y="97.0" width="27.50" height="2.4" fill="#fef9f9"/><rect x="175.8" y="99.0" width="27.50" height="2.4" fill="#fdf5f5"/><rect x="175.8" y="101.0" width="27.50" height="2.4" fill="#fefcfc"/><rect x="175.8" y="103.0" width="27.50" height="2.4" fill="#fcf3f3"/><rect x="175.8" y="105.0" width="27.50" height="2.4" fill="#fcfcfe"/><rect x="175.8" y="107.0" width="27.50" height="2.4" fill="#f4f4fa"/><rect x="175.8" y="109.0" width="27.50" height="2.4" fill="#e6e6f2"/><rect x="175.8" y="111.0" width="27.50" height="0.9" fill="#e7e7f3"/><rect x="175.8" y="111.5" width="27.50" height="2.4" fill="#dadaec"/><rect x="175.8" y="113.5" width="27.50" height="2.4" fill="#c8c8e3"/><rect x="175.8" y="115.5" width="27.50" height="0.9" fill="#d7d7eb"/><rect x="175.8" y="116.0" width="27.50" height="2.4" fill="#eba7a7"/><rect x="175.8" y="118.0" width="27.50" height="2.4" fill="#ecacac"/><rect x="175.8" y="120.0" width="27.50" height="2.4" fill="#e69494"/><rect x="175.8" y="122.0" width="27.50" height="2.4" fill="#f3f3f9"/><rect x="175.8" y="124.0" width="27.50" height="2.4" fill="#fefeff"/><rect x="175.8" y="126.0" width="27.50" height="0.9" fill="#fdf8f8"/><rect x="175.8" y="126.5" width="27.50" height="2.4" fill="#cecee7"/><rect x="175.8" y="128.5" width="27.50" height="1.4" fill="#c6c6e3"/><rect x="175.8" y="129.5" width="27.50" height="2.4" fill="#fcf4f4"/><rect x="175.8" y="131.5" width="27.50" height="2.4" fill="#fcf2f2"/><rect x="175.8" y="133.5" width="27.50" height="0.9" fill="#fbecec"/><rect x="175.8" y="134.0" width="27.50" height="2.4" fill="#fdf5f5"/><rect x="175.8" y="136.0" width="27.50" height="2.4" fill="#fae7e7"/><rect x="175.8" y="138.0" width="27.50" height="2.4" fill="#fcf1f1"/><rect x="175.8" y="140.0" width="27.50" height="1.9" fill="#fcf0f0"/><rect x="175.8" y="141.5" width="27.50" height="2.4" fill="#eeb6b6"/><rect x="175.8" y="143.5" width="27.50" height="2.4" fill="#f0bebe"/><rect x="175.8" y="145.5" width="27.50" height="2.4" fill="#f0bcbc"/><rect x="175.8" y="147.5" width="27.50" height="2.4" fill="#eeb6b6"/><rect x="175.8" y="149.5" width="27.50" height="0.9" fill="#edb1b1"/><rect x="175.8" y="150.0" width="27.50" height="2.4" fill="#ecaeae"/><rect x="175.8" y="152.0" width="27.50" height="2.4" fill="#eeb3b3"/><rect x="175.8" y="154.0" width="27.50" height="2.4" fill="#ecadad"/><rect x="175.8" y="156.0" width="27.50" height="2.4" fill="#ecaeae"/><rect x="175.8" y="158.0" width="27.50" height="2.4" fill="#e99e9e"/><rect x="175.8" y="160.0" width="27.50" height="0.9" fill="#eeb7b7"/><rect x="175.8" y="160.5" width="27.50" height="2.4" fill="#f3cccc"/><rect x="175.8" y="162.5" width="27.50" height="2.4" fill="#f3c9c9"/><rect x="175.8" y="164.5" width="27.50" height="2.4" fill="#f8dfdf"/><rect x="175.8" y="166.5" width="27.50" height="2.4" fill="#e89b9b"/><rect x="175.8" y="168.5" width="27.50" height="2.4" fill="#eaa2a2"/><rect x="175.8" y="170.5" width="27.50" height="2.4" fill="#e89c9c"/><rect x="175.8" y="172.5" width="27.50" height="1.9" fill="#ecafaf"/><rect x="175.8" y="174.0" width="27.50" height="2.4" fill="#eeb7b7"/><rect x="175.8" y="176.0" width="27.50" height="2.4" fill="#eeb6b6"/><rect x="175.8" y="178.0" width="27.50" height="2.4" fill="#eaa4a4"/><rect x="175.8" y="180.0" width="27.50" height="2.4" fill="#edb0b0"/><rect x="175.8" y="182.0" width="27.50" height="1.4" fill="#eeb7b7"/><rect x="175.8" y="183.0" width="27.50" height="2.4" fill="#e9a0a0"/><rect x="175.8" y="185.0" width="27.50" height="2.4" fill="#eaa4a4"/><rect x="175.8" y="187.0" width="27.50" height="2.4" fill="#ecabab"/><rect x="175.8" y="189.0" width="27.50" height="2.4" fill="#eba9a9"/><rect x="175.8" y="191.0" width="27.50" height="2.4" fill="#e69393"/><rect x="175.8" y="193.0" width="27.50" height="2.4" fill="#eaa4a4"/><rect x="175.8" y="195.0" width="27.50" height="2.4" fill="#eaa6a6"/><rect x="175.8" y="197.0" width="27.50" height="2.4" fill="#efbbbb"/><rect x="175.8" y="199.0" width="27.50" height="2.4" fill="#efbaba"/><rect x="175.8" y="201.0" width="27.50" height="2.4" fill="#edb3b3"/><rect x="175.8" y="203.0" width="27.50" height="2.4" fill="#f0bcbc"/><rect x="175.8" y="205.0" width="27.50" height="2.4" fill="#eeb7b7"/><rect x="175.8" y="207.0" width="27.50" height="2.4" fill="#eaa5a5"/><rect x="175.8" y="209.0" width="27.50" height="2.4" fill="#eba7a7"/><rect x="175.8" y="211.0" width="27.50" height="2.4" fill="#ebaaaa"/><rect x="175.8" y="213.0" width="27.50" height="1.9" fill="#edafaf"/><rect x="175.8" y="214.5" width="27.50" height="2.4" fill="#edb1b1"/><rect x="175.8" y="216.5" width="27.50" height="2.4" fill="#edb1b1"/><rect x="175.8" y="218.5" width="27.50" height="2.4" fill="#f0bcbc"/><rect x="175.8" y="220.5" width="27.50" height="2.4" fill="#eeb7b7"/><rect x="175.8" y="222.5" width="27.50" height="2.4" fill="#f3cccc"/><rect x="175.8" y="224.5" width="27.50" height="0.9" fill="#eeb7b7"/><rect x="175.8" y="225.0" width="27.50" height="2.4" fill="#f8e0e0"/><rect x="175.8" y="227.0" width="27.50" height="2.4" fill="#f6d7d7"/><rect x="175.8" y="229.0" width="27.50" height="2.4" fill="#f6dada"/><rect x="175.8" y="231.0" width="27.50" height="2.4" fill="#f1c4c4"/><rect x="175.8" y="233.0" width="27.50" height="2.4" fill="#f3cccc"/><rect x="175.8" y="235.0" width="27.50" height="2.4" fill="#edb1b1"/><rect x="175.8" y="237.0" width="27.50" height="2.4" fill="#f3c9c9"/><rect x="175.8" y="239.0" width="27.50" height="2.4" fill="#f0bfbf"/><rect x="175.8" y="241.0" width="27.50" height="2.4" fill="#f1c3c3"/><rect x="175.8" y="243.0" width="27.50" height="2.4" fill="#e79999"/><rect x="175.8" y="245.0" width="27.50" height="2.4" fill="#e48b8b"/><rect x="175.8" y="247.0" width="27.50" height="2.4" fill="#e38484"/><rect x="175.8" y="249.0" width="27.50" height="1.4" fill="#e89a9a"/><rect x="175.8" y="250.0" width="27.50" height="2.4" fill="#e27f7f"/><rect x="175.8" y="252.0" width="27.50" height="2.4" fill="#e07a7a"/><rect x="175.8" y="254.0" width="27.50" height="0.9" fill="#e69494"/><rect x="175.8" y="254.5" width="27.50" height="2.4" fill="#d44444"/><rect x="175.8" y="256.5" width="27.50" height="2.4" fill="#d44343"/><rect x="175.8" y="258.5" width="27.50" height="2.4" fill="#d64f4f"/><rect x="175.8" y="260.5" width="27.50" height="2.4" fill="#d54b4b"/><rect x="175.8" y="262.5" width="27.50" height="2.4" fill="#d75151"/><rect x="175.8" y="264.5" width="27.50" height="2.4" fill="#d75050"/><rect x="175.8" y="266.5" width="27.50" height="2.4" fill="#d64e4e"/><rect x="175.8" y="268.5" width="27.50" height="2.4" fill="#d44444"/><rect x="175.8" y="270.5" width="27.50" height="2.4" fill="#d34242"/><rect x="175.8" y="272.5" width="27.50" height="1.9" fill="#d75050"/><rect x="175.8" y="274.0" width="27.50" height="2.4" fill="#e28181"/><rect x="175.8" y="276.0" width="27.50" height="2.4" fill="#e07777"/><rect x="175.8" y="278.0" width="27.50" height="2.4" fill="#dd6d6d"/><rect x="175.8" y="280.0" width="27.50" height="1.9" fill="#e17c7c"/><rect x="175.8" y="281.5" width="27.50" height="2.4" fill="#eaa3a3"/><rect x="175.8" y="283.5" width="27.50" height="2.4" fill="#eba6a6"/><rect x="175.8" y="285.5" width="27.50" height="2.4" fill="#e69494"/><rect x="175.8" y="287.5" width="27.50" height="2.4" fill="#e89c9c"/><rect x="175.8" y="289.5" width="27.50" height="2.4" fill="#ecabab"/><rect x="175.8" y="291.5" width="27.50" height="2.4" fill="#eba9a9"/><rect x="175.8" y="293.5" width="27.50" height="2.4" fill="#e28080"/><rect x="175.8" y="295.5" width="27.50" height="2.4" fill="#e17b7b"/><rect x="175.8" y="297.5" width="27.50" height="2.4" fill="#e07979"/><rect x="175.8" y="299.5" width="27.50" height="2.4" fill="#e48989"/><rect x="175.8" y="301.5" width="27.50" height="2.4" fill="#e38787"/><rect x="175.8" y="303.5" width="27.50" height="2.4" fill="#e07777"/><rect x="175.8" y="305.5" width="27.50" height="2.4" fill="#e28080"/><rect x="175.8" y="307.5" width="27.50" height="2.4" fill="#e38383"/><rect x="175.8" y="309.5" width="27.50" height="2.4" fill="#e28383"/><rect x="175.8" y="311.5" width="27.50" height="2.4" fill="#de6f6f"/><rect x="175.8" y="313.5" width="27.50" height="2.4" fill="#e28383"/><rect x="175.8" y="315.5" width="27.50" height="0.9" fill="#e17b7b"/><rect x="175.8" y="316.0" width="27.50" height="2.4" fill="#6e6eb7"/><rect x="175.8" y="318.0" width="27.50" height="2.4" fill="#7070b8"/><rect x="175.8" y="320.0" width="27.50" height="2.4" fill="#8080c0"/><rect x="175.8" y="322.0" width="27.50" height="2.4" fill="#8484c2"/><rect x="175.8" y="324.0" width="27.50" height="2.4" fill="#6e6eb7"/><rect x="175.8" y="326.0" width="27.50" height="2.4" fill="#6868b4"/><rect x="175.8" y="328.0" width="27.50" height="2.4" fill="#7b7bbd"/><rect x="175.8" y="330.0" width="27.50" height="2.4" fill="#6868b4"/><rect x="175.8" y="332.0" width="27.50" height="2.4" fill="#6161b0"/><rect x="175.8" y="334.0" width="27.50" height="2.4" fill="#282894"/><rect x="175.8" y="336.0" width="27.50" height="2.4" fill="#17178b"/><rect x="175.8" y="338.0" width="27.50" height="0.9" fill="#252592"/><rect x="175.8" y="338.5" width="27.50" height="2.4" fill="#6363b1"/><rect x="175.8" y="340.5" width="27.50" height="2.4" fill="#7474ba"/><rect x="175.8" y="342.5" width="27.50" height="2.4" fill="#6565b2"/><rect x="175.8" y="344.5" width="27.50" height="2.4" fill="#1a1a8d"/><rect x="175.8" y="346.5" width="27.50" height="2.4" fill="#15158a"/><rect x="175.8" y="348.5" width="27.50" height="1.9" fill="#282894"/><rect x="175.8" y="350.0" width="27.50" height="2.4" fill="#37379b"/><rect x="175.8" y="352.0" width="27.50" height="2.4" fill="#4e4ea7"/><rect x="175.8" y="354.0" width="27.50" height="2.4" fill="#4c4ca6"/><rect x="175.8" y="356.0" width="27.50" height="2.4" fill="#4e4ea7"/><rect x="175.8" y="358.0" width="27.50" height="0.6" fill="#5050a8"/><rect x="175.8" y="358.2" width="27.50" height="2.4" fill="#7d7dbe"/><rect x="175.8" y="360.2" width="27.50" height="2.4" fill="#8f8fc7"/><rect x="175.8" y="362.2" width="27.50" height="2.4" fill="#8787c3"/><rect x="175.8" y="364.2" width="27.50" height="1.1" fill="#9898cb"/><rect x="175.8" y="365.0" width="27.50" height="2.4" fill="#5d5dae"/><rect x="175.8" y="367.0" width="27.50" height="2.4" fill="#6060b0"/><rect x="175.8" y="369.0" width="27.50" height="2.4" fill="#4242a1"/><rect x="175.8" y="371.0" width="27.50" height="2.4" fill="#5f5faf"/><rect x="175.8" y="373.0" width="27.50" height="2.4" fill="#6060b0"/><rect x="175.8" y="375.0" width="27.50" height="2.4" fill="#6161b1"/><rect x="175.8" y="377.0" width="27.50" height="2.4" fill="#4444a2"/><rect x="175.8" y="379.0" width="27.50" height="2.4" fill="#4747a3"/><rect x="175.8" y="381.0" width="27.50" height="2.4" fill="#4444a2"/><rect x="175.8" y="383.0" width="27.50" height="2.4" fill="#4141a0"/><rect x="175.8" y="385.0" width="27.50" height="2.4" fill="#5e5eaf"/><rect x="175.8" y="387.0" width="27.50" height="2.4" fill="#5d5dae"/><rect x="175.8" y="389.0" width="27.50" height="2.4" fill="#5656ab"/><rect x="175.8" y="391.0" width="27.50" height="2.4" fill="#5d5dae"/><rect x="175.8" y="393.0" width="27.50" height="2.4" fill="#5656ab"/><rect x="175.8" y="395.0" width="27.50" height="2.4" fill="#0d0d86"/><rect x="175.8" y="397.0" width="27.50" height="2.4" fill="#060683"/><rect x="175.8" y="399.0" width="27.50" height="2.4" fill="#060683"/><rect x="175.8" y="401.0" width="27.50" height="2.4" fill="#1e1e8f"/><rect x="175.8" y="403.0" width="27.50" height="2.4" fill="#0a0a85"/><rect x="175.8" y="405.0" width="27.50" height="2.4" fill="#0e0e87"/><rect x="175.8" y="407.0" width="27.50" height="2.4" fill="#4a4aa5"/><rect x="175.8" y="409.0" width="27.50" height="2.4" fill="#3b3b9e"/><rect x="175.8" y="411.0" width="27.50" height="2.4" fill="#4444a2"/><rect x="175.8" y="413.0" width="27.50" height="2.4" fill="#4545a2"/><rect x="175.8" y="415.0" width="27.50" height="2.4" fill="#5454aa"/><rect x="175.8" y="417.0" width="27.50" height="2.4" fill="#4848a4"/><rect x="175.8" y="419.0" width="27.50" height="1.9" fill="#4646a3"/><rect x="175.8" y="420.5" width="27.50" height="2.4" fill="#8383c1"/><rect x="175.8" y="422.5" width="27.50" height="2.4" fill="#7373b9"/><rect x="175.8" y="424.5" width="27.50" height="2.4" fill="#7f7fbf"/><rect x="175.8" y="426.5" width="27.50" height="2.4" fill="#7777bb"/><rect x="175.8" y="428.5" width="27.50" height="2.4" fill="#6262b1"/><rect x="175.8" y="430.5" width="27.50" height="0.9" fill="#7070b8"/><rect x="175.8" y="431.0" width="27.50" height="2.4" fill="#121289"/><rect x="175.8" y="433.0" width="27.50" height="2.4" fill="#1e1e8f"/><rect x="175.8" y="435.0" width="27.50" height="2.4" fill="#0f0f87"/><rect x="175.8" y="437.0" width="27.50" height="2.4" fill="#3f3fa0"/><rect x="175.8" y="439.0" width="27.50" height="2.4" fill="#39399d"/><rect x="175.8" y="441.0" width="27.50" height="2.4" fill="#2e2e97"/><rect x="175.8" y="443.0" width="27.50" height="2.4" fill="#4545a2"/><rect x="175.8" y="445.0" width="27.50" height="2.4" fill="#292995"/><rect x="175.8" y="447.0" width="27.50" height="2.4" fill="#4444a2"/><rect x="175.8" y="449.0" width="27.50" height="1.4" fill="#2c2c96"/><rect x="175.8" y="450.0" width="27.50" height="2.4" fill="#2b2b95"/><rect x="175.8" y="452.0" width="27.50" height="2.4" fill="#15158b"/><rect x="175.8" y="454.0" width="27.50" height="2.4" fill="#2a2a95"/><rect x="175.8" y="456.0" width="27.50" height="2.4" fill="#2d2d96"/><rect x="175.8" y="458.0" width="27.50" height="2.4" fill="#36369b"/><rect x="175.8" y="460.0" width="27.50" height="2.4" fill="#202090"/><rect x="175.8" y="462.0" width="27.50" height="2.4" fill="#37379c"/><rect x="175.8" y="464.0" width="27.50" height="2.4" fill="#272793"/><rect x="175.8" y="466.0" width="27.50" height="0.9" fill="#262693"/><rect x="175.8" y="466.5" width="27.50" height="2.4" fill="#0e0e87"/><rect x="175.8" y="468.5" width="27.50" height="2.4" fill="#000080"/><rect x="175.8" y="470.5" width="27.50" height="1.6" fill="#080884"/><rect x="175.8" y="471.7" width="27.50" height="2.4" fill="#4444a2"/><rect x="175.8" y="473.7" width="27.50" height="2.4" fill="#3a3a9d"/><rect x="175.8" y="475.7" width="27.50" height="2.4" fill="#4d4da6"/><rect x="175.8" y="477.7" width="27.50" height="2.4" fill="#3b3b9d"/><rect x="175.8" y="479.7" width="27.50" height="0.6" fill="#3f3f9f"/><rect x="175.8" y="480.0" width="27.50" height="2.4" fill="#8d8dc6"/><rect x="175.8" y="482.0" width="27.50" height="2.4" fill="#9696cb"/><rect x="175.8" y="484.0" width="27.50" height="2.4" fill="#8282c1"/><rect x="175.8" y="486.0" width="27.50" height="2.4" fill="#8a8ac5"/><rect x="175.8" y="488.0" width="27.50" height="2.4" fill="#8989c4"/><rect x="175.8" y="490.0" width="27.50" height="2.4" fill="#8e8ec7"/><rect x="175.8" y="492.0" width="27.50" height="1.9" fill="#9898cc"/><rect x="175.8" y="493.5" width="27.50" height="2.4" fill="#5252a9"/><rect x="175.8" y="495.5" width="27.50" height="2.4" fill="#6565b2"/><rect x="175.8" y="497.5" width="27.50" height="2.4" fill="#5656ab"/><rect x="175.8" y="499.5" width="27.50" height="2.4" fill="#5959ad"/><rect x="175.8" y="501.5" width="27.50" height="2.4" fill="#5151a8"/><rect x="175.8" y="503.5" width="27.50" height="2.4" fill="#5959ad"/><rect x="175.8" y="505.5" width="27.50" height="2.4" fill="#6a6ab5"/><rect x="175.8" y="507.5" width="27.50" height="2.4" fill="#5f5faf"/><rect x="175.8" y="509.5" width="27.50" height="0.9" fill="#6464b2"/><rect x="175.8" y="510.0" width="27.50" height="2.4" fill="#19198c"/><rect x="175.8" y="512.0" width="27.50" height="2.4" fill="#18188c"/><rect x="175.8" y="514.0" width="27.50" height="2.4" fill="#17178c"/><rect x="175.8" y="516.0" width="27.50" height="2.4" fill="#222291"/><rect x="175.8" y="518.0" width="27.50" height="2.4" fill="#232392"/><rect x="175.8" y="520.0" width="27.50" height="2.4" fill="#292994"/><rect x="175.8" y="522.0" width="27.50" height="1.9" fill="#0e0e87"/><rect x="175.8" y="523.5" width="27.50" height="2.4" fill="#6161b0"/><rect x="175.8" y="525.5" width="27.50" height="2.4" fill="#6767b3"/><rect x="175.8" y="527.5" width="27.50" height="2.4" fill="#5b5bad"/><rect x="175.8" y="529.5" width="27.50" height="2.4" fill="#4949a4"/><rect x="175.8" y="531.5" width="27.50" height="0.6" fill="#5252a9"/><rect x="175.8" y="531.7" width="27.50" height="2.4" fill="#2e2e97"/><rect x="175.8" y="533.7" width="27.50" height="2.4" fill="#35359a"/><rect x="175.8" y="535.7" width="27.50" height="2.4" fill="#4f4fa7"/><rect x="175.8" y="537.7" width="27.50" height="2.4" fill="#4444a2"/><rect x="175.8" y="539.7" width="27.50" height="2.4" fill="#4545a3"/><rect x="175.8" y="541.7" width="27.50" height="2.4" fill="#4a4aa5"/><rect x="175.8" y="543.7" width="27.50" height="2.4" fill="#4e4ea7"/><rect x="175.8" y="545.7" width="27.50" height="2.4" fill="#4444a2"/><rect x="175.8" y="547.7" width="27.50" height="2.4" fill="#4444a2"/><rect x="175.8" y="549.7" width="27.50" height="0.7" fill="#4444a2"/><rect x="175.8" y="550.0" width="27.50" height="2.4" fill="#6464b2"/><rect x="175.8" y="552.0" width="27.50" height="2.4" fill="#8282c1"/><rect x="175.8" y="554.0" width="27.50" height="2.4" fill="#7f7fbf"/><rect x="175.8" y="556.0" width="27.50" height="2.4" fill="#7777bb"/><rect x="175.8" y="558.0" width="27.50" height="1.4" fill="#7171b8"/><rect x="175.8" y="559.0" width="27.50" height="2.4" fill="#070784"/><rect x="175.8" y="561.0" width="27.50" height="2.4" fill="#18188c"/><rect x="175.8" y="563.0" width="27.50" height="2.4" fill="#0c0c86"/><rect x="175.8" y="565.0" width="27.50" height="1.9" fill="#111189"/><rect x="175.8" y="566.5" width="27.50" height="2.4" fill="#333399"/><rect x="175.8" y="568.5" width="27.50" height="2.4" fill="#36369b"/><rect x="175.8" y="570.5" width="27.50" height="2.4" fill="#303098"/><rect x="175.8" y="572.5" width="27.50" height="2.4" fill="#8787c3"/><rect x="175.8" y="574.5" width="27.50" height="2.4" fill="#8181c0"/><rect x="175.8" y="576.5" width="27.50" height="0.9" fill="#7373b9"/><rect x="175.8" y="577.0" width="27.50" height="2.4" fill="#33339a"/><rect x="175.8" y="579.0" width="27.50" height="2.4" fill="#1e1e8f"/><rect x="175.8" y="581.0" width="27.50" height="2.4" fill="#232391"/><rect x="175.8" y="583.0" width="27.50" height="2.4" fill="#4d4da6"/><rect x="175.8" y="585.0" width="27.50" height="2.4" fill="#5151a8"/><rect x="175.8" y="587.0" width="27.50" height="2.4" fill="#6565b2"/><rect x="175.8" y="589.0" width="27.50" height="2.4" fill="#5353aa"/><rect x="175.8" y="591.0" width="27.50" height="1.4" fill="#4d4da7"/><rect x="175.8" y="592.0" width="27.50" height="2.4" fill="#8c8cc6"/><rect x="175.8" y="594.0" width="27.50" height="2.4" fill="#8686c3"/><rect x="175.8" y="596.0" width="27.50" height="2.4" fill="#9b9bcd"/><rect x="175.8" y="598.0" width="27.50" height="2.4" fill="#7e7ebf"/><rect x="175.8" y="600.0" width="27.50" height="2.4" fill="#9d9dce"/><rect x="175.8" y="602.0" width="27.50" height="0.9" fill="#7c7cbe"/><rect x="175.8" y="602.5" width="27.50" height="2.4" fill="#e7e7f3"/><rect x="175.8" y="604.5" width="27.50" height="2.4" fill="#dfdfef"/><rect x="175.8" y="606.5" width="27.50" height="2.4" fill="#cecee7"/><rect x="175.8" y="608.5" width="27.50" height="1.1" fill="#d8d8ec"/><rect x="175.8" y="609.2" width="27.50" height="2.4" fill="#1f1f8f"/><rect x="175.8" y="611.2" width="27.50" height="2.4" fill="#1e1e8f"/><rect x="175.8" y="613.2" width="27.50" height="2.4" fill="#1c1c8e"/><rect x="175.8" y="615.2" width="27.50" height="2.4" fill="#212191"/><rect x="175.8" y="617.2" width="27.50" height="2.4" fill="#38389c"/><rect x="175.8" y="619.2" width="27.50" height="2.4" fill="#38389c"/><rect x="175.8" y="621.2" width="27.50" height="1.1" fill="#35359b"/><rect x="175.8" y="622.0" width="27.50" height="2.4" fill="#3e3e9f"/><rect x="175.8" y="624.0" width="27.50" height="2.4" fill="#4545a2"/><rect x="175.8" y="626.0" width="27.50" height="2.4" fill="#5b5bad"/><rect x="175.8" y="628.0" width="27.50" height="2.4" fill="#3d3d9e"/><rect x="175.8" y="630.0" width="27.50" height="2.4" fill="#5555aa"/><rect x="175.8" y="632.0" width="27.50" height="0.9" fill="#4545a2"/><rect x="175.8" y="632.5" width="27.50" height="2.4" fill="#8484c2"/><rect x="175.8" y="634.5" width="27.50" height="2.4" fill="#6161b1"/><rect x="175.8" y="636.5" width="27.50" height="2.4" fill="#7e7ebf"/><rect x="175.8" y="638.5" width="27.50" height="2.4" fill="#6d6db6"/><rect x="175.8" y="640.5" width="27.50" height="2.4" fill="#6666b3"/><rect x="175.8" y="642.5" width="27.50" height="2.4" fill="#6161b0"/><rect x="175.8" y="644.5" width="27.50" height="1.2" fill="#7f7fbf"/>
<rect x="203.25" y="52.4" width="27.30" height="2.4" fill="#d23d3d"/><rect x="203.25" y="54.4" width="27.30" height="2.4" fill="#d13838"/><rect x="203.25" y="56.4" width="27.30" height="0.7" fill="#d23c3c"/><rect x="203.25" y="56.7" width="27.30" height="2.4" fill="#eba8a8"/><rect x="203.25" y="58.7" width="27.30" height="2.4" fill="#eaa2a2"/><rect x="203.25" y="60.7" width="27.30" height="2.4" fill="#ebaaaa"/><rect x="203.25" y="62.7" width="27.30" height="2.4" fill="#eba7a7"/><rect x="203.25" y="64.7" width="27.30" height="2.4" fill="#eba9a9"/><rect x="203.25" y="66.7" width="27.30" height="2.4" fill="#e89b9b"/><rect x="203.25" y="68.7" width="27.30" height="1.1" fill="#eaa2a2"/><rect x="203.25" y="69.5" width="27.30" height="2.4" fill="#e17c7c"/><rect x="203.25" y="71.5" width="27.30" height="2.4" fill="#e07a7a"/><rect x="203.25" y="73.5" width="27.30" height="2.4" fill="#e58f8f"/><rect x="203.25" y="75.5" width="27.30" height="2.4" fill="#e38686"/><rect x="203.25" y="77.5" width="27.30" height="2.4" fill="#e07a7a"/><rect x="203.25" y="79.5" width="27.30" height="2.4" fill="#e17d7d"/><rect x="203.25" y="81.5" width="27.30" height="2.4" fill="#e69393"/><rect x="203.25" y="83.5" width="27.30" height="2.4" fill="#e69393"/><rect x="203.25" y="85.5" width="27.30" height="2.4" fill="#e48989"/><rect x="203.25" y="87.5" width="27.30" height="2.4" fill="#e69595"/><rect x="203.25" y="89.5" width="27.30" height="2.4" fill="#e59090"/><rect x="203.25" y="91.5" width="27.30" height="2.4" fill="#e69595"/><rect x="203.25" y="93.5" width="27.30" height="1.9" fill="#e28383"/><rect x="203.25" y="95.0" width="27.30" height="2.4" fill="#da5e5e"/><rect x="203.25" y="97.0" width="27.30" height="2.4" fill="#d95b5b"/><rect x="203.25" y="99.0" width="27.30" height="2.4" fill="#de7272"/><rect x="203.25" y="101.0" width="27.30" height="2.4" fill="#da6161"/><rect x="203.25" y="103.0" width="27.30" height="2.4" fill="#db6262"/><rect x="203.25" y="105.0" width="27.30" height="2.4" fill="#de7272"/><rect x="203.25" y="107.0" width="27.30" height="2.4" fill="#d95b5b"/><rect x="203.25" y="109.0" width="27.30" height="2.4" fill="#d95959"/><rect x="203.25" y="111.0" width="27.30" height="2.4" fill="#de7070"/><rect x="203.25" y="113.0" width="27.30" height="2.4" fill="#d95959"/><rect x="203.25" y="115.0" width="27.30" height="1.4" fill="#dd6a6a"/><rect x="203.25" y="116.0" width="27.30" height="2.4" fill="#7f7fbf"/><rect x="203.25" y="118.0" width="27.30" height="2.4" fill="#9191c8"/><rect x="203.25" y="120.0" width="27.30" height="1.6" fill="#8b8bc5"/><rect x="203.25" y="121.2" width="27.30" height="2.4" fill="#fcf4f4"/><rect x="203.25" y="123.2" width="27.30" height="2.4" fill="#faebeb"/><rect x="203.25" y="125.2" width="27.30" height="2.4" fill="#fae9e9"/><rect x="203.25" y="127.2" width="27.30" height="2.4" fill="#fbeeee"/><rect x="203.25" y="129.2" width="27.30" height="2.1" fill="#fcf3f3"/><rect x="203.25" y="131.0" width="27.30" height="2.4" fill="#f4cece"/><rect x="203.25" y="133.0" width="27.30" height="2.4" fill="#f1c2c2"/><rect x="203.25" y="135.0" width="27.30" height="2.4" fill="#f6d7d7"/><rect x="203.25" y="137.0" width="27.30" height="2.4" fill="#f2c7c7"/><rect x="203.25" y="139.0" width="27.30" height="2.4" fill="#f3cbcb"/><rect x="203.25" y="141.0" width="27.30" height="0.9" fill="#f6d7d7"/><rect x="203.25" y="141.5" width="27.30" height="2.4" fill="#f6d9d9"/><rect x="203.25" y="143.5" width="27.30" height="2.4" fill="#f4d0d0"/><rect x="203.25" y="145.5" width="27.30" height="2.4" fill="#f5d3d3"/><rect x="203.25" y="147.5" width="27.30" height="2.4" fill="#f8e1e1"/><rect x="203.25" y="149.5" width="27.30" height="0.9" fill="#f2c5c5"/><rect x="203.25" y="150.0" width="27.30" height="2.4" fill="#eaa3a3"/><rect x="203.25" y="152.0" width="27.30" height="1.4" fill="#ecaeae"/><rect x="203.25" y="153.0" width="27.30" height="2.4" fill="#fcf2f2"/><rect x="203.25" y="155.0" width="27.30" height="1.4" fill="#fdf7f7"/><rect x="203.25" y="156.0" width="27.30" height="2.4" fill="#f0bdbd"/><rect x="203.25" y="158.0" width="27.30" height="2.4" fill="#f0bdbd"/><rect x="203.25" y="160.0" width="27.30" height="2.4" fill="#f0bcbc"/><rect x="203.25" y="162.0" width="27.30" height="2.4" fill="#eba7a7"/><rect x="203.25" y="164.0" width="27.30" height="2.4" fill="#eeb3b3"/><rect x="203.25" y="166.0" width="27.30" height="0.9" fill="#efbcbc"/><rect x="203.25" y="166.5" width="27.30" height="2.4" fill="#f0bcbc"/><rect x="203.25" y="168.5" width="27.30" height="2.4" fill="#efbaba"/><rect x="203.25" y="170.5" width="27.30" height="2.4" fill="#f3caca"/><rect x="203.25" y="172.5" width="27.30" height="1.9" fill="#f5d4d4"/><rect x="203.25" y="174.0" width="27.30" height="2.4" fill="#e17b7b"/><rect x="203.25" y="176.0" width="27.30" height="2.4" fill="#e17e7e"/><rect x="203.25" y="178.0" width="27.30" height="2.4" fill="#e07777"/><rect x="203.25" y="180.0" width="27.30" height="2.4" fill="#e17e7e"/><rect x="203.25" y="182.0" width="27.30" height="2.4" fill="#e07a7a"/><rect x="203.25" y="184.0" width="27.30" height="2.4" fill="#e07979"/><rect x="203.25" y="186.0" width="27.30" height="2.4" fill="#de7070"/><rect x="203.25" y="188.0" width="27.30" height="1.4" fill="#dc6666"/><rect x="203.25" y="189.0" width="27.30" height="2.4" fill="#e28080"/><rect x="203.25" y="191.0" width="27.30" height="2.4" fill="#e48a8a"/><rect x="203.25" y="193.0" width="27.30" height="2.4" fill="#e48a8a"/><rect x="203.25" y="195.0" width="27.30" height="2.4" fill="#e38787"/><rect x="203.25" y="197.0" width="27.30" height="2.4" fill="#e48b8b"/><rect x="203.25" y="199.0" width="27.30" height="2.4" fill="#e58d8d"/><rect x="203.25" y="201.0" width="27.30" height="2.4" fill="#e79595"/><rect x="203.25" y="203.0" width="27.30" height="2.4" fill="#e58e8e"/><rect x="203.25" y="205.0" width="27.30" height="2.4" fill="#e07979"/><rect x="203.25" y="207.0" width="27.30" height="2.4" fill="#e69393"/><rect x="203.25" y="209.0" width="27.30" height="2.4" fill="#e38888"/><rect x="203.25" y="211.0" width="27.30" height="2.4" fill="#e38484"/><rect x="203.25" y="213.0" width="27.30" height="2.4" fill="#e17d7d"/><rect x="203.25" y="215.0" width="27.30" height="2.4" fill="#e59090"/><rect x="203.25" y="217.0" width="27.30" height="2.4" fill="#e58f8f"/><rect x="203.25" y="219.0" width="27.30" height="2.4" fill="#edb0b0"/><rect x="203.25" y="221.0" width="27.30" height="2.4" fill="#ecabab"/><rect x="203.25" y="223.0" width="27.30" height="2.4" fill="#ebaaaa"/><rect x="203.25" y="225.0" width="27.30" height="2.4" fill="#de6f6f"/><rect x="203.25" y="227.0" width="27.30" height="2.4" fill="#df7272"/><rect x="203.25" y="229.0" width="27.30" height="2.4" fill="#de7171"/><rect x="203.25" y="231.0" width="27.30" height="2.4" fill="#e48b8b"/><rect x="203.25" y="233.0" width="27.30" height="2.4" fill="#e48b8b"/><rect x="203.25" y="235.0" width="27.30" height="2.4" fill="#e07676"/><rect x="203.25" y="237.0" width="27.30" height="2.4" fill="#de7171"/><rect x="203.25" y="239.0" width="27.30" height="2.4" fill="#e17e7e"/><rect x="203.25" y="241.0" width="27.30" height="2.4" fill="#e07a7a"/><rect x="203.25" y="243.0" width="27.30" height="2.4" fill="#e48c8c"/><rect x="203.25" y="245.0" width="27.30" height="2.4" fill="#e28080"/><rect x="203.25" y="247.0" width="27.30" height="2.4" fill="#de7070"/><rect x="203.25" y="249.0" width="27.30" height="1.4" fill="#df7373"/><rect x="203.25" y="250.0" width="27.30" height="2.4" fill="#efbaba"/><rect x="203.25" y="252.0" width="27.30" height="2.4" fill="#edb1b1"/><rect x="203.25" y="254.0" width="27.30" height="0.9" fill="#f3caca"/><rect x="203.25" y="254.5" width="27.30" height="2.4" fill="#fdf7f7"/><rect x="203.25" y="256.5" width="27.30" height="2.4" fill="#ffffff"/><rect x="203.25" y="258.5" width="27.30" height="2.4" fill="#fefbfb"/><rect x="203.25" y="260.5" width="27.30" height="2.4" fill="#f7f7fb"/><rect x="203.25" y="262.5" width="27.30" height="2.4" fill="#fcfcfe"/><rect x="203.25" y="264.5" width="27.30" height="2.4" fill="#fefafa"/><rect x="203.25" y="266.5" width="27.30" height="2.4" fill="#fbeeee"/><rect x="203.25" y="268.5" width="27.30" height="2.4" fill="#f6f6fb"/><rect x="203.25" y="270.5" width="27.30" height="2.4" fill="#fefbfb"/><rect x="203.25" y="272.5" width="27.30" height="2.4" fill="#fcf1f1"/><rect x="203.25" y="274.5" width="27.30" height="2.4" fill="#fbecec"/><rect x="203.25" y="276.5" width="27.30" height="2.4" fill="#f9f9fc"/><rect x="203.25" y="278.5" width="27.30" height="1.9" fill="#f7f7fb"/><rect x="203.25" y="280.0" width="27.30" height="2.4" fill="#eaa6a6"/><rect x="203.25" y="282.0" width="27.30" height="2.4" fill="#eaa5a5"/><rect x="203.25" y="284.0" width="27.30" height="2.4" fill="#eeb4b4"/><rect x="203.25" y="286.0" width="27.30" height="2.4" fill="#f1c1c1"/><rect x="203.25" y="288.0" width="27.30" height="1.4" fill="#eba6a6"/><rect x="203.25" y="289.0" width="27.30" height="2.4" fill="#f6d7d7"/><rect x="203.25" y="291.0" width="27.30" height="2.4" fill="#f2c7c7"/><rect x="203.25" y="293.0" width="27.30" height="2.4" fill="#f4d0d0"/><rect x="203.25" y="295.0" width="27.30" height="2.4" fill="#f3caca"/><rect x="203.25" y="297.0" width="27.30" height="2.4" fill="#f7dede"/><rect x="203.25" y="299.0" width="27.30" height="2.4" fill="#f3cbcb"/><rect x="203.25" y="301.0" width="27.30" height="2.4" fill="#f2c6c6"/><rect x="203.25" y="303.0" width="27.30" height="2.4" fill="#f1c1c1"/><rect x="203.25" y="305.0" width="27.30" height="2.4" fill="#eeb3b3"/><rect x="203.25" y="307.0" width="27.30" height="2.4" fill="#eeb4b4"/><rect x="203.25" y="309.0" width="27.30" height="2.4" fill="#f2c8c8"/><rect x="203.25" y="311.0" width="27.30" height="2.4" fill="#f2c6c6"/><rect x="203.25" y="313.0" width="27.30" height="2.4" fill="#f1c1c1"/><rect x="203.25" y="315.0" width="27.30" height="1.4" fill="#f0bdbd"/><rect x="203.25" y="316.0" width="27.30" height="2.4" fill="#7b7bbd"/><rect x="203.25" y="318.0" width="27.30" height="2.4" fill="#7272b9"/><rect x="203.25" y="320.0" width="27.30" height="2.4" fill="#7676bb"/><rect x="203.25" y="322.0" width="27.30" height="2.4" fill="#8888c3"/><rect x="203.25" y="324.0" width="27.30" height="1.4" fill="#8e8ec7"/><rect x="203.25" y="325.0" width="27.30" height="2.4" fill="#4949a4"/><rect x="203.25" y="327.0" width="27.30" height="2.4" fill="#5b5bae"/><rect x="203.25" y="329.0" width="27.30" height="2.4" fill="#6262b1"/><rect x="203.25" y="331.0" width="27.30" height="2.4" fill="#4949a4"/><rect x="203.25" y="333.0" width="27.30" height="1.4" fill="#6565b2"/><rect x="203.25" y="334.0" width="27.30" height="2.4" fill="#252593"/><rect x="203.25" y="336.0" width="27.30" height="2.4" fill="#37379b"/><rect x="203.25" y="338.0" width="27.30" height="0.9" fill="#35359a"/><rect x="203.25" y="338.5" width="27.30" height="2.4" fill="#2b2b95"/><rect x="203.25" y="340.5" width="27.30" height="2.4" fill="#1f1f90"/><rect x="203.25" y="342.5" width="27.30" height="2.4" fill="#232392"/><rect x="203.25" y="344.5" width="27.30" height="1.9" fill="#292995"/><rect x="203.25" y="346.0" width="27.30" height="2.4" fill="#6363b1"/><rect x="203.25" y="348.0" width="27.30" height="2.4" fill="#6c6cb6"/><rect x="203.25" y="350.0" width="27.30" height="0.4" fill="#6464b2"/><rect x="203.25" y="350.0" width="27.30" height="2.4" fill="#3b3b9d"/><rect x="203.25" y="352.0" width="27.30" height="2.4" fill="#4242a1"/><rect x="203.25" y="354.0" width="27.30" height="2.4" fill="#5656ab"/><rect x="203.25" y="356.0" width="27.30" height="2.4" fill="#5e5eaf"/><rect x="203.25" y="358.0" width="27.30" height="2.4" fill="#3b3b9d"/><rect x="203.25" y="360.0" width="27.30" height="2.4" fill="#4c4ca6"/><rect x="203.25" y="362.0" width="27.30" height="2.4" fill="#4c4ca6"/><rect x="203.25" y="364.0" width="27.30" height="1.4" fill="#5757ab"/><rect x="203.25" y="365.0" width="27.30" height="2.4" fill="#8e8ec7"/><rect x="203.25" y="367.0" width="27.30" height="2.4" fill="#9999cc"/><rect x="203.25" y="369.0" width="27.30" height="2.4" fill="#9494c9"/><rect x="203.25" y="371.0" width="27.30" height="2.4" fill="#a5a5d2"/><rect x="203.25" y="373.0" width="27.30" height="2.4" fill="#9090c8"/><rect x="203.25" y="375.0" width="27.30" height="2.4" fill="#a9a9d4"/><rect x="203.25" y="377.0" width="27.30" height="2.4" fill="#9191c8"/><rect x="203.25" y="379.0" width="27.30" height="2.4" fill="#8f8fc7"/><rect x="203.25" y="381.0" width="27.30" height="2.4" fill="#a0a0d0"/><rect x="203.25" y="383.0" width="27.30" height="2.4" fill="#9999cc"/><rect x="203.25" y="385.0" width="27.30" height="2.4" fill="#8b8bc5"/><rect x="203.25" y="387.0" width="27.30" height="2.4" fill="#9e9ecf"/><rect x="203.25" y="389.0" width="27.30" height="1.9" fill="#8a8ac5"/><rect x="203.25" y="390.5" width="27.30" height="2.4" fill="#7070b8"/><rect x="203.25" y="392.5" width="27.30" height="2.4" fill="#6d6db6"/><rect x="203.25" y="394.5" width="27.30" height="2.4" fill="#7070b8"/><rect x="203.25" y="396.5" width="27.30" height="2.4" fill="#b7b7db"/><rect x="203.25" y="398.5" width="27.30" height="2.4" fill="#adadd6"/><rect x="203.25" y="400.5" width="27.30" height="2.4" fill="#afafd7"/><rect x="203.25" y="402.5" width="27.30" height="2.4" fill="#afafd7"/><rect x="203.25" y="404.5" width="27.30" height="2.4" fill="#c0c0e0"/><rect x="203.25" y="406.5" width="27.30" height="0.9" fill="#a4a4d2"/><rect x="203.25" y="407.0" width="27.30" height="2.4" fill="#7474ba"/><rect x="203.25" y="409.0" width="27.30" height="2.4" fill="#5555aa"/><rect x="203.25" y="411.0" width="27.30" height="2.4" fill="#5c5cae"/><rect x="203.25" y="413.0" width="27.30" height="2.4" fill="#5e5eaf"/><rect x="203.25" y="415.0" width="27.30" height="2.4" fill="#7474ba"/><rect x="203.25" y="417.0" width="27.30" height="2.4" fill="#6666b3"/><rect x="203.25" y="419.0" width="27.30" height="2.4" fill="#6262b1"/><rect x="203.25" y="421.0" width="27.30" height="2.4" fill="#7474ba"/><rect x="203.25" y="423.0" width="27.30" height="2.4" fill="#5c5cae"/><rect x="203.25" y="425.0" width="27.30" height="2.4" fill="#6565b2"/><rect x="203.25" y="427.0" width="27.30" height="2.4" fill="#6767b3"/><rect x="203.25" y="429.0" width="27.30" height="2.4" fill="#6f6fb7"/><rect x="203.25" y="431.0" width="27.30" height="2.4" fill="#9595ca"/><rect x="203.25" y="433.0" width="27.30" height="2.4" fill="#9191c8"/><rect x="203.25" y="435.0" width="27.30" height="2.4" fill="#8787c3"/><rect x="203.25" y="437.0" width="27.30" height="2.4" fill="#8686c3"/><rect x="203.25" y="439.0" width="27.30" height="2.4" fill="#8080c0"/><rect x="203.25" y="441.0" width="27.30" height="2.4" fill="#9898cc"/><rect x="203.25" y="443.0" width="27.30" height="2.4" fill="#9292c9"/><rect x="203.25" y="445.0" width="27.30" height="2.4" fill="#9595ca"/><rect x="203.25" y="447.0" width="27.30" height="2.4" fill="#8080c0"/><rect x="203.25" y="449.0" width="27.30" height="1.4" fill="#8a8ac5"/><rect x="203.25" y="450.0" width="27.30" height="2.4" fill="#a0a0d0"/><rect x="203.25" y="452.0" width="27.30" height="2.4" fill="#9c9cce"/><rect x="203.25" y="454.0" width="27.30" height="2.4" fill="#9f9fcf"/><rect x="203.25" y="456.0" width="27.30" height="2.4" fill="#8f8fc7"/><rect x="203.25" y="458.0" width="27.30" height="2.4" fill="#9f9fcf"/><rect x="203.25" y="460.0" width="27.30" height="2.4" fill="#9797cb"/><rect x="203.25" y="462.0" width="27.30" height="2.4" fill="#a2a2d1"/><rect x="203.25" y="464.0" width="27.30" height="2.4" fill="#8b8bc5"/><rect x="203.25" y="466.0" width="27.30" height="2.4" fill="#8e8ec7"/><rect x="203.25" y="468.0" width="27.30" height="2.4" fill="#8888c4"/><rect x="203.25" y="470.0" width="27.30" height="2.1" fill="#a3a3d1"/><rect x="203.25" y="471.7" width="27.30" height="2.4" fill="#8e8ec7"/><rect x="203.25" y="473.7" width="27.30" height="2.4" fill="#8585c2"/><rect x="203.25" y="475.7" width="27.30" height="2.4" fill="#7b7bbd"/><rect x="203.25" y="477.7" width="27.30" height="2.4" fill="#8b8bc5"/><rect x="203.25" y="479.7" width="27.30" height="2.4" fill="#8a8ac5"/><rect x="203.25" y="481.7" width="27.30" height="2.4" fill="#8282c1"/><rect x="203.25" y="483.7" width="27.30" height="2.4" fill="#7777bb"/><rect x="203.25" y="485.7" width="27.30" height="0.6" fill="#7878bc"/><rect x="203.25" y="486.0" width="27.30" height="2.4" fill="#4a4aa5"/><rect x="203.25" y="488.0" width="27.30" height="2.4" fill="#4646a3"/><rect x="203.25" y="490.0" width="27.30" height="2.4" fill="#4a4aa5"/><rect x="203.25" y="492.0" width="27.30" height="2.4" fill="#5252a9"/><rect x="203.25" y="494.0" width="27.30" height="2.4" fill="#5c5cae"/><rect x="203.25" y="496.0" width="27.30" height="2.4" fill="#3d3d9e"/><rect x="203.25" y="498.0" width="27.30" height="2.4" fill="#7575ba"/><rect x="203.25" y="500.0" width="27.30" height="2.4" fill="#6262b1"/><rect x="203.25" y="502.0" width="27.30" height="2.4" fill="#6565b2"/><rect x="203.25" y="504.0" width="27.30" height="2.4" fill="#7e7ebf"/><rect x="203.25" y="506.0" width="27.30" height="2.4" fill="#7575ba"/><rect x="203.25" y="508.0" width="27.30" height="2.4" fill="#8282c1"/><rect x="203.25" y="510.0" width="27.30" height="2.4" fill="#7171b8"/><rect x="203.25" y="512.0" width="27.30" height="1.4" fill="#6161b1"/><rect x="203.25" y="513.0" width="27.30" height="2.4" fill="#bbbbdd"/><rect x="203.25" y="515.0" width="27.30" height="1.4" fill="#c3c3e1"/><rect x="203.25" y="516.0" width="27.30" height="2.4" fill="#7676bb"/><rect x="203.25" y="518.0" width="27.30" height="2.4" fill="#7777bb"/><rect x="203.25" y="520.0" width="27.30" height="2.4" fill="#6565b2"/><rect x="203.25" y="522.0" width="27.30" height="2.4" fill="#6363b1"/><rect x="203.25" y="524.0" width="27.30" height="2.4" fill="#5858ac"/><rect x="203.25" y="526.0" width="27.30" height="2.4" fill="#6b6bb5"/><rect x="203.25" y="528.0" width="27.30" height="2.4" fill="#5c5cae"/><rect x="203.25" y="530.0" width="27.30" height="1.4" fill="#5a5aad"/><rect x="203.25" y="531.0" width="27.30" height="2.4" fill="#3b3b9d"/><rect x="203.25" y="533.0" width="27.30" height="2.4" fill="#3b3b9d"/><rect x="203.25" y="535.0" width="27.30" height="2.4" fill="#5353a9"/><rect x="203.25" y="537.0" width="27.30" height="2.4" fill="#3f3f9f"/><rect x="203.25" y="539.0" width="27.30" height="2.4" fill="#5d5dae"/><rect x="203.25" y="541.0" width="27.30" height="2.4" fill="#3e3e9f"/><rect x="203.25" y="543.0" width="27.30" height="2.4" fill="#5a5aad"/><rect x="203.25" y="545.0" width="27.30" height="2.4" fill="#3f3fa0"/><rect x="203.25" y="547.0" width="27.30" height="2.4" fill="#3b3b9e"/><rect x="203.25" y="549.0" width="27.30" height="1.4" fill="#5454aa"/><rect x="203.25" y="550.0" width="27.30" height="2.4" fill="#8080c0"/><rect x="203.25" y="552.0" width="27.30" height="2.4" fill="#7474ba"/><rect x="203.25" y="554.0" width="27.30" height="2.4" fill="#7d7dbe"/><rect x="203.25" y="556.0" width="27.30" height="2.4" fill="#8e8ec7"/><rect x="203.25" y="558.0" width="27.30" height="1.4" fill="#7575ba"/><rect x="203.25" y="559.0" width="27.30" height="2.4" fill="#6969b4"/><rect x="203.25" y="561.0" width="27.30" height="2.4" fill="#5959ac"/><rect x="203.25" y="563.0" width="27.30" height="2.4" fill="#5b5bad"/><rect x="203.25" y="565.0" width="27.30" height="2.4" fill="#7070b8"/><rect x="203.25" y="567.0" width="27.30" height="2.4" fill="#6e6eb7"/><rect x="203.25" y="569.0" width="27.30" height="2.4" fill="#5b5bad"/><rect x="203.25" y="571.0" width="27.30" height="2.4" fill="#5757ab"/><rect x="203.25" y="573.0" width="27.30" height="2.4" fill="#5757ab"/><rect x="203.25" y="575.0" width="27.30" height="2.4" fill="#6a6ab5"/><rect x="203.25" y="577.0" width="27.30" height="2.4" fill="#9999cc"/><rect x="203.25" y="579.0" width="27.30" height="2.4" fill="#9191c8"/><rect x="203.25" y="581.0" width="27.30" height="2.4" fill="#8f8fc7"/><rect x="203.25" y="583.0" width="27.30" height="2.4" fill="#9d9dce"/><rect x="203.25" y="585.0" width="27.30" height="1.4" fill="#a0a0d0"/><rect x="203.25" y="586.0" width="27.30" height="2.4" fill="#6464b2"/><rect x="203.25" y="588.0" width="27.30" height="2.4" fill="#5c5cae"/><rect x="203.25" y="590.0" width="27.30" height="2.4" fill="#4f4fa7"/><rect x="203.25" y="592.0" width="27.30" height="2.4" fill="#4a4aa5"/><rect x="203.25" y="594.0" width="27.30" height="2.4" fill="#6262b1"/><rect x="203.25" y="596.0" width="27.30" height="0.9" fill="#5656ab"/><rect x="203.25" y="596.5" width="27.30" height="2.4" fill="#9494ca"/><rect x="203.25" y="598.5" width="27.30" height="2.4" fill="#7c7cbe"/><rect x="203.25" y="600.5" width="27.30" height="2.4" fill="#9797cb"/><rect x="203.25" y="602.5" width="27.30" height="2.4" fill="#202090"/><rect x="203.25" y="604.5" width="27.30" height="2.4" fill="#323299"/><rect x="203.25" y="606.5" width="27.30" height="2.4" fill="#33339a"/><rect x="203.25" y="608.5" width="27.30" height="1.1" fill="#262693"/><rect x="203.25" y="609.2" width="27.30" height="2.4" fill="#6e6eb7"/><rect x="203.25" y="611.2" width="27.30" height="2.4" fill="#8e8ec7"/><rect x="203.25" y="613.2" width="27.30" height="2.4" fill="#7f7fbf"/><rect x="203.25" y="615.2" width="27.30" height="2.4" fill="#8d8dc6"/><rect x="203.25" y="617.2" width="27.30" height="2.4" fill="#7777bb"/><rect x="203.25" y="619.2" width="27.30" height="2.4" fill="#7474ba"/><rect x="203.25" y="621.2" width="27.30" height="1.1" fill="#8b8bc5"/><rect x="203.25" y="622.0" width="27.30" height="2.4" fill="#7b7bbd"/><rect x="203.25" y="624.0" width="27.30" height="2.4" fill="#7373ba"/><rect x="203.25" y="626.0" width="27.30" height="2.4" fill="#7b7bbd"/><rect x="203.25" y="628.0" width="27.30" height="2.4" fill="#8383c1"/><rect x="203.25" y="630.0" width="27.30" height="2.4" fill="#6e6eb7"/><rect x="203.25" y="632.0" width="27.30" height="2.4" fill="#8080c0"/><rect x="203.25" y="634.0" width="27.30" height="2.4" fill="#7e7ebf"/><rect x="203.25" y="636.0" width="27.30" height="2.4" fill="#8080c0"/><rect x="203.25" y="638.0" width="27.30" height="2.4" fill="#7272b9"/><rect x="203.25" y="640.0" width="27.30" height="2.4" fill="#8787c3"/><rect x="203.25" y="642.0" width="27.30" height="2.4" fill="#8b8bc5"/><rect x="203.25" y="644.0" width="27.30" height="1.7" fill="#8d8dc6"/>
<path d="M64.7 55.2V56.5M64.7 55.2H66.0M64.7 56.5H66.0M46.0 53.4V55.8M46.0 53.4H66.0M46.0 55.8H64.7M65.0 57.3V58.3M65.0 57.3H66.0M65.0 58.3H66.0M64.3 61.2V62.4M64.3 61.2H66.0M64.3 62.4H66.0M63.9 59.8V61.8M63.9 59.8H66.0M63.9 61.8H64.3M59.4 57.8V60.8M59.4 57.8H65.0M59.4 60.8H63.9M65.1 63.5V64.8M65.1 63.5H66.0M65.1 64.8H66.0M57.5 59.3V64.1M57.5 59.3H59.4M57.5 64.1H65.1M65.3 66.4V67.7M65.3 66.4H66.0M65.3 67.7H66.0M65.2 69.2V70.5M65.2 69.2H66.0M65.2 70.5H66.0M64.3 71.9V73.4M64.3 71.9H66.0M64.3 73.4H66.0M58.7 69.9V72.7M58.7 69.9H65.2M58.7 72.7H64.3M55.6 67.1V71.3M55.6 67.1H65.3M55.6 71.3H58.7M53.7 61.7V69.2M53.7 61.7H57.5M53.7 69.2H55.6M63.9 74.5V75.7M63.9 74.5H66.0M63.9 75.7H66.0M64.4 75.1V76.9M64.4 75.1H63.9M64.4 76.9H66.0M57.1 76.0V78.4M57.1 76.0H64.4M57.1 78.4H66.0M64.7 80.3V81.6M64.7 80.3H66.0M64.7 81.6H66.0M53.8 77.2V81.0M53.8 77.2H57.1M53.8 81.0H64.7M48.5 65.4V79.1M48.5 65.4H53.7M48.5 79.1H53.8M64.7 82.7V84.4M64.7 82.7H66.0M64.7 84.4H66.0M64.5 85.7V86.9M64.5 85.7H66.0M64.5 86.9H66.0M65.5 88.5V89.8M65.5 88.5H66.0M65.5 89.8H66.0M61.6 86.3V89.2M61.6 86.3H64.5M61.6 89.2H65.5M59.3 83.6V87.7M59.3 83.6H64.7M59.3 87.7H61.6M65.0 90.8V92.3M65.0 90.8H66.0M65.0 92.3H66.0M64.1 93.8V95.0M64.1 93.8H66.0M64.1 95.0H66.0M62.0 91.6V94.4M62.0 91.6H65.0M62.0 94.4H64.1M65.4 96.2V97.5M65.4 96.2H66.0M65.4 97.5H66.0M59.2 93.0V96.9M59.2 93.0H62.0M59.2 96.9H65.4M54.1 85.6V94.9M54.1 85.6H59.3M54.1 94.9H59.2M63.6 98.7V99.8M63.6 98.7H66.0M63.6 99.8H66.0M55.1 99.3V101.4M55.1 99.3H63.6M55.1 101.4H66.0M65.3 102.8V103.8M65.3 102.8H66.0M65.3 103.8H66.0M64.4 106.5V107.6M64.4 106.5H66.0M64.4 107.6H66.0M65.2 105.1V107.1M65.2 105.1H66.0M65.2 107.1H64.4M52.4 103.3V106.1M52.4 103.3H65.3M52.4 106.1H65.2M49.3 100.4V104.7M49.3 100.4H55.1M49.3 104.7H52.4M46.0 90.3V102.5M46.0 90.3H54.1M46.0 102.5H49.3M43.5 72.3V96.4M43.5 72.3H48.5M43.5 96.4H46.0M36.5 54.6V84.3M36.5 54.6H46.0M36.5 84.3H43.5M64.4 108.9V110.6M64.4 108.9H66.0M64.4 110.6H66.0M64.7 113.6V114.7M64.7 113.6H66.0M64.7 114.7H66.0M64.3 112.3V114.2M64.3 112.3H66.0M64.3 114.2H64.7M57.3 109.7V113.2M57.3 109.7H64.4M57.3 113.2H64.3M65.0 116.2V118.0M65.0 116.2H66.0M65.0 118.0H66.0M64.4 119.4V120.4M64.4 119.4H66.0M64.4 120.4H66.0M59.0 117.1V119.9M59.0 117.1H65.0M59.0 119.9H64.4M55.0 111.5V118.5M55.0 111.5H57.3M55.0 118.5H59.0M64.6 122.7V123.8M64.6 122.7H66.0M64.6 123.8H66.0M63.8 121.5V123.3M63.8 121.5H66.0M63.8 123.3H64.6M64.8 124.8V125.8M64.8 124.8H66.0M64.8 125.8H66.0M64.1 126.9V128.2M64.1 126.9H66.0M64.1 128.2H66.0M59.0 125.3V127.6M59.0 125.3H64.8M59.0 127.6H64.1M65.2 129.5V130.6M65.2 129.5H66.0M65.2 130.6H66.0M54.9 126.4V130.0M54.9 126.4H59.0M54.9 130.0H65.2M50.5 122.4V128.2M50.5 122.4H63.8M50.5 128.2H54.9M64.3 131.8V133.3M64.3 131.8H66.0M64.3 133.3H66.0M61.0 132.5V135.0M61.0 132.5H64.3M61.0 135.0H66.0M64.4 138.2V139.4M64.4 138.2H66.0M64.4 139.4H66.0M61.8 136.7V138.8M61.8 136.7H66.0M61.8 138.8H64.4M59.2 133.7V137.7M59.2 133.7H61.0M59.2 137.7H61.8M65.2 142.8V144.4M65.2 142.8H66.0M65.2 144.4H66.0M62.2 141.0V143.6M62.2 141.0H66.0M62.2 143.6H65.2M64.6 146.1V147.5M64.6 146.1H66.0M64.6 147.5H66.0M60.5 142.3V146.8M60.5 142.3H62.2M60.5 146.8H64.6M56.2 135.7V144.6M56.2 135.7H59.2M56.2 144.6H60.5M63.7 148.5V149.8M63.7 148.5H66.0M63.7 149.8H66.0M64.0 151.5V152.5M64.0 151.5H66.0M64.0 152.5H66.0M65.5 152.0V153.4M65.5 152.0H64.0M65.5 153.4H66.0M62.0 149.2V152.7M62.0 149.2H63.7M62.0 152.7H65.5M65.1 154.9V156.5M65.1 154.9H66.0M65.1 156.5H66.0M58.9 150.9V155.7M58.9 150.9H62.0M58.9 155.7H65.1M54.5 140.2V153.3M54.5 140.2H56.2M54.5 153.3H58.9M64.7 157.9V159.2M64.7 157.9H66.0M64.7 159.2H66.0M64.4 160.6V162.2M64.4 160.6H66.0M64.4 162.2H66.0M57.6 158.6V161.4M57.6 158.6H64.7M57.6 161.4H64.4M64.8 164.0V165.5M64.8 164.0H66.0M64.8 165.5H66.0M56.1 164.7V166.7M56.1 164.7H64.8M56.1 166.7H66.0M53.9 160.0V165.7M53.9 160.0H57.6M53.9 165.7H56.1M63.7 168.0V169.0M63.7 168.0H66.0M63.7 169.0H66.0M64.9 171.8V172.8M64.9 171.8H66.0M64.9 172.8H66.0M64.1 170.3V172.3M64.1 170.3H66.0M64.1 172.3H64.9M60.5 168.5V171.3M60.5 168.5H63.7M60.5 171.3H64.1M64.5 173.8V175.2M64.5 173.8H66.0M64.5 175.2H66.0M56.8 169.9V174.5M56.8 169.9H60.5M56.8 174.5H64.5M49.8 162.8V172.2M49.8 162.8H53.9M49.8 172.2H56.8M46.0 146.7V167.5M46.0 146.7H54.5M46.0 167.5H49.8M41.0 125.3V157.1M41.0 125.3H50.5M41.0 157.1H46.0M35.6 115.0V141.2M35.6 115.0H55.0M35.6 141.2H41.0M65.5 178.2V179.4M65.5 178.2H66.0M65.5 179.4H66.0M58.0 176.9V178.8M58.0 176.9H66.0M58.0 178.8H65.5M65.0 180.7V182.0M65.0 180.7H66.0M65.0 182.0H66.0M64.2 183.2V184.4M64.2 183.2H66.0M64.2 184.4H66.0M60.6 181.4V183.8M60.6 181.4H65.0M60.6 183.8H64.2M65.3 185.4V186.6M65.3 185.4H66.0M65.3 186.6H66.0M64.5 186.0V188.0M64.5 186.0H65.3M64.5 188.0H66.0M59.2 182.6V187.0M59.2 182.6H60.6M59.2 187.0H64.5M55.0 177.8V184.8M55.0 177.8H58.0M55.0 184.8H59.2M64.0 189.6V190.9M64.0 189.6H66.0M64.0 190.9H66.0M65.3 192.2V193.4M65.3 192.2H66.0M65.3 193.4H66.0M63.7 194.8V196.6M63.7 194.8H66.0M63.7 196.6H66.0M60.0 192.8V195.7M60.0 192.8H65.3M60.0 195.7H63.7M58.0 190.3V194.3M58.0 190.3H64.0M58.0 194.3H60.0M65.0 198.4V199.4M65.0 198.4H66.0M65.0 199.4H66.0M63.6 198.9V200.7M63.6 198.9H65.0M63.6 200.7H66.0M63.9 202.2V203.3M63.9 202.2H66.0M63.9 203.3H66.0M64.6 202.7V204.4M64.6 202.7H63.9M64.6 204.4H66.0M55.0 199.8V203.6M55.0 199.8H63.6M55.0 203.6H64.6M52.8 192.3V201.7M52.8 192.3H58.0M52.8 201.7H55.0M46.0 181.3V197.0M46.0 181.3H55.0M46.0 197.0H52.8M64.9 207.5V209.0M64.9 207.5H66.0M64.9 209.0H66.0M58.8 205.9V208.2M58.8 205.9H66.0M58.8 208.2H64.9M64.8 211.2V212.2M64.8 211.2H66.0M64.8 212.2H66.0M64.7 210.2V211.7M64.7 210.2H66.0M64.7 211.7H64.8M64.2 214.9V216.0M64.2 214.9H66.0M64.2 216.0H66.0M65.4 213.6V215.4M65.4 213.6H66.0M65.4 215.4H64.2M59.3 210.9V214.5M59.3 210.9H64.7M59.3 214.5H65.4M57.0 207.0V212.7M57.0 207.0H58.8M57.0 212.7H59.3M65.0 217.1V218.1M65.0 217.1H66.0M65.0 218.1H66.0M65.2 219.6V220.9M65.2 219.6H66.0M65.2 220.9H66.0M61.3 220.2V222.2M61.3 220.2H65.2M61.3 222.2H66.0M58.2 217.6V221.2M58.2 217.6H65.0M58.2 221.2H61.3M53.2 209.9V219.4M53.2 209.9H57.0M53.2 219.4H58.2M65.2 225.7V227.2M65.2 225.7H66.0M65.2 227.2H66.0M59.0 223.9V226.5M59.0 223.9H66.0M59.0 226.5H65.2M65.1 228.2V229.3M65.1 228.2H66.0M65.1 229.3H66.0M59.6 228.8V231.0M59.6 228.8H65.1M59.6 231.0H66.0M64.7 234.1V235.1M64.7 234.1H66.0M64.7 235.1H66.0M65.0 232.7V234.6M65.0 232.7H66.0M65.0 234.6H64.7M57.4 229.9V233.7M57.4 229.9H59.6M57.4 233.7H65.0M53.6 225.2V231.8M53.6 225.2H59.0M53.6 231.8H57.4M49.7 214.6V228.5M49.7 214.6H53.2M49.7 228.5H53.6M64.8 237.7V239.1M64.8 237.7H66.0M64.8 239.1H66.0M56.4 236.3V238.4M56.4 236.3H66.0M56.4 238.4H64.8M64.2 240.3V241.5M64.2 240.3H66.0M64.2 241.5H66.0M53.3 237.4V240.9M53.3 237.4H56.4M53.3 240.9H64.2M64.0 243.1V244.7M64.0 243.1H66.0M64.0 244.7H66.0M56.6 243.9V246.0M56.6 243.9H64.0M56.6 246.0H66.0M64.2 248.3V249.4M64.2 248.3H66.0M64.2 249.4H66.0M64.7 247.3V248.8M64.7 247.3H66.0M64.7 248.8H64.2M53.7 244.9V248.0M53.7 244.9H56.6M53.7 248.0H64.7M50.6 239.1V246.5M50.6 239.1H53.3M50.6 246.5H53.7M45.0 221.6V242.8M45.0 221.6H49.7M45.0 242.8H50.6M40.8 189.1V232.2M40.8 189.1H46.0M40.8 232.2H45.0M64.0 252.5V254.0M64.0 252.5H66.0M64.0 254.0H66.0M56.3 250.8V253.2M56.3 250.8H66.0M56.3 253.2H64.0M65.1 255.1V256.1M65.1 255.1H66.0M65.1 256.1H66.0M65.1 257.3V258.3M65.1 257.3H66.0M65.1 258.3H66.0M64.9 257.8V259.6M64.9 257.8H65.1M64.9 259.6H66.0M54.3 255.6V258.7M54.3 255.6H65.1M54.3 258.7H64.9M51.3 252.0V257.2M51.3 252.0H56.3M51.3 257.2H54.3M63.9 262.0V263.3M63.9 262.0H66.0M63.9 263.3H66.0M64.1 261.0V262.7M64.1 261.0H66.0M64.1 262.7H63.9M65.4 264.4V265.5M65.4 264.4H66.0M65.4 265.5H66.0M64.8 264.9V267.1M64.8 264.9H65.4M64.8 267.1H66.0M54.7 261.8V266.0M54.7 261.8H64.1M54.7 266.0H64.8M47.0 254.6V263.9M47.0 254.6H51.3M47.0 263.9H54.7M64.6 268.7V270.0M64.6 268.7H66.0M64.6 270.0H66.0M65.4 271.2V272.2M65.4 271.2H66.0M65.4 272.2H66.0M62.8 269.4V271.7M62.8 269.4H64.6M62.8 271.7H65.4M63.9 274.1V275.2M63.9 274.1H66.0M63.9 275.2H66.0M63.8 273.1V274.7M63.8 273.1H66.0M63.8 274.7H63.9M60.9 270.5V273.9M60.9 270.5H62.8M60.9 273.9H63.8M64.4 276.3V277.3M64.4 276.3H66.0M64.4 277.3H66.0M63.6 276.8V278.8M63.6 276.8H64.4M63.6 278.8H66.0M59.0 272.2V277.8M59.0 272.2H60.9M59.0 277.8H63.6M64.9 280.4V281.7M64.9 280.4H66.0M64.9 281.7H66.0M64.6 284.8V286.1M64.6 284.8H66.0M64.6 286.1H66.0M59.9 283.1V285.4M59.9 283.1H66.0M59.9 285.4H64.6M58.5 281.1V284.3M58.5 281.1H64.9M58.5 284.3H59.9M56.8 275.0V282.7M56.8 275.0H59.0M56.8 282.7H58.5M65.2 287.1V288.2M65.2 287.1H66.0M65.2 288.2H66.0M63.9 287.7V289.5M63.9 287.7H65.2M63.9 289.5H66.0M65.3 291.0V292.6M65.3 291.0H66.0M65.3 292.6H66.0M61.7 291.8V294.4M61.7 291.8H65.3M61.7 294.4H66.0M59.7 288.6V293.1M59.7 288.6H63.9M59.7 293.1H61.7M64.1 297.9V299.2M64.1 297.9H66.0M64.1 299.2H66.0M60.7 296.3V298.6M60.7 296.3H66.0M60.7 298.6H64.1M58.2 290.8V297.4M58.2 290.8H59.7M58.2 297.4H60.7M53.5 278.8V294.1M53.5 278.8H56.8M53.5 294.1H58.2M65.5 300.7V302.0M65.5 300.7H66.0M65.5 302.0H66.0M64.4 303.4V305.2M64.4 303.4H66.0M64.4 305.2H66.0M59.3 304.3V307.0M59.3 304.3H64.4M59.3 307.0H66.0M53.8 301.4V305.7M53.8 301.4H65.5M53.8 305.7H59.3M64.2 308.4V309.6M64.2 308.4H66.0M64.2 309.6H66.0M54.8 309.0V311.1M54.8 309.0H64.2M54.8 311.1H66.0M64.0 314.3V315.5M64.0 314.3H66.0M64.0 315.5H66.0M63.7 312.7V314.9M63.7 312.7H66.0M63.7 314.9H64.0M52.8 310.1V313.8M52.8 310.1H54.8M52.8 313.8H63.7M49.5 303.5V311.9M49.5 303.5H53.8M49.5 311.9H52.8M46.0 286.5V307.7M46.0 286.5H53.5M46.0 307.7H49.5M41.7 259.2V297.1M41.7 259.2H47.0M41.7 297.1H46.0M33.7 210.7V278.2M33.7 210.7H40.8M33.7 278.2H41.7M24.9 128.1V244.4M24.9 128.1H35.6M24.9 244.4H33.7M18.2 69.5V186.3M18.2 69.5H36.5M18.2 186.3H24.9M63.8 317.9V318.9M63.8 317.9H66.0M63.8 318.9H66.0M63.8 316.6V318.4M63.8 316.6H66.0M63.8 318.4H63.8M63.6 320.2V321.5M63.6 320.2H66.0M63.6 321.5H66.0M51.3 317.5V320.8M51.3 317.5H63.8M51.3 320.8H63.6M65.2 322.6V323.6M65.2 322.6H66.0M65.2 323.6H66.0M64.9 324.5V325.5M64.9 324.5H66.0M64.9 325.5H66.0M61.3 323.1V325.0M61.3 323.1H65.2M61.3 325.0H64.9M64.5 326.6V327.6M64.5 326.6H66.0M64.5 327.6H66.0M57.8 324.1V327.1M57.8 324.1H61.3M57.8 327.1H64.5M63.8 330.8V331.8M63.8 330.8H66.0M63.8 331.8H66.0M65.5 331.3V332.9M65.5 331.3H63.8M65.5 332.9H66.0M57.3 329.3V332.1M57.3 329.3H66.0M57.3 332.1H65.5M52.4 325.6V330.7M52.4 325.6H57.8M52.4 330.7H57.3M65.2 334.2V335.6M65.2 334.2H66.0M65.2 335.6H66.0M60.8 334.9V337.1M60.8 334.9H65.2M60.8 337.1H66.0M64.9 340.2V341.7M64.9 340.2H66.0M64.9 341.7H66.0M61.2 338.7V341.0M61.2 338.7H66.0M61.2 341.0H64.9M58.0 336.0V339.8M58.0 336.0H60.8M58.0 339.8H61.2M63.9 343.3V344.9M63.9 343.3H66.0M63.9 344.9H66.0M65.4 346.2V347.5M65.4 346.2H66.0M65.4 347.5H66.0M61.4 344.1V346.8M61.4 344.1H63.9M61.4 346.8H65.4M63.6 348.9V350.5M63.6 348.9H66.0M63.6 350.5H66.0M57.7 345.5V349.7M57.7 345.5H61.4M57.7 349.7H63.6M54.9 337.9V347.6M54.9 337.9H58.0M54.9 347.6H57.7M49.7 328.2V342.7M49.7 328.2H52.4M49.7 342.7H54.9M64.4 351.8V353.1M64.4 351.8H66.0M64.4 353.1H66.0M64.4 354.8V356.3M64.4 354.8H66.0M64.4 356.3H66.0M60.1 352.4V355.5M60.1 352.4H64.4M60.1 355.5H64.4M65.0 357.5V358.9M65.0 357.5H66.0M65.0 358.9H66.0M60.6 358.2V360.4M60.6 358.2H65.0M60.6 360.4H66.0M58.0 354.0V359.3M58.0 354.0H60.1M58.0 359.3H60.6M64.3 363.0V364.3M64.3 363.0H66.0M64.3 364.3H66.0M65.0 361.9V363.6M65.0 361.9H66.0M65.0 363.6H64.3M64.4 366.0V367.8M64.4 366.0H66.0M64.4 367.8H66.0M56.8 362.7V366.9M56.8 362.7H65.0M56.8 366.9H64.4M54.9 356.6V364.8M54.9 356.6H58.0M54.9 364.8H56.8M64.7 369.5V370.7M64.7 369.5H66.0M64.7 370.7H66.0M64.1 370.1V371.8M64.1 370.1H64.7M64.1 371.8H66.0M59.5 371.0V373.3M59.5 371.0H64.1M59.5 373.3H66.0M65.4 376.0V377.2M65.4 376.0H66.0M65.4 377.2H66.0M65.3 374.8V376.6M65.3 374.8H66.0M65.3 376.6H65.4M55.5 372.1V375.7M55.5 372.1H59.5M55.5 375.7H65.3M52.8 360.7V373.9M52.8 360.7H54.9M52.8 373.9H55.5M44.0 335.4V367.3M44.0 335.4H49.7M44.0 367.3H52.8M64.8 378.9V380.5M64.8 378.9H66.0M64.8 380.5H66.0M64.0 381.7V382.8M64.0 381.7H66.0M64.0 382.8H66.0M61.5 379.7V382.3M61.5 379.7H64.8M61.5 382.3H64.0M65.2 384.2V385.5M65.2 384.2H66.0M65.2 385.5H66.0M58.3 381.0V384.9M58.3 381.0H61.5M58.3 384.9H65.2M64.4 386.5V387.6M64.4 386.5H66.0M64.4 387.6H66.0M64.6 390.9V392.3M64.6 390.9H66.0M64.6 392.3H66.0M60.6 389.2V391.6M60.6 389.2H66.0M60.6 391.6H64.6M57.1 387.0V390.4M57.1 387.0H64.4M57.1 390.4H60.6M52.9 382.9V388.7M52.9 382.9H58.3M52.9 388.7H57.1M64.9 394.5V395.6M64.9 394.5H66.0M64.9 395.6H66.0M65.3 393.3V395.0M65.3 393.3H66.0M65.3 395.0H64.9M63.6 396.6V398.1M63.6 396.6H66.0M63.6 398.1H66.0M61.6 397.4V399.8M61.6 397.4H63.6M61.6 399.8H66.0M64.1 401.6V402.8M64.1 401.6H66.0M64.1 402.8H66.0M59.6 398.6V402.2M59.6 398.6H61.6M59.6 402.2H64.1M55.5 394.2V400.4M55.5 394.2H65.3M55.5 400.4H59.6M47.9 385.8V397.3M47.9 385.8H52.9M47.9 397.3H55.5M64.7 403.9V405.1M64.7 403.9H66.0M64.7 405.1H66.0M64.5 404.5V406.3M64.5 404.5H64.7M64.5 406.3H66.0M64.3 409.1V410.5M64.3 409.1H66.0M64.3 410.5H66.0M57.5 407.8V409.8M57.5 407.8H66.0M57.5 409.8H64.3M55.4 405.4V408.8M55.4 405.4H64.5M55.4 408.8H57.5M65.5 412.0V413.5M65.5 412.0H66.0M65.5 413.5H66.0M65.4 415.0V416.3M65.4 415.0H66.0M65.4 416.3H66.0M64.3 415.7V417.4M64.3 415.7H65.4M64.3 417.4H66.0M58.4 412.7V416.6M58.4 412.7H65.5M58.4 416.6H64.3M65.0 418.9V420.7M65.0 418.9H66.0M65.0 420.7H66.0M64.0 423.4V424.6M64.0 423.4H66.0M64.0 424.6H66.0M64.4 422.1V424.0M64.4 422.1H66.0M64.4 424.0H64.0M57.7 419.8V423.0M57.7 419.8H65.0M57.7 423.0H64.4M54.7 414.7V421.4M54.7 414.7H58.4M54.7 421.4H57.7M48.5 407.1V418.0M48.5 407.1H55.4M48.5 418.0H54.7M43.0 391.6V412.6M43.0 391.6H47.9M43.0 412.6H48.5M37.2 351.4V402.1M37.2 351.4H44.0M37.2 402.1H43.0M31.2 319.2V376.7M31.2 319.2H51.3M31.2 376.7H37.2M64.4 425.4V426.5M64.4 425.4H66.0M64.4 426.5H66.0M64.5 427.7V428.7M64.5 427.7H66.0M64.5 428.7H66.0M64.7 428.2V429.8M64.7 428.2H64.5M64.7 429.8H66.0M61.4 426.0V429.0M61.4 426.0H64.4M61.4 429.0H64.7M63.8 432.1V433.2M63.8 432.1H66.0M63.8 433.2H66.0M64.2 430.9V432.6M64.2 430.9H66.0M64.2 432.6H63.8M59.4 427.5V431.8M59.4 427.5H61.4M59.4 431.8H64.2M65.2 434.4V435.8M65.2 434.4H66.0M65.2 435.8H66.0M65.4 437.6V439.5M65.4 437.6H66.0M65.4 439.5H66.0M60.6 435.1V438.5M60.6 435.1H65.2M60.6 438.5H65.4M57.3 429.6V436.8M57.3 429.6H59.4M57.3 436.8H60.6M64.3 440.9V442.1M64.3 440.9H66.0M64.3 442.1H66.0M65.4 443.6V444.9M65.4 443.6H66.0M65.4 444.9H66.0M63.5 444.3V446.1M63.5 444.3H65.4M63.5 446.1H66.0M60.3 441.5V445.2M60.3 441.5H64.3M60.3 445.2H63.5M65.0 448.4V449.5M65.0 448.4H66.0M65.0 449.5H66.0M65.3 447.3V448.9M65.3 447.3H66.0M65.3 448.9H65.0M57.6 443.3V448.1M57.6 443.3H60.3M57.6 448.1H65.3M51.2 433.2V445.7M51.2 433.2H57.3M51.2 445.7H57.6M64.3 450.8V452.3M64.3 450.8H66.0M64.3 452.3H66.0M57.9 451.6V453.5M57.9 451.6H64.3M57.9 453.5H66.0M64.4 456.1V457.2M64.4 456.1H66.0M64.4 457.2H66.0M64.0 454.8V456.6M64.0 454.8H66.0M64.0 456.6H64.4M55.8 452.5V455.7M55.8 452.5H57.9M55.8 455.7H64.0M64.7 458.1V459.5M64.7 458.1H66.0M64.7 459.5H66.0M64.1 460.6V461.6M64.1 460.6H66.0M64.1 461.6H66.0M59.2 458.8V461.1M59.2 458.8H64.7M59.2 461.1H64.1M64.3 463.3V465.2M64.3 463.3H66.0M64.3 465.2H66.0M63.5 466.7V467.7M63.5 466.7H66.0M63.5 467.7H66.0M65.0 467.2V469.1M65.0 467.2H63.5M65.0 469.1H66.0M60.3 464.2V468.1M60.3 464.2H64.3M60.3 468.1H65.0M57.0 460.0V466.2M57.0 460.0H59.2M57.0 466.2H60.3M50.7 454.1V463.1M50.7 454.1H55.8M50.7 463.1H57.0M46.0 439.5V458.6M46.0 439.5H51.2M46.0 458.6H50.7M64.4 470.9V472.5M64.4 470.9H66.0M64.4 472.5H66.0M65.0 475.5V476.5M65.0 475.5H66.0M65.0 476.5H66.0M64.3 474.1V476.0M64.3 474.1H66.0M64.3 476.0H65.0M52.8 471.7V475.0M52.8 471.7H64.4M52.8 475.0H64.3M63.5 479.5V480.8M63.5 479.5H66.0M63.5 480.8H66.0M56.3 477.9V480.1M56.3 477.9H66.0M56.3 480.1H63.5M49.9 473.4V479.0M49.9 473.4H52.8M49.9 479.0H56.3M65.3 481.8V482.8M65.3 481.8H66.0M65.3 482.8H66.0M63.5 482.3V484.1M63.5 482.3H65.3M63.5 484.1H66.0M65.1 485.3V486.4M65.1 485.3H66.0M65.1 486.4H66.0M59.3 485.8V488.0M59.3 485.8H65.1M59.3 488.0H66.0M57.5 483.2V486.9M57.5 483.2H63.5M57.5 486.9H59.3M64.5 490.9V492.0M64.5 490.9H66.0M64.5 492.0H66.0M65.0 491.4V493.1M65.0 491.4H64.5M65.0 493.1H66.0M61.4 489.7V492.2M61.4 489.7H66.0M61.4 492.2H65.0M65.2 494.2V495.8M65.2 494.2H66.0M65.2 495.8H66.0M57.9 491.0V495.0M57.9 491.0H61.4M57.9 495.0H65.2M52.9 485.1V493.0M52.9 485.1H57.5M52.9 493.0H57.9M65.4 499.3V500.5M65.4 499.3H66.0M65.4 500.5H66.0M54.6 497.7V499.9M54.6 497.7H66.0M54.6 499.9H65.4M64.2 501.4V502.4M64.2 501.4H66.0M64.2 502.4H66.0M64.2 501.9V503.5M64.2 501.9H64.2M64.2 503.5H66.0M52.3 498.8V502.7M52.3 498.8H54.6M52.3 502.7H64.2M49.9 489.0V500.8M49.9 489.0H52.9M49.9 500.8H52.3M46.0 476.2V494.9M46.0 476.2H49.9M46.0 494.9H49.9M39.2 449.0V485.5M39.2 449.0H46.0M39.2 485.5H46.0M64.4 504.7V505.8M64.4 504.7H66.0M64.4 505.8H66.0M63.9 506.7V507.7M63.9 506.7H66.0M63.9 507.7H66.0M65.2 507.2V509.0M65.2 507.2H63.9M65.2 509.0H66.0M53.4 505.3V508.1M53.4 505.3H64.4M53.4 508.1H65.2M64.3 512.0V513.5M64.3 512.0H66.0M64.3 513.5H66.0M56.9 510.5V512.7M56.9 510.5H66.0M56.9 512.7H64.3M49.4 506.7V511.6M49.4 506.7H53.4M49.4 511.6H56.9M63.5 514.6V515.8M63.5 514.6H66.0M63.5 515.8H66.0M63.8 515.2V517.3M63.8 515.2H63.5M63.8 517.3H66.0M65.1 518.3V519.5M65.1 518.3H66.0M65.1 519.5H66.0M58.4 516.2V518.9M58.4 516.2H63.8M58.4 518.9H65.1M64.1 521.0V522.1M64.1 521.0H66.0M64.1 522.1H66.0M65.3 521.6V523.0M65.3 521.6H64.1M65.3 523.0H66.0M64.8 524.3V525.6M64.8 524.3H66.0M64.8 525.6H66.0M58.0 522.3V525.0M58.0 522.3H65.3M58.0 525.0H64.8M65.2 527.0V529.0M65.2 527.0H66.0M65.2 529.0H66.0M56.3 523.6V528.0M56.3 523.6H58.0M56.3 528.0H65.2M52.9 517.5V525.8M52.9 517.5H58.4M52.9 525.8H56.3M45.0 509.1V521.7M45.0 509.1H49.4M45.0 521.7H52.9M65.2 530.4V531.5M65.2 530.4H66.0M65.2 531.5H66.0M64.6 532.8V533.9M64.6 532.8H66.0M64.6 533.9H66.0M56.1 530.9V533.4M56.1 530.9H65.2M56.1 533.4H64.6M64.5 534.9V536.2M64.5 534.9H66.0M64.5 536.2H66.0M64.0 537.4V538.4M64.0 537.4H66.0M64.0 538.4H66.0M63.7 537.9V539.7M63.7 537.9H64.0M63.7 539.7H66.0M52.3 535.6V538.8M52.3 535.6H64.5M52.3 538.8H63.7M49.1 532.2V537.2M49.1 532.2H56.1M49.1 537.2H52.3M64.8 541.2V542.8M64.8 541.2H66.0M64.8 542.8H66.0M65.5 544.3V545.8M65.5 544.3H66.0M65.5 545.8H66.0M58.3 542.0V545.1M58.3 542.0H64.8M58.3 545.1H65.5M64.7 548.6V549.6M64.7 548.6H66.0M64.7 549.6H66.0M64.7 547.4V549.1M64.7 547.4H66.0M64.7 549.1H64.7M63.6 551.0V552.4M63.6 551.0H66.0M63.6 552.4H66.0M65.0 553.4V554.6M65.0 553.4H66.0M65.0 554.6H66.0M63.2 551.7V554.0M63.2 551.7H63.6M63.2 554.0H65.0M60.9 548.2V552.8M60.9 548.2H64.7M60.9 552.8H63.2M63.7 556.1V557.6M63.7 556.1H66.0M63.7 557.6H66.0M60.1 556.8V559.1M60.1 556.8H63.7M60.1 559.1H66.0M58.0 550.5V558.0M58.0 550.5H60.9M58.0 558.0H60.1M54.9 543.5V554.3M54.9 543.5H58.3M54.9 554.3H58.0M46.0 534.7V548.9M46.0 534.7H49.1M46.0 548.9H54.9M38.0 515.4V541.8M38.0 515.4H45.0M38.0 541.8H46.0M64.0 561.8V562.8M64.0 561.8H66.0M64.0 562.8H66.0M64.3 560.7V562.3M64.3 560.7H66.0M64.3 562.3H64.0M63.5 564.1V565.8M63.5 564.1H66.0M63.5 565.8H66.0M55.6 561.5V564.9M55.6 561.5H64.3M55.6 564.9H63.5M64.3 567.4V568.7M64.3 567.4H66.0M64.3 568.7H66.0M64.5 569.5V570.5M64.5 569.5H66.0M64.5 570.5H66.0M65.0 570.0V572.1M65.0 570.0H64.5M65.0 572.1H66.0M59.5 568.0V571.0M59.5 568.0H64.3M59.5 571.0H65.0M63.9 575.5V576.9M63.9 575.5H66.0M63.9 576.9H66.0M61.3 574.0V576.2M61.3 574.0H66.0M61.3 576.2H63.9M63.8 578.2V579.6M63.8 578.2H66.0M63.8 579.6H66.0M61.9 578.9V581.1M61.9 578.9H63.8M61.9 581.1H66.0M59.2 575.1V580.0M59.2 575.1H61.3M59.2 580.0H61.9M56.1 569.5V577.5M56.1 569.5H59.5M56.1 577.5H59.2M49.4 563.2V573.5M49.4 563.2H55.6M49.4 573.5H56.1M64.8 582.4V583.6M64.8 582.4H66.0M64.8 583.6H66.0M63.5 584.7V585.8M63.5 584.7H66.0M63.5 585.8H66.0M64.1 587.1V588.4M64.1 587.1H66.0M64.1 588.4H66.0M60.0 585.3V587.7M60.0 585.3H63.5M60.0 587.7H64.1M56.1 583.0V586.5M56.1 583.0H64.8M56.1 586.5H60.0M64.8 589.3V590.6M64.8 589.3H66.0M64.8 590.6H66.0M64.1 593.0V594.1M64.1 593.0H66.0M64.1 594.1H66.0M64.7 592.0V593.5M64.7 592.0H66.0M64.7 593.5H64.1M59.4 589.9V592.8M59.4 589.9H64.8M59.4 592.8H64.7M65.1 595.6V597.1M65.1 595.6H66.0M65.1 597.1H66.0M59.9 596.4V598.5M59.9 596.4H65.1M59.9 598.5H66.0M64.2 599.8V601.1M64.2 599.8H66.0M64.2 601.1H66.0M58.6 597.5V600.4M58.6 597.5H59.9M58.6 600.4H64.2M56.5 591.4V598.9M56.5 591.4H59.4M56.5 598.9H58.6M53.7 584.8V595.1M53.7 584.8H56.1M53.7 595.1H56.5M44.0 568.4V590.0M44.0 568.4H49.4M44.0 590.0H53.7M63.6 602.5V603.8M63.6 602.5H66.0M63.6 603.8H66.0M64.7 606.4V607.8M64.7 606.4H66.0M64.7 607.8H66.0M61.6 605.1V607.1M61.6 605.1H66.0M61.6 607.1H64.7M59.1 603.1V606.1M59.1 603.1H63.6M59.1 606.1H61.6M64.6 609.0V610.1M64.6 609.0H66.0M64.6 610.1H66.0M63.8 611.3V612.5M63.8 611.3H66.0M63.8 612.5H66.0M61.1 609.5V611.9M61.1 609.5H64.6M61.1 611.9H63.8M64.3 614.1V615.6M64.3 614.1H66.0M64.3 615.6H66.0M60.2 610.7V614.8M60.2 610.7H61.1M60.2 614.8H64.3M55.8 604.6V612.8M55.8 604.6H59.1M55.8 612.8H60.2M64.0 616.6V618.0M64.0 616.6H66.0M64.0 618.0H66.0M64.0 619.6V620.9M64.0 619.6H66.0M64.0 620.9H66.0M55.6 617.3V620.2M55.6 617.3H64.0M55.6 620.2H64.0M64.1 621.6V622.7M64.1 621.6H66.0M64.1 622.7H66.0M64.4 622.2V624.2M64.4 622.2H64.1M64.4 624.2H66.0M65.4 625.6V626.8M65.4 625.6H66.0M65.4 626.8H66.0M57.9 623.2V626.2M57.9 623.2H64.4M57.9 626.2H65.4M53.5 618.8V624.7M53.5 618.8H55.6M53.5 624.7H57.9M49.2 608.7V621.7M49.2 608.7H55.8M49.2 621.7H53.5M65.0 627.8V629.0M65.0 627.8H66.0M65.0 629.0H66.0M64.9 630.6V632.4M64.9 630.6H66.0M64.9 632.4H66.0M55.1 628.4V631.5M55.1 628.4H65.0M55.1 631.5H64.9M63.8 634.0V635.2M63.8 634.0H66.0M63.8 635.2H66.0M64.8 637.3V638.4M64.8 637.3H66.0M64.8 638.4H66.0M63.9 636.2V637.8M63.9 636.2H66.0M63.9 637.8H64.8M58.9 634.6V637.0M58.9 634.6H63.8M58.9 637.0H63.9M53.1 630.0V635.8M53.1 630.0H55.1M53.1 635.8H58.9M63.9 639.9V641.3M63.9 639.9H66.0M63.9 641.3H66.0M64.7 643.8V644.8M64.7 643.8H66.0M64.7 644.8H66.0M65.1 642.5V644.3M65.1 642.5H66.0M65.1 644.3H64.7M54.0 640.6V643.4M54.0 640.6H63.9M54.0 643.4H65.1M50.0 632.9V642.0M50.0 632.9H53.1M50.0 642.0H54.0M44.0 615.2V637.5M44.0 615.2H49.2M44.0 637.5H50.0M38.0 579.2V626.3M38.0 579.2H44.0M38.0 626.3H44.0M32.2 528.6V602.7M32.2 528.6H38.0M32.2 602.7H38.0M22.5 467.3V565.7M22.5 467.3H39.2M22.5 565.7H32.2M17.1 347.9V516.5M17.1 347.9H31.2M17.1 516.5H22.5M1.7 127.9V432.2M1.7 127.9H18.2M1.7 432.2H17.1" stroke="#000" stroke-width="1.35" fill="none" />
<defs><linearGradient id="gA" x1="0" y1="0" x2="0" y2="1"><stop offset="0" stop-color="#cc1f1f"/><stop offset="0.25" stop-color="#e28080"/><stop offset="0.45" stop-color="#f8eded"/><stop offset="0.52" stop-color="#f2f2f8"/><stop offset="0.62" stop-color="#a8a8d4"/><stop offset="0.75" stop-color="#3a3a9c"/><stop offset="0.82" stop-color="#00007a"/><stop offset="1" stop-color="#00007a"/></linearGradient></defs>
<rect x="269.10" y="115.40" width="18.00" height="111.50" fill="url(#gA)" rx="1"/>
<line x1="269.10" y1="119.40" x2="274.00" y2="119.40" stroke="#fff" stroke-width="1" />
<line x1="282.30" y1="119.40" x2="287.10" y2="119.40" stroke="#fff" stroke-width="1" />
<text x="292.0" y="124.9" font-size="16" >2</text>
<line x1="269.10" y1="145.20" x2="274.00" y2="145.20" stroke="#fff" stroke-width="1" />
<line x1="282.30" y1="145.20" x2="287.10" y2="145.20" stroke="#fff" stroke-width="1" />
<text x="292.0" y="150.7" font-size="16" >1</text>
<line x1="269.10" y1="170.80" x2="274.00" y2="170.80" stroke="#fff" stroke-width="1" />
<line x1="282.30" y1="170.80" x2="287.10" y2="170.80" stroke="#fff" stroke-width="1" />
<text x="292.0" y="176.3" font-size="16" >0</text>
<line x1="269.10" y1="196.50" x2="274.00" y2="196.50" stroke="#fff" stroke-width="1" />
<line x1="282.30" y1="196.50" x2="287.10" y2="196.50" stroke="#fff" stroke-width="1" />
<text x="292.0" y="202.0" font-size="16" >-1</text>
<line x1="269.10" y1="222.30" x2="274.00" y2="222.30" stroke="#fff" stroke-width="1" />
<line x1="282.30" y1="222.30" x2="287.10" y2="222.30" stroke="#fff" stroke-width="1" />
<text x="292.0" y="227.8" font-size="16" >-2</text>
<line x1="237.00" y1="305.00" x2="253.00" y2="305.00" stroke="#000" stroke-width="1.5" />
<text x="256.0" y="312.0" font-size="20" >Six3</text>
<line x1="237.00" y1="347.00" x2="253.00" y2="347.00" stroke="#000" stroke-width="1.5" />
<text x="256.0" y="354.0" font-size="20" >Mixl1</text>
<line x1="237.00" y1="389.00" x2="253.00" y2="389.00" stroke="#000" stroke-width="1.5" />
<text x="256.0" y="396.0" font-size="20" >T</text>
<text x="255.8" y="605.5" font-size="20" >Wnt8a</text>
<text x="255.8" y="629.3" font-size="20" >Sp5</text>
<path d="M237 612.9H242.3 M237 615.4H242.3 M242 613 Q244.5 605.2 248.5 605.2 H253 M242 615.3 Q244.5 618.4 248.5 618.4 H253" stroke="#000" stroke-width="1.2" fill="none" />
<text x="354.1" y="37.3" font-size="37.5" >B</text>
<rect x="932.90" y="32.10" width="134.53" height="22.00" fill="#fe0000" />
<text x="735.5" y="50.3" font-size="20.1" text-anchor="end" >forebrain development</text>
<line x1="741.50" y1="43.10" x2="746.80" y2="43.10" stroke="#000" stroke-width="1.6" />
<rect x="932.90" y="57.17" width="97.84" height="22.00" fill="#fd0005" />
<text x="735.5" y="75.4" font-size="20.1" text-anchor="end" >telencephalon development</text>
<line x1="741.50" y1="68.17" x2="746.80" y2="68.17" stroke="#000" stroke-width="1.6" />
<rect x="932.90" y="82.24" width="73.38" height="22.00" fill="#f20020" />
<text x="735.5" y="100.4" font-size="20.1" text-anchor="end" >neural precursor cell proliferation</text>
<line x1="741.50" y1="93.24" x2="746.80" y2="93.24" stroke="#000" stroke-width="1.6" />
<rect x="932.90" y="107.31" width="61.15" height="22.00" fill="#fd0005" />
<text x="735.5" y="125.5" font-size="20.1" text-anchor="end" >diencephalon development</text>
<line x1="741.50" y1="118.31" x2="746.80" y2="118.31" stroke="#000" stroke-width="1.6" />
<rect x="871.75" y="132.38" width="61.15" height="22.00" fill="#a700b4" />
<text x="735.5" y="150.6" font-size="20.1" text-anchor="end" >mesoderm development</text>
<line x1="741.50" y1="143.38" x2="746.80" y2="143.38" stroke="#000" stroke-width="1.6" />
<rect x="871.75" y="157.45" width="61.15" height="22.00" fill="#e3004e" />
<text x="735.5" y="175.6" font-size="20.1" text-anchor="end" >somite development</text>
<line x1="741.50" y1="168.45" x2="746.80" y2="168.45" stroke="#000" stroke-width="1.6" />
<rect x="847.29" y="182.52" width="85.61" height="22.00" fill="#0000fe" />
<text x="735.5" y="200.7" font-size="20.1" text-anchor="end" >cardiac muscle tissue development</text>
<line x1="741.50" y1="193.52" x2="746.80" y2="193.52" stroke="#000" stroke-width="1.6" />
<rect x="835.06" y="207.59" width="97.84" height="22.00" fill="#e00060" />
<text x="735.5" y="225.8" font-size="20.1" text-anchor="end" >canonical Wnt signaling pathway</text>
<line x1="741.50" y1="218.59" x2="746.80" y2="218.59" stroke="#000" stroke-width="1.6" />
<rect x="761.68" y="232.66" width="171.22" height="22.00" fill="#fe0000" />
<text x="735.5" y="250.9" font-size="20.1" text-anchor="end" >muscle tissue development</text>
<line x1="741.50" y1="243.66" x2="746.80" y2="243.66" stroke="#000" stroke-width="1.6" />
<rect x="761.68" y="257.73" width="171.22" height="22.00" fill="#fe0000" />
<text x="735.5" y="275.9" font-size="18.1" text-anchor="end" >striated muscle tissue development</text>
<line x1="741.50" y1="268.73" x2="746.80" y2="268.73" stroke="#000" stroke-width="1.6" />
<rect x="746.8" y="28.2" width="336.9000000000001" height="255.0" fill="none" stroke="#000" stroke-width="2"/>
<line x1="932.90" y1="28.20" x2="932.90" y2="283.20" stroke="#000" stroke-width="4" />
<line x1="932.90" y1="1.00" x2="932.90" y2="28.20" stroke="#5a146e" stroke-width="3.6" stroke-dasharray="3.2 2.2"/>
<line x1="749.45" y1="283.20" x2="749.45" y2="290.20" stroke="#000" stroke-width="1.5" />
<text x="749.4" y="315.5" font-size="18.5" text-anchor="middle" >15</text>
<line x1="810.60" y1="283.20" x2="810.60" y2="290.20" stroke="#000" stroke-width="1.5" />
<text x="810.6" y="315.5" font-size="18.5" text-anchor="middle" >10</text>
<line x1="871.75" y1="283.20" x2="871.75" y2="290.20" stroke="#000" stroke-width="1.5" />
<text x="871.8" y="315.5" font-size="18.5" text-anchor="middle" >5</text>
<line x1="932.90" y1="283.20" x2="932.90" y2="290.20" stroke="#000" stroke-width="1.5" />
<text x="932.9" y="315.5" font-size="18.5" text-anchor="middle" >0</text>
<line x1="994.05" y1="283.20" x2="994.05" y2="290.20" stroke="#000" stroke-width="1.5" />
<text x="994.0" y="315.5" font-size="18.5" text-anchor="middle" >5</text>
<line x1="1055.20" y1="283.20" x2="1055.20" y2="290.20" stroke="#000" stroke-width="1.5" />
<text x="1055.2" y="315.5" font-size="18.5" text-anchor="middle" >10</text>
<text x="915.0" y="330.0" font-size="19.5" text-anchor="middle" >Count</text>
<text x="836.4" y="21.7" font-size="24" text-anchor="middle" font-weight="normal" stroke="#000" stroke-width="0.6">DOWN</text>
<text x="1000.0" y="21.7" font-size="24" text-anchor="middle" font-weight="normal" stroke="#000" stroke-width="0.6">UP</text>
<text x="1100.0" y="43.0" font-size="19.6" >p-value</text>
<defs><linearGradient id="gB" x1="0" y1="0" x2="0" y2="1"><stop offset="0" stop-color="#1a00ff"/><stop offset="0.3" stop-color="#8a00c8"/><stop offset="0.55" stop-color="#d0008a"/><stop offset="1" stop-color="#ff0010"/></linearGradient></defs>
<rect x="1099.40" y="61.90" width="19.60" height="119.10" fill="url(#gB)" />
<line x1="1099.40" y1="68.50" x2="1103.00" y2="68.50" stroke="#fff" stroke-width="1" />
<line x1="1115.40" y1="68.50" x2="1119.00" y2="68.50" stroke="#fff" stroke-width="1" />
<text x="1127.6" y="74.0" font-size="15.9" >0.00100</text>
<line x1="1099.40" y1="96.40" x2="1103.00" y2="96.40" stroke="#fff" stroke-width="1" />
<line x1="1115.40" y1="96.40" x2="1119.00" y2="96.40" stroke="#fff" stroke-width="1" />
<text x="1127.6" y="101.9" font-size="15.9" >0.00075</text>
<line x1="1099.40" y1="124.60" x2="1103.00" y2="124.60" stroke="#fff" stroke-width="1" />
<line x1="1115.40" y1="124.60" x2="1119.00" y2="124.60" stroke="#fff" stroke-width="1" />
<text x="1127.6" y="130.1" font-size="15.9" >0.00050</text>
<line x1="1099.40" y1="152.80" x2="1103.00" y2="152.80" stroke="#fff" stroke-width="1" />
<line x1="1115.40" y1="152.80" x2="1119.00" y2="152.80" stroke="#fff" stroke-width="1" />
<text x="1127.6" y="158.3" font-size="15.9" >0.00025</text>
<text x="354.1" y="334.0" font-size="37.5" >D</text>
<rect x="763.70" y="364.30" width="152.00" height="24.30" fill="#e8004c" />
<text x="736.3" y="381.2" font-size="20.1" text-anchor="end" >Cytokine Signaling in Immune system</text>
<line x1="742.00" y1="376.40" x2="747.60" y2="376.40" stroke="#000" stroke-width="1.6" />
<rect x="801.70" y="392.14" width="114.00" height="24.30" fill="#dc0070" />
<text x="736.3" y="409.0" font-size="20.1" text-anchor="end" >WNT signaling</text>
<line x1="742.00" y1="404.24" x2="747.60" y2="404.24" stroke="#000" stroke-width="1.6" />
<rect x="820.70" y="419.98" width="95.00" height="24.30" fill="#e00060" />
<text x="738.0" y="436.9" font-size="20.1" text-anchor="end" >Beta-Catenin dependent WNT signaling</text>
<line x1="742.00" y1="432.08" x2="747.60" y2="432.08" stroke="#000" stroke-width="1.6" />
<rect x="839.70" y="447.82" width="76.00" height="24.30" fill="#c800a0" />
<text x="736.3" y="464.7" font-size="20.1" text-anchor="end" >Antigen processing-Cross presentation</text>
<line x1="742.00" y1="459.92" x2="747.60" y2="459.92" stroke="#000" stroke-width="1.6" />
<rect x="839.70" y="475.66" width="76.00" height="24.30" fill="#fe0000" />
<text x="736.3" y="492.6" font-size="20.1" text-anchor="end" >Hedgehog ligand biogenesis</text>
<line x1="742.00" y1="487.76" x2="747.60" y2="487.76" stroke="#000" stroke-width="1.6" />
<rect x="877.70" y="503.50" width="38.00" height="24.30" fill="#0000fe" />
<text x="736.3" y="520.4" font-size="20.1" text-anchor="end" >Adrenoceptors</text>
<line x1="742.00" y1="515.60" x2="747.60" y2="515.60" stroke="#000" stroke-width="1.6" />
<rect x="877.70" y="531.34" width="38.00" height="24.30" fill="#8200dc" />
<text x="736.3" y="548.2" font-size="20.1" text-anchor="end" >Release of Hh-Np from the secreting cell</text>
<line x1="742.00" y1="543.44" x2="747.60" y2="543.44" stroke="#000" stroke-width="1.6" />
<rect x="915.70" y="559.18" width="95.00" height="24.30" fill="#b400b8" />
<text x="736.3" y="576.1" font-size="20.1" text-anchor="end" >Extracellular matrix organization</text>
<line x1="742.00" y1="571.28" x2="747.60" y2="571.28" stroke="#000" stroke-width="1.6" />
<rect x="915.70" y="587.02" width="152.00" height="24.30" fill="#aa00c0" />
<text x="736.3" y="603.9" font-size="20.1" text-anchor="end" >Transport of small molecules</text>
<line x1="742.00" y1="599.12" x2="747.60" y2="599.12" stroke="#000" stroke-width="1.6" />
<rect x="747.6" y="359.2" width="336.9" height="255.40000000000003" fill="none" stroke="#000" stroke-width="2"/>
<line x1="915.70" y1="359.20" x2="915.70" y2="614.60" stroke="#000" stroke-width="4" />
<line x1="915.70" y1="337.60" x2="915.70" y2="359.20" stroke="#5a146e" stroke-width="3.6" stroke-dasharray="3.2 2.2"/>
<line x1="820.70" y1="614.60" x2="820.70" y2="621.60" stroke="#000" stroke-width="1.5" />
<text x="820.7" y="643.0" font-size="18.5" text-anchor="middle" >5</text>
<line x1="915.70" y1="614.60" x2="915.70" y2="621.60" stroke="#000" stroke-width="1.5" />
<text x="915.7" y="643.0" font-size="18.5" text-anchor="middle" >0</text>
<line x1="1010.70" y1="614.60" x2="1010.70" y2="621.60" stroke="#000" stroke-width="1.5" />
<text x="1010.7" y="643.0" font-size="18.5" text-anchor="middle" >5</text>
<text x="915.7" y="660.5" font-size="19.5" text-anchor="middle" >Count</text>
<text x="836.4" y="352.7" font-size="24" text-anchor="middle" font-weight="normal" stroke="#000" stroke-width="0.6">DOWN</text>
<text x="1000.0" y="352.7" font-size="24" text-anchor="middle" font-weight="normal" stroke="#000" stroke-width="0.6">UP</text>
<text x="1109.0" y="372.0" font-size="19.6" >p-value</text>
<defs><linearGradient id="gD" x1="0" y1="0" x2="0" y2="1"><stop offset="0" stop-color="#3000ff"/><stop offset="0.3" stop-color="#9a00c8"/><stop offset="0.6" stop-color="#d4007c"/><stop offset="1" stop-color="#ff0018"/></linearGradient></defs>
<rect x="1105.20" y="389.70" width="21.20" height="122.30" fill="url(#gD)" />
<line x1="1105.20" y1="419.90" x2="1109.00" y2="419.90" stroke="#fff" stroke-width="1" />
<line x1="1122.60" y1="419.90" x2="1126.40" y2="419.90" stroke="#fff" stroke-width="1" />
<text x="1135.4" y="425.4" font-size="15.9" >0.04</text>
<line x1="1105.20" y1="449.30" x2="1109.00" y2="449.30" stroke="#fff" stroke-width="1" />
<line x1="1122.60" y1="449.30" x2="1126.40" y2="449.30" stroke="#fff" stroke-width="1" />
<text x="1135.4" y="454.8" font-size="15.9" >0.03</text>
<line x1="1105.20" y1="480.20" x2="1109.00" y2="480.20" stroke="#fff" stroke-width="1" />
<line x1="1122.60" y1="480.20" x2="1126.40" y2="480.20" stroke="#fff" stroke-width="1" />
<text x="1135.4" y="485.7" font-size="15.9" >0.02</text>
<line x1="1105.20" y1="511.10" x2="1109.00" y2="511.10" stroke="#fff" stroke-width="1" />
<line x1="1122.60" y1="511.10" x2="1126.40" y2="511.10" stroke="#fff" stroke-width="1" />
<text x="1135.4" y="516.6" font-size="15.9" >0.01</text>
<text x="5.9" y="683.0" font-size="37.5" >C</text>
<text x="139.0" y="671.5" font-size="23.9" text-anchor="middle" >Ectoderm</text>
<rect x="47.50" y="678.00" width="30.48" height="26.70" fill="rgb(0,0,0)" stroke="#999" stroke-width="1.3"/>
<rect x="77.98" y="678.00" width="30.48" height="26.70" fill="rgb(0,0,0)" stroke="#999" stroke-width="1.3"/>
<rect x="108.47" y="678.00" width="30.48" height="26.70" fill="rgb(0,0,0)" stroke="#999" stroke-width="1.3"/>
<rect x="138.95" y="678.00" width="30.48" height="26.70" fill="rgb(255,0,0)" stroke="#999" stroke-width="1.3"/>
<rect x="169.43" y="678.00" width="30.48" height="26.70" fill="rgb(255,0,0)" stroke="#999" stroke-width="1.3"/>
<rect x="199.92" y="678.00" width="30.48" height="26.70" fill="rgb(255,0,0)" stroke="#999" stroke-width="1.3"/>
<text x="242.0" y="698.6" font-size="20" >Condition</text>
<rect x="47.50" y="709.60" width="30.48" height="27.26" fill="rgb(128,128,200)" stroke="#999" stroke-width="1.3"/>
<rect x="77.98" y="709.60" width="30.48" height="27.26" fill="rgb(0,0,140)" stroke="#999" stroke-width="1.3"/>
<rect x="108.47" y="709.60" width="30.48" height="27.26" fill="rgb(245,205,205)" stroke="#999" stroke-width="1.3"/>
<rect x="138.95" y="709.60" width="30.48" height="27.26" fill="rgb(238,185,185)" stroke="#999" stroke-width="1.3"/>
<rect x="169.43" y="709.60" width="30.48" height="27.26" fill="rgb(40,40,150)" stroke="#999" stroke-width="1.3"/>
<rect x="199.92" y="709.60" width="30.48" height="27.26" fill="rgb(220,105,105)" stroke="#999" stroke-width="1.3"/>
<rect x="47.50" y="736.86" width="30.48" height="27.26" fill="rgb(228,228,245)" stroke="#999" stroke-width="1.3"/>
<rect x="77.98" y="736.86" width="30.48" height="27.26" fill="rgb(0,0,140)" stroke="#999" stroke-width="1.3"/>
<rect x="108.47" y="736.86" width="30.48" height="27.26" fill="rgb(230,160,160)" stroke="#999" stroke-width="1.3"/>
<rect x="138.95" y="736.86" width="30.48" height="27.26" fill="rgb(112,112,185)" stroke="#999" stroke-width="1.3"/>
<rect x="169.43" y="736.86" width="30.48" height="27.26" fill="rgb(72,72,170)" stroke="#999" stroke-width="1.3"/>
<rect x="199.92" y="736.86" width="30.48" height="27.26" fill="rgb(215,85,85)" stroke="#999" stroke-width="1.3"/>
<rect x="47.50" y="764.11" width="30.48" height="27.26" fill="rgb(150,150,205)" stroke="#999" stroke-width="1.3"/>
<rect x="77.98" y="764.11" width="30.48" height="27.26" fill="rgb(0,0,140)" stroke="#999" stroke-width="1.3"/>
<rect x="108.47" y="764.11" width="30.48" height="27.26" fill="rgb(90,90,180)" stroke="#999" stroke-width="1.3"/>
<rect x="138.95" y="764.11" width="30.48" height="27.26" fill="rgb(228,135,135)" stroke="#999" stroke-width="1.3"/>
<rect x="169.43" y="764.11" width="30.48" height="27.26" fill="rgb(220,105,105)" stroke="#999" stroke-width="1.3"/>
<rect x="199.92" y="764.11" width="30.48" height="27.26" fill="rgb(210,210,232)" stroke="#999" stroke-width="1.3"/>
<rect x="47.50" y="791.37" width="30.48" height="27.26" fill="rgb(10,10,140)" stroke="#999" stroke-width="1.3"/>
<rect x="77.98" y="791.37" width="30.48" height="27.26" fill="rgb(80,80,170)" stroke="#999" stroke-width="1.3"/>
<rect x="108.47" y="791.37" width="30.48" height="27.26" fill="rgb(45,45,155)" stroke="#999" stroke-width="1.3"/>
<rect x="138.95" y="791.37" width="30.48" height="27.26" fill="rgb(244,205,205)" stroke="#999" stroke-width="1.3"/>
<rect x="169.43" y="791.37" width="30.48" height="27.26" fill="rgb(228,150,150)" stroke="#999" stroke-width="1.3"/>
<rect x="199.92" y="791.37" width="30.48" height="27.26" fill="rgb(225,120,120)" stroke="#999" stroke-width="1.3"/>
<rect x="47.50" y="818.63" width="30.48" height="27.26" fill="rgb(65,65,165)" stroke="#999" stroke-width="1.3"/>
<rect x="77.98" y="818.63" width="30.48" height="27.26" fill="rgb(45,45,155)" stroke="#999" stroke-width="1.3"/>
<rect x="108.47" y="818.63" width="30.48" height="27.26" fill="rgb(20,20,140)" stroke="#999" stroke-width="1.3"/>
<rect x="138.95" y="818.63" width="30.48" height="27.26" fill="rgb(245,215,215)" stroke="#999" stroke-width="1.3"/>
<rect x="169.43" y="818.63" width="30.48" height="27.26" fill="rgb(220,105,105)" stroke="#999" stroke-width="1.3"/>
<rect x="199.92" y="818.63" width="30.48" height="27.26" fill="rgb(235,165,165)" stroke="#999" stroke-width="1.3"/>
<rect x="47.50" y="845.89" width="30.48" height="27.26" fill="rgb(130,130,195)" stroke="#999" stroke-width="1.3"/>
<rect x="77.98" y="845.89" width="30.48" height="27.26" fill="rgb(70,70,165)" stroke="#999" stroke-width="1.3"/>
<rect x="108.47" y="845.89" width="30.48" height="27.26" fill="rgb(40,40,150)" stroke="#999" stroke-width="1.3"/>
<rect x="138.95" y="845.89" width="30.48" height="27.26" fill="rgb(215,215,235)" stroke="#999" stroke-width="1.3"/>
<rect x="169.43" y="845.89" width="30.48" height="27.26" fill="rgb(205,40,40)" stroke="#999" stroke-width="1.3"/>
<rect x="199.92" y="845.89" width="30.48" height="27.26" fill="rgb(250,250,252)" stroke="#999" stroke-width="1.3"/>
<rect x="47.50" y="873.14" width="30.48" height="27.26" fill="rgb(90,90,180)" stroke="#999" stroke-width="1.3"/>
<rect x="77.98" y="873.14" width="30.48" height="27.26" fill="rgb(85,85,175)" stroke="#999" stroke-width="1.3"/>
<rect x="108.47" y="873.14" width="30.48" height="27.26" fill="rgb(60,60,160)" stroke="#999" stroke-width="1.3"/>
<rect x="138.95" y="873.14" width="30.48" height="27.26" fill="rgb(145,145,205)" stroke="#999" stroke-width="1.3"/>
<rect x="169.43" y="873.14" width="30.48" height="27.26" fill="rgb(210,50,50)" stroke="#999" stroke-width="1.3"/>
<rect x="199.92" y="873.14" width="30.48" height="27.26" fill="rgb(235,175,175)" stroke="#999" stroke-width="1.3"/>
<text x="242.0" y="730.4" font-size="20" >Ncam1</text>
<text x="242.0" y="757.7" font-size="20" >Nes</text>
<text x="242.0" y="784.9" font-size="20" >Otx2</text>
<text x="242.0" y="812.2" font-size="20" >Sox2</text>
<text x="242.0" y="839.5" font-size="20" >Six3</text>
<text x="242.0" y="866.7" font-size="20" >Pax6</text>
<text x="242.0" y="894.0" font-size="20" >Sox1</text>
<text x="138.5" y="923.6" font-size="23.9" text-anchor="middle" >Mesoderm</text>
<rect x="46.70" y="930.60" width="30.38" height="27.52" fill="rgb(190,190,225)" stroke="#999" stroke-width="1.3"/>
<rect x="77.08" y="930.60" width="30.38" height="27.52" fill="rgb(205,40,40)" stroke="#999" stroke-width="1.3"/>
<rect x="107.47" y="930.60" width="30.38" height="27.52" fill="rgb(175,175,220)" stroke="#999" stroke-width="1.3"/>
<rect x="137.85" y="930.60" width="30.38" height="27.52" fill="rgb(185,185,222)" stroke="#999" stroke-width="1.3"/>
<rect x="168.23" y="930.60" width="30.38" height="27.52" fill="rgb(70,70,165)" stroke="#999" stroke-width="1.3"/>
<rect x="198.62" y="930.60" width="30.38" height="27.52" fill="rgb(60,60,160)" stroke="#999" stroke-width="1.3"/>
<rect x="46.70" y="958.12" width="30.38" height="27.52" fill="rgb(190,190,225)" stroke="#999" stroke-width="1.3"/>
<rect x="77.08" y="958.12" width="30.38" height="27.52" fill="rgb(210,55,55)" stroke="#999" stroke-width="1.3"/>
<rect x="107.47" y="958.12" width="30.38" height="27.52" fill="rgb(242,200,200)" stroke="#999" stroke-width="1.3"/>
<rect x="137.85" y="958.12" width="30.38" height="27.52" fill="rgb(0,0,140)" stroke="#999" stroke-width="1.3"/>
<rect x="168.23" y="958.12" width="30.38" height="27.52" fill="rgb(55,55,160)" stroke="#999" stroke-width="1.3"/>
<rect x="198.62" y="958.12" width="30.38" height="27.52" fill="rgb(160,160,210)" stroke="#999" stroke-width="1.3"/>
<rect x="46.70" y="985.64" width="30.38" height="27.52" fill="rgb(248,248,250)" stroke="#999" stroke-width="1.3"/>
<rect x="77.08" y="985.64" width="30.38" height="27.52" fill="rgb(205,40,40)" stroke="#999" stroke-width="1.3"/>
<rect x="107.47" y="985.64" width="30.38" height="27.52" fill="rgb(248,248,250)" stroke="#999" stroke-width="1.3"/>
<rect x="137.85" y="985.64" width="30.38" height="27.52" fill="rgb(30,30,140)" stroke="#999" stroke-width="1.3"/>
<rect x="168.23" y="985.64" width="30.38" height="27.52" fill="rgb(65,65,165)" stroke="#999" stroke-width="1.3"/>
<rect x="198.62" y="985.64" width="30.38" height="27.52" fill="rgb(120,120,195)" stroke="#999" stroke-width="1.3"/>
<rect x="46.70" y="1013.15" width="30.38" height="27.52" fill="rgb(205,40,40)" stroke="#999" stroke-width="1.3"/>
<rect x="77.08" y="1013.15" width="30.38" height="27.52" fill="rgb(252,238,238)" stroke="#999" stroke-width="1.3"/>
<rect x="107.47" y="1013.15" width="30.38" height="27.52" fill="rgb(115,115,190)" stroke="#999" stroke-width="1.3"/>
<rect x="137.85" y="1013.15" width="30.38" height="27.52" fill="rgb(20,20,135)" stroke="#999" stroke-width="1.3"/>
<rect x="168.23" y="1013.15" width="30.38" height="27.52" fill="rgb(90,90,180)" stroke="#999" stroke-width="1.3"/>
<rect x="198.62" y="1013.15" width="30.38" height="27.52" fill="rgb(215,215,235)" stroke="#999" stroke-width="1.3"/>
<rect x="46.70" y="1040.67" width="30.38" height="27.52" fill="rgb(220,95,95)" stroke="#999" stroke-width="1.3"/>
<rect x="77.08" y="1040.67" width="30.38" height="27.52" fill="rgb(228,130,130)" stroke="#999" stroke-width="1.3"/>
<rect x="107.47" y="1040.67" width="30.38" height="27.52" fill="rgb(0,0,140)" stroke="#999" stroke-width="1.3"/>
<rect x="137.85" y="1040.67" width="30.38" height="27.52" fill="rgb(70,70,165)" stroke="#999" stroke-width="1.3"/>
<rect x="168.23" y="1040.67" width="30.38" height="27.52" fill="rgb(135,135,200)" stroke="#999" stroke-width="1.3"/>
<rect x="198.62" y="1040.67" width="30.38" height="27.52" fill="rgb(185,185,222)" stroke="#999" stroke-width="1.3"/>
<rect x="46.70" y="1068.19" width="30.38" height="27.52" fill="rgb(220,100,100)" stroke="#999" stroke-width="1.3"/>
<rect x="77.08" y="1068.19" width="30.38" height="27.52" fill="rgb(235,165,165)" stroke="#999" stroke-width="1.3"/>
<rect x="107.47" y="1068.19" width="30.38" height="27.52" fill="rgb(0,0,140)" stroke="#999" stroke-width="1.3"/>
<rect x="137.85" y="1068.19" width="30.38" height="27.52" fill="rgb(85,85,175)" stroke="#999" stroke-width="1.3"/>
<rect x="168.23" y="1068.19" width="30.38" height="27.52" fill="rgb(90,90,180)" stroke="#999" stroke-width="1.3"/>
<rect x="198.62" y="1068.19" width="30.38" height="27.52" fill="rgb(245,215,218)" stroke="#999" stroke-width="1.3"/>
<rect x="46.70" y="1095.71" width="30.38" height="27.52" fill="rgb(215,85,85)" stroke="#999" stroke-width="1.3"/>
<rect x="77.08" y="1095.71" width="30.38" height="27.52" fill="rgb(218,218,238)" stroke="#999" stroke-width="1.3"/>
<rect x="107.47" y="1095.71" width="30.38" height="27.52" fill="rgb(232,160,160)" stroke="#999" stroke-width="1.3"/>
<rect x="137.85" y="1095.71" width="30.38" height="27.52" fill="rgb(0,0,140)" stroke="#999" stroke-width="1.3"/>
<rect x="168.23" y="1095.71" width="30.38" height="27.52" fill="rgb(70,70,165)" stroke="#999" stroke-width="1.3"/>
<rect x="198.62" y="1095.71" width="30.38" height="27.52" fill="rgb(155,155,210)" stroke="#999" stroke-width="1.3"/>
<rect x="46.70" y="1123.23" width="30.38" height="27.52" fill="rgb(228,140,140)" stroke="#999" stroke-width="1.3"/>
<rect x="77.08" y="1123.23" width="30.38" height="27.52" fill="rgb(220,105,105)" stroke="#999" stroke-width="1.3"/>
<rect x="107.47" y="1123.23" width="30.38" height="27.52" fill="rgb(248,248,252)" stroke="#999" stroke-width="1.3"/>
<rect x="137.85" y="1123.23" width="30.38" height="27.52" fill="rgb(0,0,140)" stroke="#999" stroke-width="1.3"/>
<rect x="168.23" y="1123.23" width="30.38" height="27.52" fill="rgb(140,140,200)" stroke="#999" stroke-width="1.3"/>
<rect x="198.62" y="1123.23" width="30.38" height="27.52" fill="rgb(60,60,160)" stroke="#999" stroke-width="1.3"/>
<rect x="46.70" y="1150.75" width="30.38" height="27.52" fill="rgb(222,110,110)" stroke="#999" stroke-width="1.3"/>
<rect x="77.08" y="1150.75" width="30.38" height="27.52" fill="rgb(242,205,205)" stroke="#999" stroke-width="1.3"/>
<rect x="107.47" y="1150.75" width="30.38" height="27.52" fill="rgb(235,175,175)" stroke="#999" stroke-width="1.3"/>
<rect x="137.85" y="1150.75" width="30.38" height="27.52" fill="rgb(65,65,160)" stroke="#999" stroke-width="1.3"/>
<rect x="168.23" y="1150.75" width="30.38" height="27.52" fill="rgb(10,10,135)" stroke="#999" stroke-width="1.3"/>
<rect x="198.62" y="1150.75" width="30.38" height="27.52" fill="rgb(85,85,175)" stroke="#999" stroke-width="1.3"/>
<rect x="46.70" y="1178.26" width="30.38" height="27.52" fill="rgb(238,180,180)" stroke="#999" stroke-width="1.3"/>
<rect x="77.08" y="1178.26" width="30.38" height="27.52" fill="rgb(225,125,125)" stroke="#999" stroke-width="1.3"/>
<rect x="107.47" y="1178.26" width="30.38" height="27.52" fill="rgb(238,180,180)" stroke="#999" stroke-width="1.3"/>
<rect x="137.85" y="1178.26" width="30.38" height="27.52" fill="rgb(55,55,155)" stroke="#999" stroke-width="1.3"/>
<rect x="168.23" y="1178.26" width="30.38" height="27.52" fill="rgb(10,10,135)" stroke="#999" stroke-width="1.3"/>
<rect x="198.62" y="1178.26" width="30.38" height="27.52" fill="rgb(85,85,175)" stroke="#999" stroke-width="1.3"/>
<rect x="46.70" y="1205.78" width="30.38" height="27.52" fill="rgb(235,170,170)" stroke="#999" stroke-width="1.3"/>
<rect x="77.08" y="1205.78" width="30.38" height="27.52" fill="rgb(232,150,150)" stroke="#999" stroke-width="1.3"/>
<rect x="107.47" y="1205.78" width="30.38" height="27.52" fill="rgb(232,160,160)" stroke="#999" stroke-width="1.3"/>
<rect x="137.85" y="1205.78" width="30.38" height="27.52" fill="rgb(55,55,155)" stroke="#999" stroke-width="1.3"/>
<rect x="168.23" y="1205.78" width="30.38" height="27.52" fill="rgb(20,20,135)" stroke="#999" stroke-width="1.3"/>
<rect x="198.62" y="1205.78" width="30.38" height="27.52" fill="rgb(60,60,160)" stroke="#999" stroke-width="1.3"/>
<text x="242.0" y="951.6" font-size="20" >Mesp1</text>
<text x="242.0" y="979.1" font-size="20" >Nodal</text>
<text x="242.0" y="1006.6" font-size="20" >Gsc</text>
<text x="242.0" y="1034.1" font-size="20" >Smad1</text>
<text x="242.0" y="1061.6" font-size="20" >Gata4</text>
<text x="242.0" y="1089.2" font-size="20" >Hand1</text>
<text x="242.0" y="1116.7" font-size="20" >Dll1</text>
<text x="242.0" y="1144.2" font-size="20" >Fgf8</text>
<text x="242.0" y="1171.7" font-size="20" >T</text>
<text x="242.0" y="1199.2" font-size="20" >Tdgf1</text>
<text x="242.0" y="1226.7" font-size="20" >Mixl1</text>
<text x="139.2" y="1258.0" font-size="23.9" text-anchor="middle" >Endoderm</text>
<rect x="47.50" y="1267.30" width="30.38" height="27.50" fill="rgb(238,185,185)" stroke="#999" stroke-width="1.3"/>
<rect x="77.88" y="1267.30" width="30.38" height="27.50" fill="rgb(205,45,45)" stroke="#999" stroke-width="1.3"/>
<rect x="108.27" y="1267.30" width="30.38" height="27.50" fill="rgb(180,180,220)" stroke="#999" stroke-width="1.3"/>
<rect x="138.65" y="1267.30" width="30.38" height="27.50" fill="rgb(80,80,170)" stroke="#999" stroke-width="1.3"/>
<rect x="169.03" y="1267.30" width="30.38" height="27.50" fill="rgb(80,80,170)" stroke="#999" stroke-width="1.3"/>
<rect x="199.42" y="1267.30" width="30.38" height="27.50" fill="rgb(50,50,155)" stroke="#999" stroke-width="1.3"/>
<rect x="47.50" y="1294.80" width="30.38" height="27.50" fill="rgb(0,0,140)" stroke="#999" stroke-width="1.3"/>
<rect x="77.88" y="1294.80" width="30.38" height="27.50" fill="rgb(228,228,242)" stroke="#999" stroke-width="1.3"/>
<rect x="108.27" y="1294.80" width="30.38" height="27.50" fill="rgb(242,200,200)" stroke="#999" stroke-width="1.3"/>
<rect x="138.65" y="1294.80" width="30.38" height="27.50" fill="rgb(215,75,75)" stroke="#999" stroke-width="1.3"/>
<rect x="169.03" y="1294.80" width="30.38" height="27.50" fill="rgb(105,105,185)" stroke="#999" stroke-width="1.3"/>
<rect x="199.42" y="1294.80" width="30.38" height="27.50" fill="rgb(170,170,215)" stroke="#999" stroke-width="1.3"/>
<rect x="47.50" y="1322.30" width="30.38" height="27.50" fill="rgb(242,198,198)" stroke="#999" stroke-width="1.3"/>
<rect x="77.88" y="1322.30" width="30.38" height="27.50" fill="rgb(0,0,140)" stroke="#999" stroke-width="1.3"/>
<rect x="108.27" y="1322.30" width="30.38" height="27.50" fill="rgb(250,230,230)" stroke="#999" stroke-width="1.3"/>
<rect x="138.65" y="1322.30" width="30.38" height="27.50" fill="rgb(155,155,210)" stroke="#999" stroke-width="1.3"/>
<rect x="169.03" y="1322.30" width="30.38" height="27.50" fill="rgb(30,30,140)" stroke="#999" stroke-width="1.3"/>
<rect x="199.42" y="1322.30" width="30.38" height="27.50" fill="rgb(215,85,85)" stroke="#999" stroke-width="1.3"/>
<rect x="47.50" y="1349.80" width="30.38" height="27.50" fill="rgb(222,110,110)" stroke="#999" stroke-width="1.3"/>
<rect x="77.88" y="1349.80" width="30.38" height="27.50" fill="rgb(0,0,140)" stroke="#999" stroke-width="1.3"/>
<rect x="108.27" y="1349.80" width="30.38" height="27.50" fill="rgb(242,195,195)" stroke="#999" stroke-width="1.3"/>
<rect x="138.65" y="1349.80" width="30.38" height="27.50" fill="rgb(220,220,238)" stroke="#999" stroke-width="1.3"/>
<rect x="169.03" y="1349.80" width="30.38" height="27.50" fill="rgb(165,165,215)" stroke="#999" stroke-width="1.3"/>
<rect x="199.42" y="1349.80" width="30.38" height="27.50" fill="rgb(228,228,242)" stroke="#999" stroke-width="1.3"/>
<text x="242.0" y="1288.2" font-size="20" >Sox17</text>
<text x="242.0" y="1315.8" font-size="20" >Epcam</text>
<text x="242.0" y="1343.2" font-size="20" >E-Cadherin</text>
<text x="242.0" y="1370.8" font-size="20" >Foxa2</text>
<text x="138.2" y="1400.0" font-size="20" text-anchor="middle" >Definitive endoderm</text>
<rect x="47.50" y="1407.00" width="30.38" height="27.53" fill="rgb(215,75,75)" stroke="#999" stroke-width="1.3"/>
<rect x="77.88" y="1407.00" width="30.38" height="27.53" fill="rgb(228,130,130)" stroke="#999" stroke-width="1.3"/>
<rect x="108.27" y="1407.00" width="30.38" height="27.53" fill="rgb(105,105,185)" stroke="#999" stroke-width="1.3"/>
<rect x="138.65" y="1407.00" width="30.38" height="27.53" fill="rgb(85,85,175)" stroke="#999" stroke-width="1.3"/>
<rect x="169.03" y="1407.00" width="30.38" height="27.53" fill="rgb(115,115,190)" stroke="#999" stroke-width="1.3"/>
<rect x="199.42" y="1407.00" width="30.38" height="27.53" fill="rgb(70,70,165)" stroke="#999" stroke-width="1.3"/>
<rect x="47.50" y="1434.53" width="30.38" height="27.53" fill="rgb(248,248,252)" stroke="#999" stroke-width="1.3"/>
<rect x="77.88" y="1434.53" width="30.38" height="27.53" fill="rgb(205,40,40)" stroke="#999" stroke-width="1.3"/>
<rect x="108.27" y="1434.53" width="30.38" height="27.53" fill="rgb(248,248,252)" stroke="#999" stroke-width="1.3"/>
<rect x="138.65" y="1434.53" width="30.38" height="27.53" fill="rgb(30,30,140)" stroke="#999" stroke-width="1.3"/>
<rect x="169.03" y="1434.53" width="30.38" height="27.53" fill="rgb(70,70,165)" stroke="#999" stroke-width="1.3"/>
<rect x="199.42" y="1434.53" width="30.38" height="27.53" fill="rgb(125,125,195)" stroke="#999" stroke-width="1.3"/>
<rect x="47.50" y="1462.07" width="30.38" height="27.53" fill="rgb(70,70,165)" stroke="#999" stroke-width="1.3"/>
<rect x="77.88" y="1462.07" width="30.38" height="27.53" fill="rgb(220,100,100)" stroke="#999" stroke-width="1.3"/>
<rect x="108.27" y="1462.07" width="30.38" height="27.53" fill="rgb(50,50,155)" stroke="#999" stroke-width="1.3"/>
<rect x="138.65" y="1462.07" width="30.38" height="27.53" fill="rgb(85,85,175)" stroke="#999" stroke-width="1.3"/>
<rect x="169.03" y="1462.07" width="30.38" height="27.53" fill="rgb(175,175,220)" stroke="#999" stroke-width="1.3"/>
<rect x="199.42" y="1462.07" width="30.38" height="27.53" fill="rgb(225,115,115)" stroke="#999" stroke-width="1.3"/>
<text x="242.0" y="1428.0" font-size="20" >Cxcr4</text>
<text x="242.0" y="1455.5" font-size="20" >Gsc</text>
<text x="242.0" y="1483.0" font-size="20" >Gpc1</text>
<text x="8.8" y="1512.8" font-size="20" >Extra-embryonic endoderm</text>
<rect x="47.50" y="1520.80" width="30.38" height="27.37" fill="rgb(210,60,60)" stroke="#999" stroke-width="1.3"/>
<rect x="77.88" y="1520.80" width="30.38" height="27.37" fill="rgb(245,215,218)" stroke="#999" stroke-width="1.3"/>
<rect x="108.27" y="1520.80" width="30.38" height="27.37" fill="rgb(250,235,235)" stroke="#999" stroke-width="1.3"/>
<rect x="138.65" y="1520.80" width="30.38" height="27.37" fill="rgb(85,85,175)" stroke="#999" stroke-width="1.3"/>
<rect x="169.03" y="1520.80" width="30.38" height="27.37" fill="rgb(65,65,160)" stroke="#999" stroke-width="1.3"/>
<rect x="199.42" y="1520.80" width="30.38" height="27.37" fill="rgb(40,40,150)" stroke="#999" stroke-width="1.3"/>
<rect x="47.50" y="1548.17" width="30.38" height="27.37" fill="rgb(80,80,170)" stroke="#999" stroke-width="1.3"/>
<rect x="77.88" y="1548.17" width="30.38" height="27.37" fill="rgb(120,120,195)" stroke="#999" stroke-width="1.3"/>
<rect x="108.27" y="1548.17" width="30.38" height="27.37" fill="rgb(40,40,150)" stroke="#999" stroke-width="1.3"/>
<rect x="138.65" y="1548.17" width="30.38" height="27.37" fill="rgb(205,40,40)" stroke="#999" stroke-width="1.3"/>
<rect x="169.03" y="1548.17" width="30.38" height="27.37" fill="rgb(248,248,250)" stroke="#999" stroke-width="1.3"/>
<rect x="199.42" y="1548.17" width="30.38" height="27.37" fill="rgb(195,195,228)" stroke="#999" stroke-width="1.3"/>
<rect x="47.50" y="1575.53" width="30.38" height="27.37" fill="rgb(75,75,170)" stroke="#999" stroke-width="1.3"/>
<rect x="77.88" y="1575.53" width="30.38" height="27.37" fill="rgb(205,40,40)" stroke="#999" stroke-width="1.3"/>
<rect x="108.27" y="1575.53" width="30.38" height="27.37" fill="rgb(120,120,195)" stroke="#999" stroke-width="1.3"/>
<rect x="138.65" y="1575.53" width="30.38" height="27.37" fill="rgb(50,50,155)" stroke="#999" stroke-width="1.3"/>
<rect x="169.03" y="1575.53" width="30.38" height="27.37" fill="rgb(175,175,220)" stroke="#999" stroke-width="1.3"/>
<rect x="199.42" y="1575.53" width="30.38" height="27.37" fill="rgb(243,215,215)" stroke="#999" stroke-width="1.3"/>
<rect x="47.50" y="1602.90" width="30.38" height="27.37" fill="rgb(252,250,248)" stroke="#999" stroke-width="1.3"/>
<rect x="77.88" y="1602.90" width="30.38" height="27.37" fill="rgb(155,155,208)" stroke="#999" stroke-width="1.3"/>
<rect x="108.27" y="1602.90" width="30.38" height="27.37" fill="rgb(30,30,140)" stroke="#999" stroke-width="1.3"/>
<rect x="138.65" y="1602.90" width="30.38" height="27.37" fill="rgb(210,55,55)" stroke="#999" stroke-width="1.3"/>
<rect x="169.03" y="1602.90" width="30.38" height="27.37" fill="rgb(248,228,228)" stroke="#999" stroke-width="1.3"/>
<rect x="199.42" y="1602.90" width="30.38" height="27.37" fill="rgb(30,30,140)" stroke="#999" stroke-width="1.3"/>
<rect x="47.50" y="1630.27" width="30.38" height="27.37" fill="rgb(238,190,190)" stroke="#999" stroke-width="1.3"/>
<rect x="77.88" y="1630.27" width="30.38" height="27.37" fill="rgb(215,70,70)" stroke="#999" stroke-width="1.3"/>
<rect x="108.27" y="1630.27" width="30.38" height="27.37" fill="rgb(10,10,135)" stroke="#999" stroke-width="1.3"/>
<rect x="138.65" y="1630.27" width="30.38" height="27.37" fill="rgb(125,125,195)" stroke="#999" stroke-width="1.3"/>
<rect x="169.03" y="1630.27" width="30.38" height="27.37" fill="rgb(45,45,150)" stroke="#999" stroke-width="1.3"/>
<rect x="199.42" y="1630.27" width="30.38" height="27.37" fill="rgb(248,248,250)" stroke="#999" stroke-width="1.3"/>
<rect x="47.50" y="1657.63" width="30.38" height="27.37" fill="rgb(210,45,45)" stroke="#999" stroke-width="1.3"/>
<rect x="77.88" y="1657.63" width="30.38" height="27.37" fill="rgb(230,230,242)" stroke="#999" stroke-width="1.3"/>
<rect x="108.27" y="1657.63" width="30.38" height="27.37" fill="rgb(0,0,135)" stroke="#999" stroke-width="1.3"/>
<rect x="138.65" y="1657.63" width="30.38" height="27.37" fill="rgb(105,105,185)" stroke="#999" stroke-width="1.3"/>
<rect x="169.03" y="1657.63" width="30.38" height="27.37" fill="rgb(248,248,250)" stroke="#999" stroke-width="1.3"/>
<rect x="199.42" y="1657.63" width="30.38" height="27.37" fill="rgb(140,140,200)" stroke="#999" stroke-width="1.3"/>
<text x="242.0" y="1541.7" font-size="20" >Gata6</text>
<text x="242.0" y="1569.0" font-size="20" >Hnf4a</text>
<text x="242.0" y="1596.4" font-size="20" >Dba</text>
<text x="242.0" y="1623.8" font-size="20" >Amn</text>
<text x="242.0" y="1651.2" font-size="20" >Pth1r</text>
<text x="242.0" y="1678.5" font-size="20" >Tmprss2</text>
<defs><linearGradient id="gC" x1="0" y1="0" x2="0" y2="1"><stop offset="0" stop-color="#cc1c1c"/><stop offset="0.25" stop-color="#e07070"/><stop offset="0.5" stop-color="#f4d4d4"/><stop offset="0.58" stop-color="#fafafd"/><stop offset="0.75" stop-color="#b0b0d8"/><stop offset="0.9" stop-color="#4a4aa6"/><stop offset="1" stop-color="#000080"/></linearGradient></defs>
<rect x="343.20" y="1605.00" width="9.90" height="81.70" fill="url(#gC)" />
<text x="357.0" y="1618.3" font-size="15.5" >1.5</text>
<text x="357.0" y="1689.0" font-size="15.5" >-1</text>
<text x="354.3" y="683.1" font-size="37.5" >E</text>
<text x="609.3" y="720.8" font-size="24.25" text-anchor="middle" >HIF-1 signaling pathway related genes</text>
<text transform="translate(363,836.5) rotate(-90)" font-size="19.6" text-anchor="middle">Relative Level</text>
<line x1="407.50" y1="750.70" x2="407.50" y2="922.25" stroke="#000" stroke-width="1.6" />
<line x1="403.00" y1="921.50" x2="407.50" y2="921.50" stroke="#000" stroke-width="1.6" />
<text x="395.5" y="927.3" font-size="16" text-anchor="end" >0</text>
<line x1="403.00" y1="887.20" x2="407.50" y2="887.20" stroke="#000" stroke-width="1.6" />
<text x="395.5" y="893.0" font-size="16" text-anchor="end" >0.5</text>
<line x1="403.00" y1="852.40" x2="407.50" y2="852.40" stroke="#000" stroke-width="1.6" />
<text x="395.5" y="858.2" font-size="16" text-anchor="end" >1.0</text>
<line x1="403.00" y1="817.50" x2="407.50" y2="817.50" stroke="#000" stroke-width="1.6" />
<text x="395.5" y="823.3" font-size="16" text-anchor="end" >1.5</text>
<line x1="403.00" y1="782.70" x2="407.50" y2="782.70" stroke="#000" stroke-width="1.6" />
<text x="395.5" y="788.5" font-size="16" text-anchor="end" >2.0</text>
<line x1="403.00" y1="750.70" x2="407.50" y2="750.70" stroke="#000" stroke-width="1.6" />
<text x="395.5" y="756.5" font-size="16" text-anchor="end" >2.5</text>
<line x1="406.70" y1="921.50" x2="810.00" y2="921.50" stroke="#000" stroke-width="1.6" />
<line x1="425.80" y1="842.40" x2="425.80" y2="851.50" stroke="#000" stroke-width="1.5" />
<rect x="419.40" y="851.50" width="12.80" height="70.00" fill="#000" />
<line x1="438.30" y1="796.00" x2="438.30" y2="800.00" stroke="#000" stroke-width="1.5" />
<rect x="432.90" y="800.70" width="10.80" height="120.80" fill="#f00" stroke="#000" stroke-width="1.4"/>
<text x="437.0" y="791.2" font-size="20" text-anchor="middle" >*</text>
<line x1="432.20" y1="921.50" x2="432.20" y2="925.00" stroke="#000" stroke-width="1.6" />
<text transform="translate(437.2,945.0) rotate(-30)" font-size="16" text-anchor="end">Aldoa</text>
<line x1="465.40" y1="840.00" x2="465.40" y2="851.50" stroke="#000" stroke-width="1.5" />
<rect x="459.00" y="851.50" width="12.80" height="70.00" fill="#000" />
<line x1="477.90" y1="806.40" x2="477.90" y2="815.00" stroke="#000" stroke-width="1.5" />
<rect x="472.50" y="815.70" width="10.80" height="105.80" fill="#f00" stroke="#000" stroke-width="1.4"/>
<text x="476.6" y="801.6" font-size="20" text-anchor="middle" >*</text>
<line x1="471.80" y1="921.50" x2="471.80" y2="925.00" stroke="#000" stroke-width="1.6" />
<text transform="translate(476.8,945.0) rotate(-30)" font-size="16" text-anchor="end">Aldoc</text>
<line x1="505.00" y1="843.00" x2="505.00" y2="851.50" stroke="#000" stroke-width="1.5" />
<rect x="498.60" y="851.50" width="12.80" height="70.00" fill="#000" />
<line x1="517.50" y1="827.30" x2="517.50" y2="828.70" stroke="#000" stroke-width="1.5" />
<rect x="512.10" y="829.40" width="10.80" height="92.10" fill="#f00" stroke="#000" stroke-width="1.4"/>
<text x="516.2" y="822.5" font-size="20" text-anchor="middle" >*</text>
<line x1="511.40" y1="921.50" x2="511.40" y2="925.00" stroke="#000" stroke-width="1.6" />
<text transform="translate(516.4,945.0) rotate(-30)" font-size="16" text-anchor="end">Egln1</text>
<line x1="544.60" y1="843.70" x2="544.60" y2="851.50" stroke="#000" stroke-width="1.5" />
<rect x="538.20" y="851.50" width="12.80" height="70.00" fill="#000" />
<line x1="557.10" y1="830.70" x2="557.10" y2="832.70" stroke="#000" stroke-width="1.5" />
<rect x="551.70" y="833.40" width="10.80" height="88.10" fill="#f00" stroke="#000" stroke-width="1.4"/>
<text x="555.8" y="825.9" font-size="20" text-anchor="middle" >*</text>
<line x1="551.00" y1="921.50" x2="551.00" y2="925.00" stroke="#000" stroke-width="1.6" />
<text transform="translate(556.0,945.0) rotate(-30)" font-size="16" text-anchor="end">Hk2</text>
<line x1="584.20" y1="838.70" x2="584.20" y2="851.50" stroke="#000" stroke-width="1.5" />
<rect x="577.80" y="851.50" width="12.80" height="70.00" fill="#000" />
<line x1="596.70" y1="804.70" x2="596.70" y2="808.30" stroke="#000" stroke-width="1.5" />
<rect x="591.30" y="809.00" width="10.80" height="112.50" fill="#f00" stroke="#000" stroke-width="1.4"/>
<text x="595.4" y="799.9" font-size="20" text-anchor="middle" >*</text>
<line x1="590.60" y1="921.50" x2="590.60" y2="925.00" stroke="#000" stroke-width="1.6" />
<text transform="translate(595.6,945.0) rotate(-30)" font-size="16" text-anchor="end">Ldha</text>
<line x1="623.80" y1="850.00" x2="623.80" y2="851.50" stroke="#000" stroke-width="1.5" />
<rect x="617.40" y="851.50" width="12.80" height="70.00" fill="#000" />
<line x1="636.30" y1="757.30" x2="636.30" y2="762.30" stroke="#000" stroke-width="1.5" />
<rect x="630.90" y="763.00" width="10.80" height="158.50" fill="#f00" stroke="#000" stroke-width="1.4"/>
<text x="635.0" y="752.5" font-size="20" text-anchor="middle" >*</text>
<line x1="630.20" y1="921.50" x2="630.20" y2="925.00" stroke="#000" stroke-width="1.6" />
<text transform="translate(635.2,945.0) rotate(-30)" font-size="16" text-anchor="end">Pfkl</text>
<line x1="663.40" y1="850.00" x2="663.40" y2="851.50" stroke="#000" stroke-width="1.5" />
<rect x="657.00" y="851.50" width="12.80" height="70.00" fill="#000" />
<line x1="675.90" y1="841.30" x2="675.90" y2="843.00" stroke="#000" stroke-width="1.5" />
<rect x="670.50" y="843.70" width="10.80" height="77.80" fill="#f00" stroke="#000" stroke-width="1.4"/>
<text x="674.6" y="836.5" font-size="20" text-anchor="middle" >*</text>
<line x1="669.80" y1="921.50" x2="669.80" y2="925.00" stroke="#000" stroke-width="1.6" />
<text transform="translate(674.8,945.0) rotate(-30)" font-size="16" text-anchor="end">Pfkm</text>
<line x1="703.00" y1="845.60" x2="703.00" y2="851.50" stroke="#000" stroke-width="1.5" />
<rect x="696.60" y="851.50" width="12.80" height="70.00" fill="#000" />
<line x1="715.50" y1="761.00" x2="715.50" y2="765.30" stroke="#000" stroke-width="1.5" />
<rect x="710.10" y="766.00" width="10.80" height="155.50" fill="#f00" stroke="#000" stroke-width="1.4"/>
<text x="714.2" y="756.2" font-size="20" text-anchor="middle" >*</text>
<line x1="709.40" y1="921.50" x2="709.40" y2="925.00" stroke="#000" stroke-width="1.6" />
<text transform="translate(714.4,945.0) rotate(-30)" font-size="16" text-anchor="end">Pgk1</text>
<line x1="742.60" y1="844.40" x2="742.60" y2="851.50" stroke="#000" stroke-width="1.5" />
<rect x="736.20" y="851.50" width="12.80" height="70.00" fill="#000" />
<line x1="755.10" y1="825.00" x2="755.10" y2="828.00" stroke="#000" stroke-width="1.5" />
<rect x="749.70" y="828.70" width="10.80" height="92.80" fill="#f00" stroke="#000" stroke-width="1.4"/>
<text x="753.8" y="820.2" font-size="20" text-anchor="middle" >*</text>
<line x1="749.00" y1="921.50" x2="749.00" y2="925.00" stroke="#000" stroke-width="1.6" />
<text transform="translate(754.0,945.0) rotate(-30)" font-size="16" text-anchor="end">Slc2a1</text>
<line x1="782.20" y1="848.50" x2="782.20" y2="851.50" stroke="#000" stroke-width="1.5" />
<rect x="775.80" y="851.50" width="12.80" height="70.00" fill="#000" />
<line x1="794.70" y1="790.40" x2="794.70" y2="798.20" stroke="#000" stroke-width="1.5" />
<rect x="789.30" y="798.90" width="10.80" height="122.60" fill="#f00" stroke="#000" stroke-width="1.4"/>
<text x="793.4" y="785.6" font-size="20" text-anchor="middle" >*</text>
<line x1="788.60" y1="921.50" x2="788.60" y2="925.00" stroke="#000" stroke-width="1.6" />
<text transform="translate(793.6,945.0) rotate(-30)" font-size="16" text-anchor="end">Pdk1</text>
<text x="354.9" y="1008.0" font-size="37.5" >G</text>
<text x="771.1" y="1011.2" font-size="24.1" text-anchor="middle" >Wnt family genes</text>
<text transform="translate(377,1114) rotate(-90)" font-size="19.6" text-anchor="middle">Relative Level</text>
<rect x="1039.20" y="1020.20" width="18.50" height="19.00" fill="#000" />
<rect x="1039.20" y="1048.20" width="18.50" height="18.80" fill="#f00" />
<text x="1072.7" y="1038.2" font-size="23.85" >Normoxia</text>
<text x="1072.7" y="1066.8" font-size="23.85" >Hypoxia</text>
<line x1="408.80" y1="1029.80" x2="408.80" y2="1197.25" stroke="#000" stroke-width="1.6" />
<line x1="404.30" y1="1196.90" x2="408.80" y2="1196.90" stroke="#000" stroke-width="1.6" />
<text x="398.5" y="1202.7" font-size="15" text-anchor="end" >0</text>
<line x1="404.30" y1="1163.10" x2="408.80" y2="1163.10" stroke="#000" stroke-width="1.6" />
<text x="398.5" y="1168.9" font-size="15" text-anchor="end" >1</text>
<line x1="404.30" y1="1129.90" x2="408.80" y2="1129.90" stroke="#000" stroke-width="1.6" />
<text x="398.5" y="1135.7" font-size="15" text-anchor="end" >2</text>
<line x1="404.30" y1="1096.90" x2="408.80" y2="1096.90" stroke="#000" stroke-width="1.6" />
<text x="398.5" y="1102.7" font-size="15" text-anchor="end" >3</text>
<line x1="404.30" y1="1063.30" x2="408.80" y2="1063.30" stroke="#000" stroke-width="1.6" />
<text x="398.5" y="1069.1" font-size="15" text-anchor="end" >4</text>
<line x1="404.30" y1="1029.80" x2="408.80" y2="1029.80" stroke="#000" stroke-width="1.6" />
<text x="398.5" y="1035.6" font-size="15" text-anchor="end" >5</text>
<line x1="408.00" y1="1196.50" x2="1131.40" y2="1196.50" stroke="#000" stroke-width="1.6" />
<line x1="427.30" y1="1151.00" x2="427.30" y2="1162.80" stroke="#000" stroke-width="1.5" />
<rect x="421.50" y="1162.80" width="11.60" height="33.70" fill="#000" />
<line x1="439.00" y1="1115.60" x2="439.00" y2="1130.70" stroke="#000" stroke-width="1.5" />
<rect x="433.80" y="1131.40" width="10.40" height="65.10" fill="#f00" stroke="#000" stroke-width="1.4"/>
<text x="437.7" y="1110.6" font-size="20" text-anchor="middle" >*</text>
<line x1="433.10" y1="1196.50" x2="433.10" y2="1200.00" stroke="#000" stroke-width="1.6" />
<text transform="translate(438.6,1216.0) rotate(-30)" font-size="16" text-anchor="end">Wnt1</text>
<line x1="464.90" y1="1157.20" x2="464.90" y2="1162.80" stroke="#000" stroke-width="1.5" />
<rect x="459.10" y="1162.80" width="11.60" height="33.70" fill="#000" />
<line x1="476.60" y1="1182.50" x2="476.60" y2="1188.70" stroke="#000" stroke-width="1.5" />
<rect x="471.40" y="1189.40" width="10.40" height="7.10" fill="#f00" stroke="#000" stroke-width="1.4"/>
<text x="475.3" y="1177.5" font-size="20" text-anchor="middle" >*</text>
<line x1="470.70" y1="1196.50" x2="470.70" y2="1200.00" stroke="#000" stroke-width="1.6" />
<text transform="translate(476.2,1216.0) rotate(-30)" font-size="16" text-anchor="end">Wnt2</text>
<line x1="502.50" y1="1154.10" x2="502.50" y2="1162.80" stroke="#000" stroke-width="1.5" />
<rect x="496.70" y="1162.80" width="11.60" height="33.70" fill="#000" />
<line x1="514.20" y1="1156.30" x2="514.20" y2="1164.00" stroke="#000" stroke-width="1.5" />
<rect x="509.00" y="1164.70" width="10.40" height="31.80" fill="#f00" stroke="#000" stroke-width="1.4"/>
<line x1="508.30" y1="1196.50" x2="508.30" y2="1200.00" stroke="#000" stroke-width="1.6" />
<text transform="translate(513.8,1216.0) rotate(-30)" font-size="16" text-anchor="end">Wnt2b</text>
<line x1="540.10" y1="1162.50" x2="540.10" y2="1162.80" stroke="#000" stroke-width="1.5" />
<rect x="534.30" y="1162.80" width="11.60" height="33.70" fill="#000" />
<line x1="551.80" y1="1175.10" x2="551.80" y2="1176.30" stroke="#000" stroke-width="1.5" />
<rect x="546.60" y="1177.00" width="10.40" height="19.50" fill="#f00" stroke="#000" stroke-width="1.4"/>
<text x="550.5" y="1170.1" font-size="20" text-anchor="middle" >*</text>
<line x1="545.90" y1="1196.50" x2="545.90" y2="1200.00" stroke="#000" stroke-width="1.6" />
<text transform="translate(551.4,1216.0) rotate(-30)" font-size="16" text-anchor="end">Wnt3</text>
<line x1="577.70" y1="1149.20" x2="577.70" y2="1162.80" stroke="#000" stroke-width="1.5" />
<rect x="571.90" y="1162.80" width="11.60" height="33.70" fill="#000" />
<line x1="589.40" y1="1151.70" x2="589.40" y2="1166.50" stroke="#000" stroke-width="1.5" />
<rect x="584.20" y="1167.20" width="10.40" height="29.30" fill="#f00" stroke="#000" stroke-width="1.4"/>
<line x1="583.50" y1="1196.50" x2="583.50" y2="1200.00" stroke="#000" stroke-width="1.6" />
<text transform="translate(589.0,1216.0) rotate(-30)" font-size="16" text-anchor="end">Wnt3a</text>
<line x1="615.30" y1="1148.00" x2="615.30" y2="1162.80" stroke="#000" stroke-width="1.5" />
<rect x="609.50" y="1162.80" width="11.60" height="33.70" fill="#000" />
<line x1="627.00" y1="1170.80" x2="627.00" y2="1173.90" stroke="#000" stroke-width="1.5" />
<rect x="621.80" y="1174.60" width="10.40" height="21.90" fill="#f00" stroke="#000" stroke-width="1.4"/>
<line x1="621.10" y1="1196.50" x2="621.10" y2="1200.00" stroke="#000" stroke-width="1.6" />
<text transform="translate(626.6,1216.0) rotate(-30)" font-size="16" text-anchor="end">Wnt4</text>
<line x1="652.90" y1="1158.50" x2="652.90" y2="1162.80" stroke="#000" stroke-width="1.5" />
<rect x="647.10" y="1162.80" width="11.60" height="33.70" fill="#000" />
<line x1="664.60" y1="1167.70" x2="664.60" y2="1173.90" stroke="#000" stroke-width="1.5" />
<rect x="659.40" y="1174.60" width="10.40" height="21.90" fill="#f00" stroke="#000" stroke-width="1.4"/>
<text x="663.3" y="1162.7" font-size="20" text-anchor="middle" >*</text>
<line x1="658.70" y1="1196.50" x2="658.70" y2="1200.00" stroke="#000" stroke-width="1.6" />
<text transform="translate(664.2,1216.0) rotate(-30)" font-size="16" text-anchor="end">Wnt5a</text>
<line x1="690.50" y1="1157.20" x2="690.50" y2="1162.80" stroke="#000" stroke-width="1.5" />
<rect x="684.70" y="1162.80" width="11.60" height="33.70" fill="#000" />
<line x1="702.20" y1="1170.80" x2="702.20" y2="1175.10" stroke="#000" stroke-width="1.5" />
<rect x="697.00" y="1175.80" width="10.40" height="20.70" fill="#f00" stroke="#000" stroke-width="1.4"/>
<text x="700.9" y="1165.8" font-size="20" text-anchor="middle" >*</text>
<line x1="696.30" y1="1196.50" x2="696.30" y2="1200.00" stroke="#000" stroke-width="1.6" />
<text transform="translate(701.8,1216.0) rotate(-30)" font-size="16" text-anchor="end">Wnt5b</text>
<line x1="728.10" y1="1152.30" x2="728.10" y2="1162.80" stroke="#000" stroke-width="1.5" />
<rect x="722.30" y="1162.80" width="11.60" height="33.70" fill="#000" />
<line x1="739.80" y1="1173.30" x2="739.80" y2="1178.50" stroke="#000" stroke-width="1.5" />
<rect x="734.60" y="1179.20" width="10.40" height="17.30" fill="#f00" stroke="#000" stroke-width="1.4"/>
<line x1="733.90" y1="1196.50" x2="733.90" y2="1200.00" stroke="#000" stroke-width="1.6" />
<text transform="translate(739.4,1216.0) rotate(-30)" font-size="16" text-anchor="end">Wnt6</text>
<line x1="765.70" y1="1153.20" x2="765.70" y2="1162.80" stroke="#000" stroke-width="1.5" />
<rect x="759.90" y="1162.80" width="11.60" height="33.70" fill="#000" />
<line x1="777.40" y1="1174.60" x2="777.40" y2="1185.30" stroke="#000" stroke-width="1.5" />
<rect x="772.20" y="1186.00" width="10.40" height="10.50" fill="#f00" stroke="#000" stroke-width="1.4"/>
<line x1="771.50" y1="1196.50" x2="771.50" y2="1200.00" stroke="#000" stroke-width="1.6" />
<text transform="translate(777.0,1216.0) rotate(-30)" font-size="16" text-anchor="end">Wnt7a</text>
<line x1="803.30" y1="1158.00" x2="803.30" y2="1162.80" stroke="#000" stroke-width="1.5" />
<rect x="797.50" y="1162.80" width="11.60" height="33.70" fill="#000" />
<line x1="815.00" y1="1132.40" x2="815.00" y2="1151.80" stroke="#000" stroke-width="1.5" />
<rect x="809.80" y="1152.50" width="10.40" height="44.00" fill="#f00" stroke="#000" stroke-width="1.4"/>
<line x1="809.10" y1="1196.50" x2="809.10" y2="1200.00" stroke="#000" stroke-width="1.6" />
<text transform="translate(814.6,1216.0) rotate(-30)" font-size="16" text-anchor="end">Wnt7b</text>
<line x1="840.90" y1="1160.10" x2="840.90" y2="1162.80" stroke="#000" stroke-width="1.5" />
<rect x="835.10" y="1162.80" width="11.60" height="33.70" fill="#000" />
<line x1="852.60" y1="1177.40" x2="852.60" y2="1178.90" stroke="#000" stroke-width="1.5" />
<rect x="847.40" y="1179.60" width="10.40" height="16.90" fill="#f00" stroke="#000" stroke-width="1.4"/>
<text x="851.3" y="1172.4" font-size="20" text-anchor="middle" >*</text>
<line x1="846.70" y1="1196.50" x2="846.70" y2="1200.00" stroke="#000" stroke-width="1.6" />
<text transform="translate(852.2,1216.0) rotate(-30)" font-size="16" text-anchor="end">Wnt8a</text>
<line x1="878.50" y1="1148.70" x2="878.50" y2="1162.80" stroke="#000" stroke-width="1.5" />
<rect x="872.70" y="1162.80" width="11.60" height="33.70" fill="#000" />
<line x1="890.20" y1="1040.80" x2="890.20" y2="1100.30" stroke="#000" stroke-width="1.5" />
<rect x="885.00" y="1101.00" width="10.40" height="95.50" fill="#f00" stroke="#000" stroke-width="1.4"/>
<line x1="884.30" y1="1196.50" x2="884.30" y2="1200.00" stroke="#000" stroke-width="1.6" />
<text transform="translate(889.8,1216.0) rotate(-30)" font-size="16" text-anchor="end">Wnt8b</text>
<line x1="916.10" y1="1154.90" x2="916.10" y2="1162.80" stroke="#000" stroke-width="1.5" />
<rect x="910.30" y="1162.80" width="11.60" height="33.70" fill="#000" />
<line x1="927.80" y1="1172.50" x2="927.80" y2="1173.40" stroke="#000" stroke-width="1.5" />
<rect x="922.60" y="1174.10" width="10.40" height="22.40" fill="#f00" stroke="#000" stroke-width="1.4"/>
<line x1="921.90" y1="1196.50" x2="921.90" y2="1200.00" stroke="#000" stroke-width="1.6" />
<text transform="translate(927.4,1216.0) rotate(-30)" font-size="16" text-anchor="end">Wnt9a</text>
<line x1="953.70" y1="1158.90" x2="953.70" y2="1162.80" stroke="#000" stroke-width="1.5" />
<rect x="947.90" y="1162.80" width="11.60" height="33.70" fill="#000" />
<line x1="965.40" y1="1170.30" x2="965.40" y2="1172.50" stroke="#000" stroke-width="1.5" />
<rect x="960.20" y="1173.20" width="10.40" height="23.30" fill="#f00" stroke="#000" stroke-width="1.4"/>
<text x="964.1" y="1165.3" font-size="20" text-anchor="middle" >*</text>
<line x1="959.50" y1="1196.50" x2="959.50" y2="1200.00" stroke="#000" stroke-width="1.6" />
<text transform="translate(965.0,1216.0) rotate(-30)" font-size="16" text-anchor="end">Wnt9b</text>
<line x1="991.30" y1="1135.50" x2="991.30" y2="1162.80" stroke="#000" stroke-width="1.5" />
<rect x="985.50" y="1162.80" width="11.60" height="33.70" fill="#000" />
<line x1="1003.00" y1="1146.60" x2="1003.00" y2="1168.80" stroke="#000" stroke-width="1.5" />
<rect x="997.80" y="1169.50" width="10.40" height="27.00" fill="#f00" stroke="#000" stroke-width="1.4"/>
<line x1="997.10" y1="1196.50" x2="997.10" y2="1200.00" stroke="#000" stroke-width="1.6" />
<text transform="translate(1002.6,1216.0) rotate(-30)" font-size="16" text-anchor="end">Wnt10a</text>
<line x1="1028.90" y1="1151.80" x2="1028.90" y2="1162.80" stroke="#000" stroke-width="1.5" />
<rect x="1023.10" y="1162.80" width="11.60" height="33.70" fill="#000" />
<line x1="1040.60" y1="1164.40" x2="1040.60" y2="1167.80" stroke="#000" stroke-width="1.5" />
<rect x="1035.40" y="1168.50" width="10.40" height="28.00" fill="#f00" stroke="#000" stroke-width="1.4"/>
<line x1="1034.70" y1="1196.50" x2="1034.70" y2="1200.00" stroke="#000" stroke-width="1.6" />
<text transform="translate(1040.2,1216.0) rotate(-30)" font-size="16" text-anchor="end">Wnt10b</text>
<line x1="1066.50" y1="1154.00" x2="1066.50" y2="1162.80" stroke="#000" stroke-width="1.5" />
<rect x="1060.70" y="1162.80" width="11.60" height="33.70" fill="#000" />
<line x1="1078.20" y1="1167.50" x2="1078.20" y2="1169.70" stroke="#000" stroke-width="1.5" />
<rect x="1073.00" y="1170.40" width="10.40" height="26.10" fill="#f00" stroke="#000" stroke-width="1.4"/>
<line x1="1072.30" y1="1196.50" x2="1072.30" y2="1200.00" stroke="#000" stroke-width="1.6" />
<text transform="translate(1077.8,1216.0) rotate(-30)" font-size="16" text-anchor="end">Wnt11</text>
<line x1="1104.10" y1="1137.90" x2="1104.10" y2="1162.80" stroke="#000" stroke-width="1.5" />
<rect x="1098.30" y="1162.80" width="11.60" height="33.70" fill="#000" />
<line x1="1115.80" y1="1172.80" x2="1115.80" y2="1187.30" stroke="#000" stroke-width="1.5" />
<rect x="1110.60" y="1188.00" width="10.40" height="8.50" fill="#f00" stroke="#000" stroke-width="1.4"/>
<line x1="1109.90" y1="1196.50" x2="1109.90" y2="1200.00" stroke="#000" stroke-width="1.6" />
<text transform="translate(1115.4,1216.0) rotate(-30)" font-size="16" text-anchor="end">Wnt16</text>
<text x="354.0" y="1305.5" font-size="37.5" >H</text>
<text x="608.3" y="1308.0" font-size="24.1" text-anchor="middle" >Wnt/<tspan font-family="Liberation Serif" font-weight="normal">β</tspan>-Catenin related genes</text>
<text x="788.0" y="1305.5" font-size="37.5" >I</text>
<text transform="translate(351.5,1424.5) rotate(-90)" font-size="19.6" text-anchor="middle">Relative Level</text>
<line x1="407.00" y1="1337.00" x2="407.00" y2="1512.35" stroke="#000" stroke-width="1.6" />
<line x1="402.50" y1="1511.60" x2="407.00" y2="1511.60" stroke="#000" stroke-width="1.6" />
<text x="395.5" y="1517.4" font-size="15" text-anchor="end" >0</text>
<line x1="402.50" y1="1476.50" x2="407.00" y2="1476.50" stroke="#000" stroke-width="1.6" />
<text x="395.5" y="1482.3" font-size="15" text-anchor="end" >0.25</text>
<line x1="402.50" y1="1441.60" x2="407.00" y2="1441.60" stroke="#000" stroke-width="1.6" />
<text x="395.5" y="1447.4" font-size="15" text-anchor="end" >0.50</text>
<line x1="402.50" y1="1407.00" x2="407.00" y2="1407.00" stroke="#000" stroke-width="1.6" />
<text x="395.5" y="1412.8" font-size="15" text-anchor="end" >0.75</text>
<line x1="402.50" y1="1371.80" x2="407.00" y2="1371.80" stroke="#000" stroke-width="1.6" />
<text x="395.5" y="1377.6" font-size="15" text-anchor="end" >1.0</text>
<line x1="402.50" y1="1337.00" x2="407.00" y2="1337.00" stroke="#000" stroke-width="1.6" />
<text x="395.5" y="1342.8" font-size="15" text-anchor="end" >1.25</text>
<line x1="406.20" y1="1511.60" x2="810.00" y2="1511.60" stroke="#000" stroke-width="1.6" />
<line x1="424.00" y1="1347.20" x2="424.00" y2="1371.60" stroke="#000" stroke-width="1.5" />
<rect x="417.10" y="1371.60" width="13.80" height="140.00" fill="#000" />
<line x1="436.70" y1="1364.30" x2="436.70" y2="1379.50" stroke="#000" stroke-width="1.5" />
<rect x="431.60" y="1380.20" width="10.20" height="131.40" fill="#f00" stroke="#000" stroke-width="1.4"/>
<line x1="430.90" y1="1511.60" x2="430.90" y2="1515.10" stroke="#000" stroke-width="1.6" />
<text transform="translate(435.9,1531.0) rotate(-30)" font-size="16" text-anchor="end">Dkk1</text>
<line x1="463.80" y1="1356.20" x2="463.80" y2="1371.60" stroke="#000" stroke-width="1.5" />
<rect x="456.90" y="1371.60" width="13.80" height="140.00" fill="#000" />
<line x1="476.50" y1="1391.70" x2="476.50" y2="1397.80" stroke="#000" stroke-width="1.5" />
<rect x="471.40" y="1398.50" width="10.20" height="113.10" fill="#f00" stroke="#000" stroke-width="1.4"/>
<text x="475.2" y="1386.5" font-size="20" text-anchor="middle" >*</text>
<line x1="470.70" y1="1511.60" x2="470.70" y2="1515.10" stroke="#000" stroke-width="1.6" />
<text transform="translate(475.7,1531.0) rotate(-30)" font-size="16" text-anchor="end">Myc</text>
<line x1="503.60" y1="1361.50" x2="503.60" y2="1371.60" stroke="#000" stroke-width="1.5" />
<rect x="496.70" y="1371.60" width="13.80" height="140.00" fill="#000" />
<line x1="516.30" y1="1401.50" x2="516.30" y2="1405.60" stroke="#000" stroke-width="1.5" />
<rect x="511.20" y="1406.30" width="10.20" height="105.30" fill="#f00" stroke="#000" stroke-width="1.4"/>
<text x="515.0" y="1396.3" font-size="20" text-anchor="middle" >*</text>
<line x1="510.50" y1="1511.60" x2="510.50" y2="1515.10" stroke="#000" stroke-width="1.6" />
<text transform="translate(515.5,1531.0) rotate(-30)" font-size="16" text-anchor="end">Axin2</text>
<line x1="543.40" y1="1347.20" x2="543.40" y2="1371.60" stroke="#000" stroke-width="1.5" />
<rect x="536.50" y="1371.60" width="13.80" height="140.00" fill="#000" />
<line x1="556.10" y1="1444.40" x2="556.10" y2="1450.90" stroke="#000" stroke-width="1.5" />
<rect x="551.00" y="1451.60" width="10.20" height="60.00" fill="#f00" stroke="#000" stroke-width="1.4"/>
<text x="554.8" y="1439.2" font-size="20" text-anchor="middle" >*</text>
<line x1="550.30" y1="1511.60" x2="550.30" y2="1515.10" stroke="#000" stroke-width="1.6" />
<text transform="translate(555.3,1531.0) rotate(-30)" font-size="16" text-anchor="end">Sp5</text>
<line x1="583.20" y1="1367.60" x2="583.20" y2="1371.60" stroke="#000" stroke-width="1.5" />
<rect x="576.30" y="1371.60" width="13.80" height="140.00" fill="#000" />
<line x1="595.90" y1="1366.40" x2="595.90" y2="1416.60" stroke="#000" stroke-width="1.5" />
<rect x="590.80" y="1417.30" width="10.20" height="94.30" fill="#f00" stroke="#000" stroke-width="1.4"/>
<line x1="590.10" y1="1511.60" x2="590.10" y2="1515.10" stroke="#000" stroke-width="1.6" />
<text transform="translate(595.1,1531.0) rotate(-30)" font-size="16" text-anchor="end">Cdx1</text>
<line x1="623.00" y1="1348.00" x2="623.00" y2="1371.60" stroke="#000" stroke-width="1.5" />
<rect x="616.10" y="1371.60" width="13.80" height="140.00" fill="#000" />
<line x1="635.70" y1="1421.50" x2="635.70" y2="1435.80" stroke="#000" stroke-width="1.5" />
<rect x="630.60" y="1436.50" width="10.20" height="75.10" fill="#f00" stroke="#000" stroke-width="1.4"/>
<text x="634.4" y="1416.3" font-size="20" text-anchor="middle" >*</text>
<line x1="629.90" y1="1511.60" x2="629.90" y2="1515.10" stroke="#000" stroke-width="1.6" />
<text transform="translate(634.9,1531.0) rotate(-30)" font-size="16" text-anchor="end">Fzd9</text>
<line x1="662.80" y1="1355.30" x2="662.80" y2="1371.60" stroke="#000" stroke-width="1.5" />
<rect x="655.90" y="1371.60" width="13.80" height="140.00" fill="#000" />
<line x1="675.50" y1="1414.60" x2="675.50" y2="1425.60" stroke="#000" stroke-width="1.5" />
<rect x="670.40" y="1426.30" width="10.20" height="85.30" fill="#f00" stroke="#000" stroke-width="1.4"/>
<text x="674.2" y="1409.4" font-size="20" text-anchor="middle" >*</text>
<line x1="669.70" y1="1511.60" x2="669.70" y2="1515.10" stroke="#000" stroke-width="1.6" />
<text transform="translate(674.7,1531.0) rotate(-30)" font-size="16" text-anchor="end">Fzd10</text>
<line x1="702.60" y1="1368.80" x2="702.60" y2="1371.60" stroke="#000" stroke-width="1.5" />
<rect x="695.70" y="1371.60" width="13.80" height="140.00" fill="#000" />
<line x1="715.30" y1="1422.30" x2="715.30" y2="1427.20" stroke="#000" stroke-width="1.5" />
<rect x="710.20" y="1427.90" width="10.20" height="83.70" fill="#f00" stroke="#000" stroke-width="1.4"/>
<text x="714.0" y="1417.1" font-size="20" text-anchor="middle" >*</text>
<line x1="709.50" y1="1511.60" x2="709.50" y2="1515.10" stroke="#000" stroke-width="1.6" />
<text transform="translate(714.5,1531.0) rotate(-30)" font-size="16" text-anchor="end">Wnt3</text>
<line x1="742.40" y1="1361.90" x2="742.40" y2="1371.60" stroke="#000" stroke-width="1.5" />
<rect x="735.50" y="1371.60" width="13.80" height="140.00" fill="#000" />
<line x1="755.10" y1="1432.50" x2="755.10" y2="1438.20" stroke="#000" stroke-width="1.5" />
<rect x="750.00" y="1438.90" width="10.20" height="72.70" fill="#f00" stroke="#000" stroke-width="1.4"/>
<text x="753.8" y="1427.3" font-size="20" text-anchor="middle" >*</text>
<line x1="749.30" y1="1511.60" x2="749.30" y2="1515.10" stroke="#000" stroke-width="1.6" />
<text transform="translate(754.3,1531.0) rotate(-30)" font-size="16" text-anchor="end">Wnt8a</text>
<line x1="782.20" y1="1366.00" x2="782.20" y2="1371.60" stroke="#000" stroke-width="1.5" />
<rect x="775.30" y="1371.60" width="13.80" height="140.00" fill="#000" />
<line x1="794.90" y1="1441.10" x2="794.90" y2="1448.90" stroke="#000" stroke-width="1.5" />
<rect x="789.80" y="1449.60" width="10.20" height="62.00" fill="#f00" stroke="#000" stroke-width="1.4"/>
<text x="793.6" y="1435.9" font-size="20" text-anchor="middle" >*</text>
<line x1="789.10" y1="1511.60" x2="789.10" y2="1515.10" stroke="#000" stroke-width="1.6" />
<text transform="translate(794.1,1531.0) rotate(-30)" font-size="16" text-anchor="end">Pygo1</text>
<text x="834.1" y="683.1" font-size="37.5" >F</text>
<text x="1008.8" y="720.8" font-size="24.1" text-anchor="middle" >HIF-1 signaling pathway</text>
<text transform="translate(820,835.5) rotate(-90)" font-size="15.9" text-anchor="middle">Running Enrichment Score</text>
<text x="1008.3" y="969.0" font-size="16.1" text-anchor="middle" >Position in the Ranked List of Genes</text>
<rect x="863.30" y="750.20" width="290.00" height="172.50" fill="#fff" />
<line x1="863.30" y1="772.61" x2="1153.30" y2="772.61" stroke="#f2f2f2" stroke-width="1" />
<line x1="863.30" y1="807.78" x2="1153.30" y2="807.78" stroke="#f2f2f2" stroke-width="1" />
<line x1="863.30" y1="842.95" x2="1153.30" y2="842.95" stroke="#f2f2f2" stroke-width="1" />
<line x1="863.30" y1="878.12" x2="1153.30" y2="878.12" stroke="#f2f2f2" stroke-width="1" />
<line x1="863.30" y1="913.29" x2="1153.30" y2="913.29" stroke="#f2f2f2" stroke-width="1" />
<line x1="920.96" y1="750.20" x2="920.96" y2="922.70" stroke="#f2f2f2" stroke-width="1" />
<line x1="1008.29" y1="750.20" x2="1008.29" y2="922.70" stroke="#f2f2f2" stroke-width="1" />
<line x1="1095.62" y1="750.20" x2="1095.62" y2="922.70" stroke="#f2f2f2" stroke-width="1" />
<line x1="863.30" y1="755.02" x2="1153.30" y2="755.02" stroke="#e6e6e6" stroke-width="1.3" />
<line x1="863.30" y1="790.19" x2="1153.30" y2="790.19" stroke="#e6e6e6" stroke-width="1.3" />
<line x1="863.30" y1="825.36" x2="1153.30" y2="825.36" stroke="#e6e6e6" stroke-width="1.3" />
<line x1="863.30" y1="860.53" x2="1153.30" y2="860.53" stroke="#e6e6e6" stroke-width="1.3" />
<line x1="863.30" y1="895.70" x2="1153.30" y2="895.70" stroke="#e6e6e6" stroke-width="1.3" />
<line x1="877.30" y1="750.20" x2="877.30" y2="922.70" stroke="#e6e6e6" stroke-width="1.3" />
<line x1="964.63" y1="750.20" x2="964.63" y2="922.70" stroke="#e6e6e6" stroke-width="1.3" />
<line x1="1051.96" y1="750.20" x2="1051.96" y2="922.70" stroke="#e6e6e6" stroke-width="1.3" />
<line x1="1139.29" y1="750.20" x2="1139.29" y2="922.70" stroke="#e6e6e6" stroke-width="1.3" />
<line x1="863.30" y1="895.70" x2="1153.30" y2="895.70" stroke="#000" stroke-width="2.2" />
<path d="M880.0 887.3V903.3M881.0 887.3V903.3M882.0 887.3V903.3M883.0 887.3V903.3M884.0 887.3V903.3M885.0 887.3V903.3M886.0 887.3V903.3M887.0 887.3V903.3M888.0 887.3V903.3M889.0 887.3V903.3M890.0 887.3V903.3M891.0 887.3V903.3M892.0 887.3V903.3M893.0 887.3V903.3M896.7 887.3V903.3M898.7 887.3V903.3M903.3 887.3V903.3M907.3 887.3V903.3M913.3 887.3V903.3M914.7 887.3V903.3M916.0 887.3V903.3M917.3 887.3V903.3M924.0 887.3V903.3M936.7 887.3V903.3M939.3 887.3V903.3M943.3 887.3V903.3M945.7 887.3V903.3M951.7 887.3V903.3M953.3 887.3V903.3M955.0 887.3V903.3M961.7 887.3V903.3M968.3 887.3V903.3M970.0 887.3V903.3M971.7 887.3V903.3M973.3 887.3V903.3M980.0 887.3V903.3M985.0 887.3V903.3M991.7 887.3V903.3M996.7 887.3V903.3M1006.7 887.3V903.3M1008.0 887.3V903.3M1009.3 887.3V903.3M1010.7 887.3V903.3M1012.0 887.3V903.3M1013.3 887.3V903.3M1016.7 887.3V903.3M1018.3 887.3V903.3M1020.0 887.3V903.3M1021.7 887.3V903.3M1026.7 887.3V903.3M1028.0 887.3V903.3M1030.0 887.3V903.3M1033.3 887.3V903.3M1035.0 887.3V903.3M1036.7 887.3V903.3M1038.3 887.3V903.3M1048.3 887.3V903.3M1053.3 887.3V903.3M1055.0 887.3V903.3M1056.7 887.3V903.3M1065.0 887.3V903.3M1066.7 887.3V903.3M1070.0 887.3V903.3M1071.7 887.3V903.3M1075.0 887.3V903.3M1076.7 887.3V903.3M1078.3 887.3V903.3M1080.0 887.3V903.3M1083.3 887.3V903.3M1085.0 887.3V903.3M1086.7 887.3V903.3M1088.3 887.3V903.3M1090.0 887.3V903.3M1096.7 887.3V903.3M1098.3 887.3V903.3M1100.0 887.3V903.3M1101.7 887.3V903.3M1106.7 887.3V903.3M1110.0 887.3V903.3M1113.3 887.3V903.3M1120.0 887.3V903.3M1121.7 887.3V903.3M1123.3 887.3V903.3M1125.0 887.3V903.3M1126.7 887.3V903.3M1128.3 887.3V903.3" stroke="#000" stroke-width="1.6" fill="none" />
<line x1="917.50" y1="750.20" x2="917.50" y2="922.70" stroke="#f22" stroke-width="1.8" stroke-dasharray="2 2"/>
<polyline points="878.3,898.3 880.0,850.0 880.0,846.5 881.0,847.8 881.0,840.8 882.0,842.1 882.0,832.7 883.0,834.0 883.0,815.0 884.0,816.3 884.0,808.7 885.0,810.0 885.0,802.5 886.0,803.8 886.0,797.2 887.0,798.5 887.0,792.9 888.0,794.2 888.0,788.5 889.0,789.8 889.0,783.5 890.0,784.8 890.0,780.5 891.0,781.8 891.0,779.5 892.0,780.8 892.0,778.5 893.0,779.8 893.0,773.6 896.7,778.5 896.7,771.5 898.7,774.2 898.7,767.0 903.3,773.3 903.3,763.3 907.3,768.7 907.3,759.0 913.3,767.0 913.3,759.4 914.7,761.2 914.7,760.1 916.0,761.9 916.0,760.8 917.3,762.6 917.3,755.5 924.0,764.5 924.0,756.4 936.7,773.4 936.7,772.4 939.3,776.0 939.3,773.8 943.3,779.1 943.3,777.0 945.7,780.1 945.7,777.3 951.7,785.4 951.7,780.9 953.3,783.1 953.3,781.4 955.0,783.6 955.0,782.2 961.7,791.1 961.7,786.9 968.3,795.8 968.3,793.3 970.0,795.6 970.0,794.2 971.7,796.4 971.7,795.1 973.3,797.3 973.3,795.5 980.0,804.5 980.0,802.5 985.0,809.2 985.0,807.6 991.7,816.5 991.7,816.0 996.7,822.7 996.7,822.0 1006.7,835.4 1006.7,834.9 1008.0,836.7 1008.0,836.6 1009.3,838.4 1009.3,838.3 1010.7,840.1 1010.7,839.9 1012.0,841.7 1012.0,841.6 1013.3,843.4 1013.3,843.0 1016.7,847.5 1016.7,847.1 1018.3,849.3 1018.3,849.0 1020.0,851.3 1020.0,851.0 1021.7,853.2 1021.7,852.6 1026.7,859.3 1026.7,858.8 1028.0,860.6 1028.0,860.3 1030.0,863.0 1030.0,862.5 1033.3,867.0 1033.3,866.6 1035.0,868.8 1035.0,868.7 1036.7,870.9 1036.7,870.8 1038.3,873.0 1038.3,872.5 1048.3,885.9 1048.3,882.5 1053.3,889.2 1053.3,886.8 1055.0,889.0 1055.0,887.8 1056.7,890.1 1056.7,886.9 1065.0,898.1 1065.0,896.4 1066.7,898.6 1066.7,896.9 1070.0,901.4 1070.0,899.3 1071.7,901.5 1071.7,899.4 1075.0,903.9 1075.0,901.8 1076.7,904.0 1076.7,902.6 1078.3,904.9 1078.3,903.5 1080.0,905.7 1080.0,903.6 1083.3,908.1 1083.3,906.0 1085.0,908.2 1085.0,906.8 1086.7,909.0 1086.7,907.6 1088.3,909.9 1088.3,908.5 1090.0,910.7 1090.0,907.2 1096.7,916.1 1096.7,910.2 1098.3,912.4 1098.3,907.6 1100.0,909.8 1100.0,906.2 1101.7,908.5 1101.7,905.3 1106.7,912.0 1106.7,906.4 1110.0,910.9 1110.0,905.0 1113.3,909.5 1113.3,899.4 1120.0,908.4 1120.0,901.2 1121.7,903.5 1121.7,902.6 1123.3,904.9 1123.3,903.5 1125.0,905.7 1125.0,899.3 1126.7,901.5 1126.7,886.0 1128.3,888.3 1128.3,880.0 1139.3,895.0" fill="none" stroke="#00ee00" stroke-width="2.4" stroke-linejoin="round"/>
<rect x="863.3" y="750.2" width="290.0" height="172.5" fill="none" stroke="#333" stroke-width="1.6"/>
<line x1="859.30" y1="755.02" x2="863.30" y2="755.02" stroke="#333" stroke-width="1.3" />
<text x="853.5" y="760.3" font-size="15" text-anchor="end" >0.4</text>
<line x1="859.30" y1="790.19" x2="863.30" y2="790.19" stroke="#333" stroke-width="1.3" />
<text x="853.5" y="795.5" font-size="15" text-anchor="end" >0.3</text>
<line x1="859.30" y1="825.36" x2="863.30" y2="825.36" stroke="#333" stroke-width="1.3" />
<text x="853.5" y="830.7" font-size="15" text-anchor="end" >0.2</text>
<line x1="859.30" y1="860.53" x2="863.30" y2="860.53" stroke="#333" stroke-width="1.3" />
<text x="853.5" y="865.8" font-size="15" text-anchor="end" >0.1</text>
<line x1="859.30" y1="895.70" x2="863.30" y2="895.70" stroke="#333" stroke-width="1.3" />
<text x="853.5" y="901.0" font-size="15" text-anchor="end" >0.0</text>
<line x1="877.30" y1="922.70" x2="877.30" y2="926.70" stroke="#333" stroke-width="1.3" />
<text x="877.3" y="945.5" font-size="16" text-anchor="middle" >0</text>
<line x1="964.63" y1="922.70" x2="964.63" y2="926.70" stroke="#333" stroke-width="1.3" />
<text x="964.6" y="945.5" font-size="16" text-anchor="middle" >5000</text>
<line x1="1051.96" y1="922.70" x2="1051.96" y2="926.70" stroke="#333" stroke-width="1.3" />
<text x="1052.0" y="945.5" font-size="16" text-anchor="middle" >10000</text>
<line x1="1139.29" y1="922.70" x2="1139.29" y2="926.70" stroke="#333" stroke-width="1.3" />
<text x="1139.3" y="945.5" font-size="16" text-anchor="middle" >15000</text>
<text x="1007.7" y="1306.6" font-size="24.06" text-anchor="middle" >Wnt/<tspan font-family="Liberation Serif" font-weight="normal">β</tspan>-Catenin signaling pathway</text>
<text transform="translate(823,1425.2) rotate(-90)" font-size="15.9" text-anchor="middle">Running Enrichment Score</text>
<text x="1009.5" y="1559.3" font-size="16.1" text-anchor="middle" >Position in the Ranked List of Genes</text>
<rect x="865.20" y="1338.60" width="288.70" height="173.20" fill="#fff" />
<line x1="865.20" y1="1349.48" x2="1153.90" y2="1349.48" stroke="#f2f2f2" stroke-width="1" />
<line x1="865.20" y1="1381.62" x2="1153.90" y2="1381.62" stroke="#f2f2f2" stroke-width="1" />
<line x1="865.20" y1="1413.78" x2="1153.90" y2="1413.78" stroke="#f2f2f2" stroke-width="1" />
<line x1="865.20" y1="1445.92" x2="1153.90" y2="1445.92" stroke="#f2f2f2" stroke-width="1" />
<line x1="865.20" y1="1478.08" x2="1153.90" y2="1478.08" stroke="#f2f2f2" stroke-width="1" />
<line x1="865.20" y1="1510.23" x2="1153.90" y2="1510.23" stroke="#f2f2f2" stroke-width="1" />
<line x1="921.79" y1="1338.60" x2="921.79" y2="1511.80" stroke="#f2f2f2" stroke-width="1" />
<line x1="1009.15" y1="1338.60" x2="1009.15" y2="1511.80" stroke="#f2f2f2" stroke-width="1" />
<line x1="1096.53" y1="1338.60" x2="1096.53" y2="1511.80" stroke="#f2f2f2" stroke-width="1" />
<line x1="865.20" y1="1365.55" x2="1153.90" y2="1365.55" stroke="#e6e6e6" stroke-width="1.3" />
<line x1="865.20" y1="1397.70" x2="1153.90" y2="1397.70" stroke="#e6e6e6" stroke-width="1.3" />
<line x1="865.20" y1="1429.85" x2="1153.90" y2="1429.85" stroke="#e6e6e6" stroke-width="1.3" />
<line x1="865.20" y1="1462.00" x2="1153.90" y2="1462.00" stroke="#e6e6e6" stroke-width="1.3" />
<line x1="865.20" y1="1494.15" x2="1153.90" y2="1494.15" stroke="#e6e6e6" stroke-width="1.3" />
<line x1="878.10" y1="1338.60" x2="878.10" y2="1511.80" stroke="#e6e6e6" stroke-width="1.3" />
<line x1="965.47" y1="1338.60" x2="965.47" y2="1511.80" stroke="#e6e6e6" stroke-width="1.3" />
<line x1="1052.84" y1="1338.60" x2="1052.84" y2="1511.80" stroke="#e6e6e6" stroke-width="1.3" />
<line x1="1140.21" y1="1338.60" x2="1140.21" y2="1511.80" stroke="#e6e6e6" stroke-width="1.3" />
<line x1="865.20" y1="1397.70" x2="1153.90" y2="1397.70" stroke="#000" stroke-width="2.2" />
<path d="M881.2 1389.8V1405.2M882.2 1389.8V1405.2M883.2 1389.8V1405.2M884.2 1389.8V1405.2M887.5 1389.8V1405.2M892.5 1389.8V1405.2M895.0 1389.8V1405.2M896.0 1389.8V1405.2M897.0 1389.8V1405.2M898.0 1389.8V1405.2M899.0 1389.8V1405.2M900.0 1389.8V1405.2M901.0 1389.8V1405.2M902.0 1389.8V1405.2M903.0 1389.8V1405.2M904.0 1389.8V1405.2M905.0 1389.8V1405.2M906.0 1389.8V1405.2M908.8 1389.8V1405.2M909.8 1389.8V1405.2M910.8 1389.8V1405.2M911.8 1389.8V1405.2M912.8 1389.8V1405.2M913.8 1389.8V1405.2M914.8 1389.8V1405.2M922.5 1389.8V1405.2M925.0 1389.8V1405.2M927.0 1389.8V1405.2M929.8 1389.8V1405.2M932.5 1389.8V1405.2M934.5 1389.8V1405.2M937.2 1389.8V1405.2M940.0 1389.8V1405.2M942.5 1389.8V1405.2M944.6 1389.8V1405.2M946.7 1389.8V1405.2M948.8 1389.8V1405.2M951.2 1389.8V1405.2M955.0 1389.8V1405.2M957.5 1389.8V1405.2M960.0 1389.8V1405.2M962.5 1389.8V1405.2M965.0 1389.8V1405.2M967.5 1389.8V1405.2M970.0 1389.8V1405.2M973.8 1389.8V1405.2M976.2 1389.8V1405.2M978.8 1389.8V1405.2M980.0 1389.8V1405.2M981.0 1389.8V1405.2M982.0 1389.8V1405.2M983.0 1389.8V1405.2M984.0 1389.8V1405.2M985.0 1389.8V1405.2M986.0 1389.8V1405.2M987.0 1389.8V1405.2M988.0 1389.8V1405.2M989.0 1389.8V1405.2M990.0 1389.8V1405.2M991.2 1389.8V1405.2M993.8 1389.8V1405.2M996.2 1389.8V1405.2M997.5 1389.8V1405.2M998.5 1389.8V1405.2M999.5 1389.8V1405.2M1000.5 1389.8V1405.2M1001.5 1389.8V1405.2M1002.5 1389.8V1405.2M1003.5 1389.8V1405.2M1004.5 1389.8V1405.2M1005.5 1389.8V1405.2M1006.5 1389.8V1405.2M1007.5 1389.8V1405.2M1010.0 1389.8V1405.2M1012.5 1389.8V1405.2M1015.0 1389.8V1405.2M1017.5 1389.8V1405.2M1020.0 1389.8V1405.2M1022.5 1389.8V1405.2M1025.0 1389.8V1405.2M1027.5 1389.8V1405.2M1030.0 1389.8V1405.2M1032.5 1389.8V1405.2M1036.2 1389.8V1405.2M1040.0 1389.8V1405.2M1041.2 1389.8V1405.2M1043.8 1389.8V1405.2M1046.2 1389.8V1405.2M1048.8 1389.8V1405.2M1052.5 1389.8V1405.2M1055.0 1389.8V1405.2M1057.5 1389.8V1405.2M1060.0 1389.8V1405.2M1068.8 1389.8V1405.2M1069.8 1389.8V1405.2M1070.8 1389.8V1405.2M1071.8 1389.8V1405.2M1072.8 1389.8V1405.2M1073.8 1389.8V1405.2M1081.2 1389.8V1405.2M1088.8 1389.8V1405.2M1092.5 1389.8V1405.2M1095.0 1389.8V1405.2M1097.5 1389.8V1405.2M1100.0 1389.8V1405.2M1102.5 1389.8V1405.2M1105.0 1389.8V1405.2M1107.5 1389.8V1405.2M1110.0 1389.8V1405.2M1112.5 1389.8V1405.2M1113.5 1389.8V1405.2M1114.5 1389.8V1405.2M1115.5 1389.8V1405.2M1116.5 1389.8V1405.2M1117.5 1389.8V1405.2M1118.5 1389.8V1405.2M1119.5 1389.8V1405.2M1120.5 1389.8V1405.2M1121.5 1389.8V1405.2M1122.5 1389.8V1405.2M1123.5 1389.8V1405.2M1124.5 1389.8V1405.2M1125.5 1389.8V1405.2M1126.5 1389.8V1405.2M1127.5 1389.8V1405.2M1131.2 1389.8V1405.2M1134.4 1389.8V1405.2M1137.5 1389.8V1405.2" stroke="#000" stroke-width="1.6" fill="none" />
<line x1="1089.30" y1="1338.60" x2="1089.30" y2="1511.80" stroke="#f22" stroke-width="1.8" stroke-dasharray="2 2"/>
<polyline points="879.5,1400.1 881.2,1389.2 881.2,1387.6 882.2,1388.8 882.2,1385.4 883.2,1386.6 883.2,1383.2 884.2,1384.4 884.2,1377.3 887.5,1381.2 887.5,1370.0 892.5,1376.1 892.5,1366.5 895.0,1369.6 895.0,1365.7 896.0,1366.9 896.0,1364.7 897.0,1365.9 897.0,1363.7 898.0,1364.9 898.0,1362.7 899.0,1363.9 899.0,1361.7 900.0,1363.0 900.0,1360.9 901.0,1362.2 901.0,1360.1 902.0,1361.4 902.0,1359.3 903.0,1360.6 903.0,1358.4 904.0,1359.6 904.0,1357.4 905.0,1358.6 905.0,1356.4 906.0,1357.6 906.0,1354.2 908.8,1357.5 908.8,1354.5 909.8,1355.7 909.8,1353.3 910.8,1354.5 910.8,1351.7 911.8,1352.9 911.8,1350.1 912.8,1351.3 912.8,1348.5 913.8,1349.8 913.8,1347.1 914.8,1348.4 914.8,1346.3 922.5,1355.8 922.5,1353.3 925.0,1356.4 925.0,1355.1 927.0,1357.6 927.0,1356.3 929.8,1359.6 929.8,1358.1 932.5,1361.5 932.5,1360.1 934.5,1362.6 934.5,1361.3 937.2,1364.6 937.2,1363.1 940.0,1366.5 940.0,1365.1 942.5,1368.2 942.5,1367.2 944.6,1369.8 944.6,1368.9 946.7,1371.4 946.7,1370.7 948.8,1373.2 948.8,1372.4 951.2,1375.5 951.2,1374.7 955.0,1379.3 955.0,1378.8 957.5,1381.8 957.5,1381.8 960.0,1384.9 960.0,1384.9 962.5,1387.9 962.5,1387.8 965.0,1390.9 965.0,1390.3 967.5,1393.4 967.5,1392.8 970.0,1395.9 970.0,1394.9 973.8,1399.5 973.8,1397.8 976.2,1400.8 976.2,1399.4 978.8,1402.5 978.8,1401.4 980.0,1403.0 980.0,1402.3 981.0,1403.6 981.0,1403.1 982.0,1404.3 982.0,1404.1 983.0,1405.3 983.0,1405.1 984.0,1406.3 984.0,1406.1 985.0,1407.3 985.0,1407.1 986.0,1408.3 986.0,1408.1 987.0,1409.3 987.0,1409.1 988.0,1410.3 988.0,1410.1 989.0,1411.3 989.0,1411.1 990.0,1412.3 990.0,1412.0 991.2,1413.6 991.2,1413.1 993.8,1416.2 993.8,1415.6 996.2,1418.7 996.2,1418.3 997.5,1419.8 997.5,1419.6 998.5,1420.8 998.5,1420.6 999.5,1421.8 999.5,1421.6 1000.5,1422.8 1000.5,1422.6 1001.5,1423.8 1001.5,1423.6 1002.5,1424.8 1002.5,1424.6 1003.5,1425.8 1003.5,1425.6 1004.5,1426.8 1004.5,1426.6 1005.5,1427.8 1005.5,1427.6 1006.5,1428.8 1006.5,1428.6 1007.5,1429.8 1007.5,1429.4 1010.0,1432.4 1010.0,1431.9 1012.5,1434.9 1012.5,1434.4 1015.0,1437.4 1015.0,1436.9 1017.5,1439.9 1017.5,1439.4 1020.0,1442.4 1020.0,1441.9 1022.5,1444.9 1022.5,1444.4 1025.0,1447.4 1025.0,1446.9 1027.5,1449.9 1027.5,1449.4 1030.0,1452.4 1030.0,1452.4 1032.5,1455.5 1032.5,1455.5 1036.2,1460.1 1036.2,1460.1 1040.0,1464.6 1040.0,1464.3 1041.2,1465.8 1041.2,1464.9 1043.8,1468.0 1043.8,1466.8 1046.2,1469.9 1046.2,1468.7 1048.8,1471.7 1048.8,1470.3 1052.5,1474.9 1052.5,1473.6 1055.0,1476.6 1055.0,1475.2 1057.5,1478.2 1057.5,1476.5 1060.0,1479.6 1060.0,1476.9 1068.8,1487.6 1068.8,1485.8 1069.8,1487.0 1069.8,1486.7 1070.8,1487.9 1070.8,1487.4 1071.8,1488.6 1071.8,1488.2 1072.8,1489.4 1072.8,1488.9 1073.8,1490.1 1073.8,1488.1 1081.2,1497.3 1081.2,1494.1 1088.8,1503.2 1088.8,1500.7 1092.5,1505.3 1092.5,1500.5 1095.0,1503.5 1095.0,1499.7 1097.5,1502.8 1097.5,1498.7 1100.0,1501.8 1100.0,1497.6 1102.5,1500.6 1102.5,1495.6 1105.0,1498.6 1105.0,1492.6 1107.5,1495.6 1107.5,1490.0 1110.0,1493.0 1110.0,1488.0 1112.5,1491.0 1112.5,1487.5 1113.5,1488.7 1113.5,1486.6 1114.5,1487.8 1114.5,1485.8 1115.5,1487.0 1115.5,1484.9 1116.5,1486.1 1116.5,1484.0 1117.5,1485.2 1117.5,1483.1 1118.5,1484.3 1118.5,1478.1 1119.5,1479.3 1119.5,1472.8 1120.5,1474.0 1120.5,1466.8 1121.5,1468.0 1121.5,1463.2 1122.5,1464.4 1122.5,1461.2 1123.5,1462.4 1123.5,1459.2 1124.5,1460.4 1124.5,1457.2 1125.5,1458.4 1125.5,1455.2 1126.5,1456.4 1126.5,1453.2 1127.5,1454.4 1127.5,1444.5 1131.2,1449.0 1131.2,1434.0 1134.4,1437.8 1134.4,1429.0 1137.5,1432.8 1137.5,1408.1 1140.9,1396.7" fill="none" stroke="#00ee00" stroke-width="4" stroke-linejoin="round"/>
<rect x="865.2" y="1338.6" width="288.70000000000005" height="173.20000000000005" fill="none" stroke="#333" stroke-width="1.6"/>
<line x1="861.20" y1="1365.55" x2="865.20" y2="1365.55" stroke="#333" stroke-width="1.3" />
<text x="855.5" y="1370.8" font-size="15" text-anchor="end" >0.1</text>
<line x1="861.20" y1="1397.70" x2="865.20" y2="1397.70" stroke="#333" stroke-width="1.3" />
<text x="855.5" y="1403.0" font-size="15" text-anchor="end" >0.0</text>
<line x1="861.20" y1="1429.85" x2="865.20" y2="1429.85" stroke="#333" stroke-width="1.3" />
<text x="855.5" y="1435.2" font-size="15" text-anchor="end" >-0.1</text>
<line x1="861.20" y1="1462.00" x2="865.20" y2="1462.00" stroke="#333" stroke-width="1.3" />
<text x="855.5" y="1467.3" font-size="15" text-anchor="end" >-0.2</text>
<line x1="861.20" y1="1494.15" x2="865.20" y2="1494.15" stroke="#333" stroke-width="1.3" />
<text x="855.5" y="1499.5" font-size="15" text-anchor="end" >-0.3</text>
<line x1="878.10" y1="1511.80" x2="878.10" y2="1515.80" stroke="#333" stroke-width="1.3" />
<text x="878.1" y="1534.8" font-size="16" text-anchor="middle" >0</text>
<line x1="965.47" y1="1511.80" x2="965.47" y2="1515.80" stroke="#333" stroke-width="1.3" />
<text x="965.5" y="1534.8" font-size="16" text-anchor="middle" >5000</text>
<line x1="1052.84" y1="1511.80" x2="1052.84" y2="1515.80" stroke="#333" stroke-width="1.3" />
<text x="1052.8" y="1534.8" font-size="16" text-anchor="middle" >10000</text>
<line x1="1140.21" y1="1511.80" x2="1140.21" y2="1515.80" stroke="#333" stroke-width="1.3" />
<text x="1140.2" y="1534.8" font-size="16" text-anchor="middle" >15000</text>
</svg></body></html>
